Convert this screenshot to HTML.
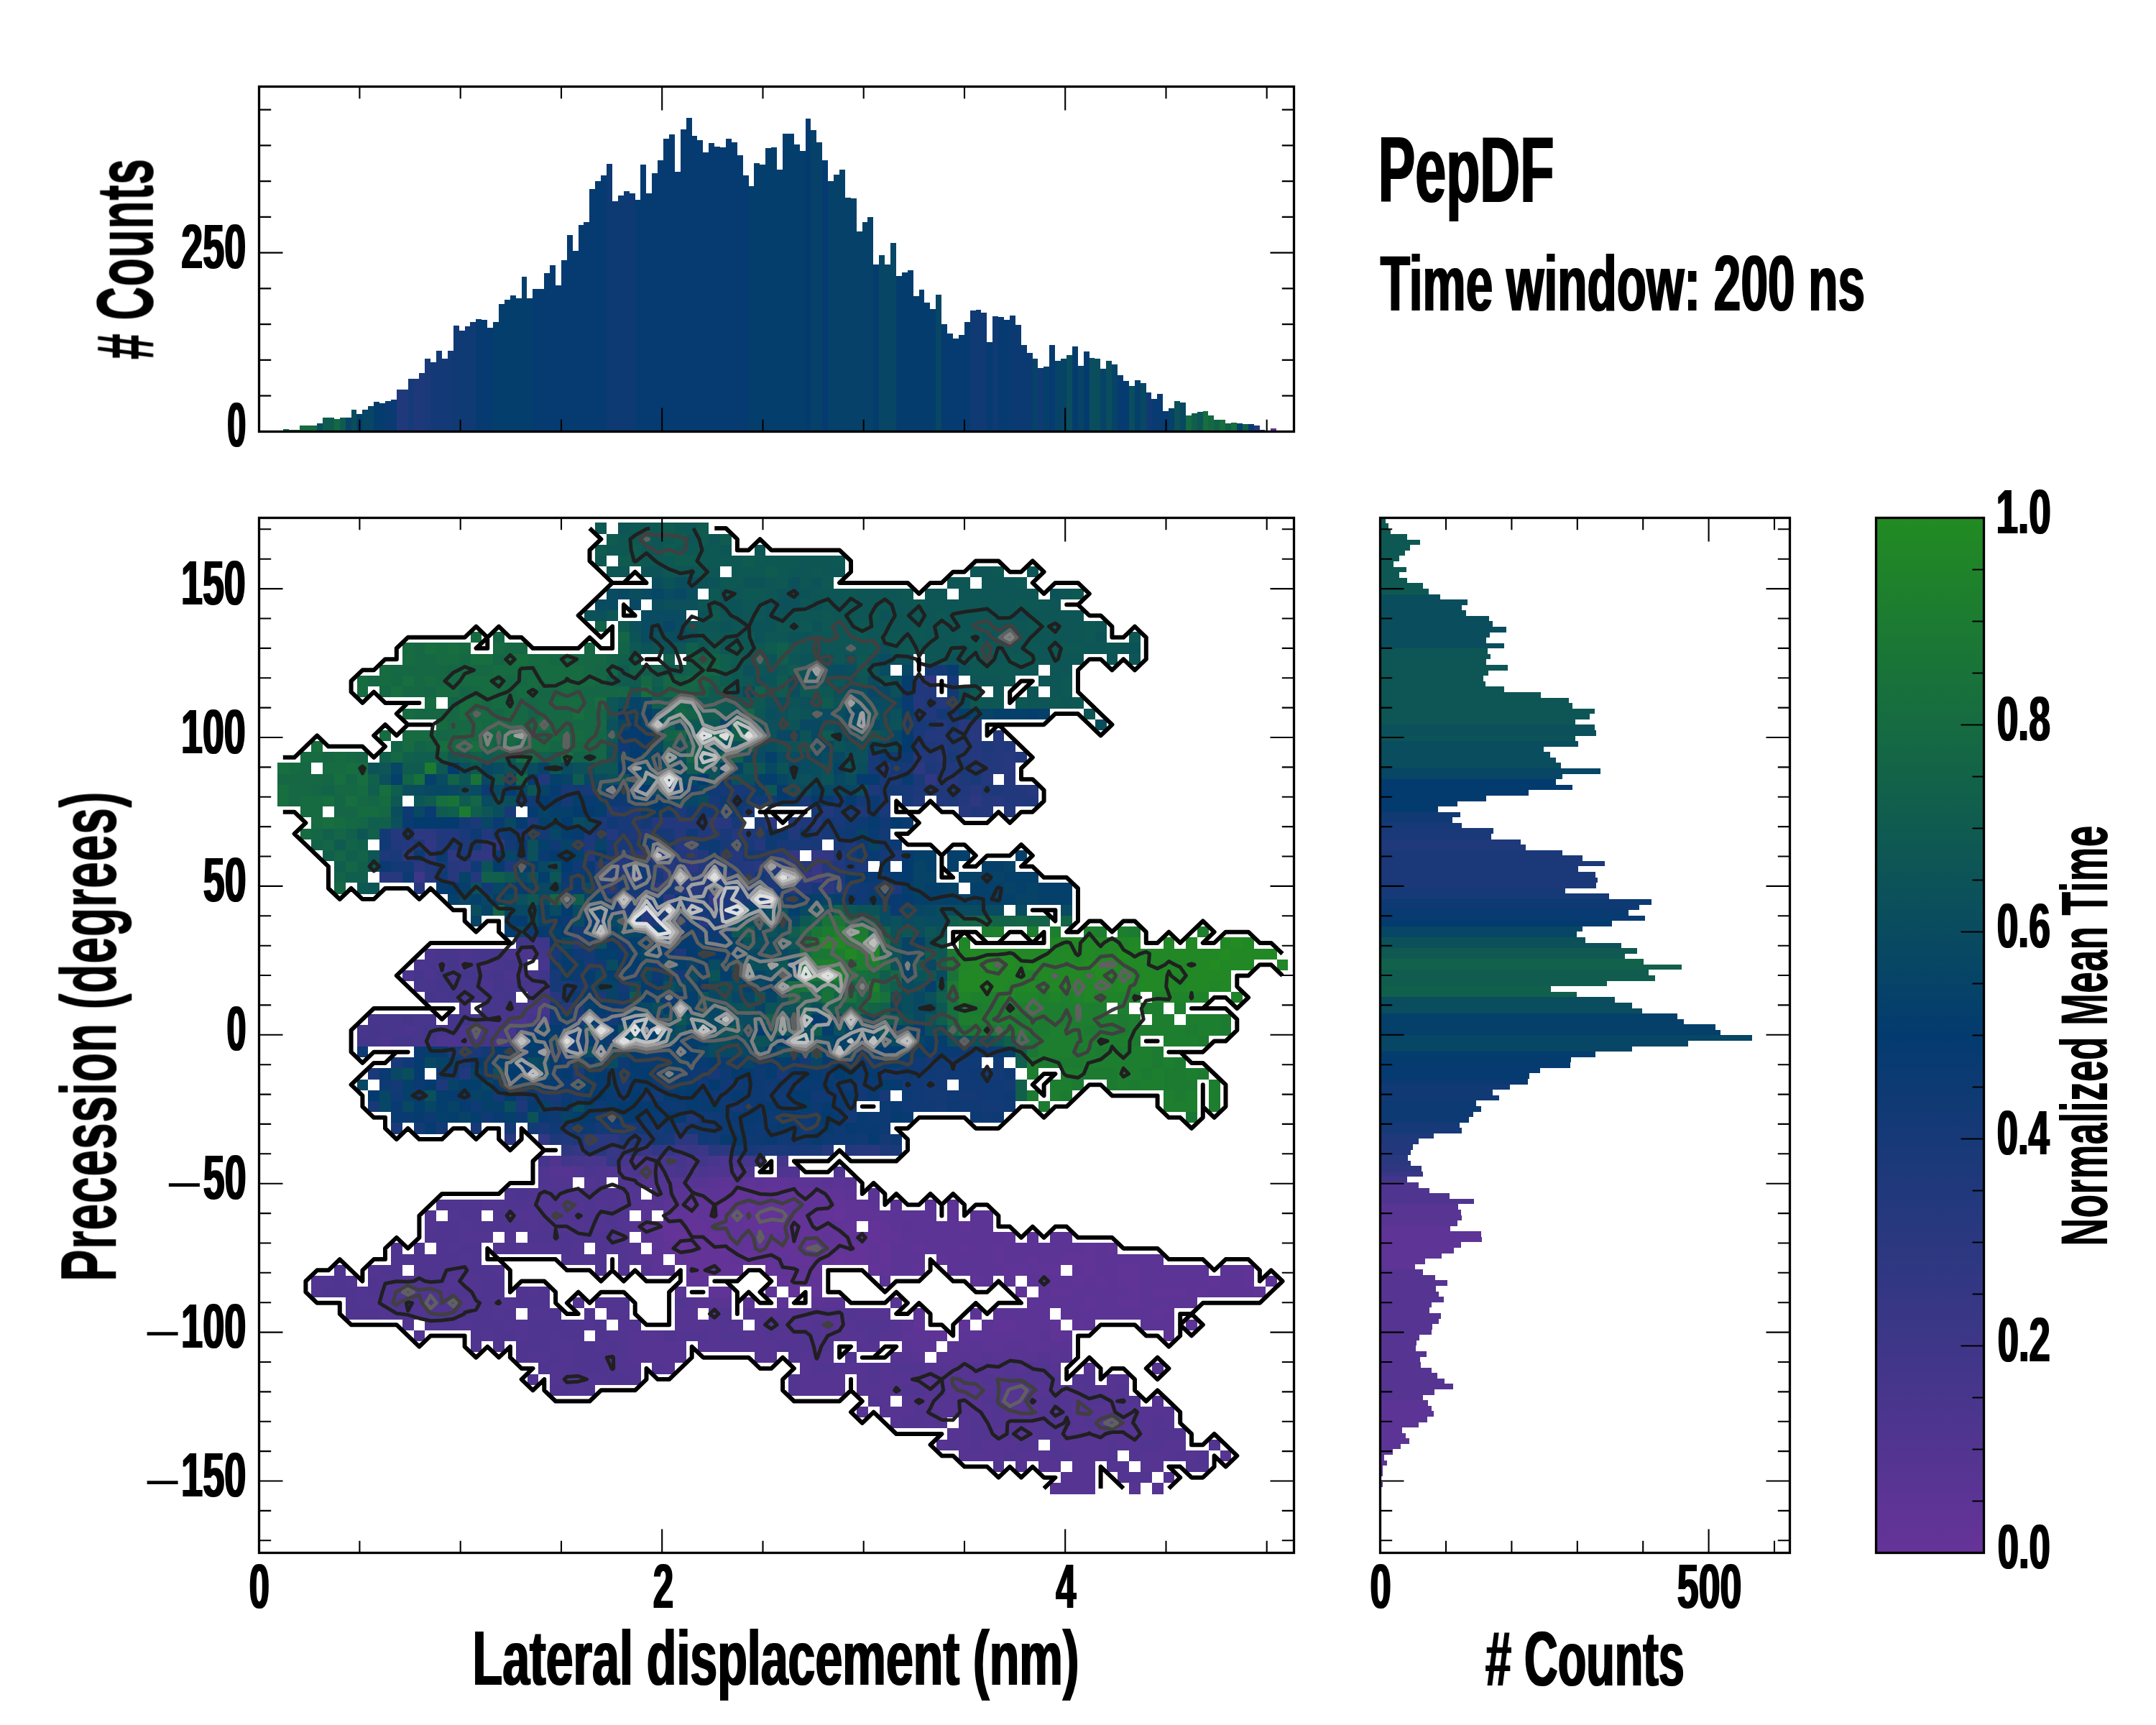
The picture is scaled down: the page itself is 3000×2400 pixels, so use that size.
<!DOCTYPE html>
<html><head><meta charset="utf-8"><title>PepDF</title>
<style>html,body{margin:0;padding:0;background:#fff}svg{display:block}text{font-family:"Liberation Sans",sans-serif;font-weight:bold;fill:#000}</style></head><body>
<svg width="3000" height="2400" viewBox="0 0 3000 2400">
<rect width="3000" height="2400" fill="#fff"/>
<defs><clipPath id="mc"><rect x="360.5" y="720.5" width="1440.0" height="1440.0"/></clipPath></defs>
<g shape-rendering="crispEdges" clip-path="url(#mc)">
<path fill="#663399" d="M1002.2 1668.6H1018.0V1683.8H1002.2ZM1160.2 1683.8H1176.1V1699.0H1160.2ZM1097.0 1699.0H1112.8V1714.2H1097.0ZM939.0 1714.2H954.8V1729.3H939.0ZM986.4 1714.2H1002.2V1729.3H986.4ZM939.0 1729.3H954.8V1744.5H939.0ZM1002.2 1729.3H1018.0V1744.5H1002.2ZM1033.8 1744.5H1049.6V1759.7H1033.8ZM1160.2 1744.5H1176.1V1759.7H1160.2Z"/>
<path fill="#633398" d="M1018.0 1653.4H1033.8V1668.6H1018.0ZM1049.6 1653.4H1081.2V1668.6H1049.6ZM1097.0 1653.4H1112.8V1668.6H1097.0ZM1128.6 1653.4H1144.4V1668.6H1128.6ZM986.4 1668.6H1002.2V1683.8H986.4ZM1018.0 1668.6H1049.6V1683.8H1018.0ZM1065.4 1668.6H1097.0V1683.8H1065.4ZM1160.2 1668.6H1176.1V1683.8H1160.2ZM954.8 1683.8H970.6V1699.0H954.8ZM986.4 1683.8H1018.0V1699.0H986.4ZM1033.8 1683.8H1081.2V1699.0H1033.8ZM1097.0 1683.8H1128.6V1699.0H1097.0ZM1144.4 1683.8H1160.2V1699.0H1144.4ZM923.2 1699.0H986.4V1714.2H923.2ZM1033.8 1699.0H1097.0V1714.2H1033.8ZM1112.8 1699.0H1128.6V1714.2H1112.8ZM1144.4 1699.0H1160.2V1714.2H1144.4ZM1176.1 1699.0H1191.9V1714.2H1176.1ZM1207.7 1699.0H1223.5V1714.2H1207.7ZM923.2 1714.2H939.0V1729.3H923.2ZM954.8 1714.2H986.4V1729.3H954.8ZM1002.2 1714.2H1018.0V1729.3H1002.2ZM1065.4 1714.2H1081.2V1729.3H1065.4ZM1097.0 1714.2H1144.4V1729.3H1097.0ZM1160.2 1714.2H1176.1V1729.3H1160.2ZM1191.9 1714.2H1223.5V1729.3H1191.9ZM954.8 1729.3H1002.2V1744.5H954.8ZM1033.8 1729.3H1207.7V1744.5H1033.8ZM1223.5 1729.3H1239.3V1744.5H1223.5ZM954.8 1744.5H1018.0V1759.7H954.8ZM1049.6 1744.5H1081.2V1759.7H1049.6ZM1097.0 1744.5H1128.6V1759.7H1097.0ZM1144.4 1744.5H1160.2V1759.7H1144.4ZM1176.1 1744.5H1207.7V1759.7H1176.1ZM1223.5 1744.5H1239.3V1759.7H1223.5ZM954.8 1759.7H1033.8V1774.9H954.8ZM1065.4 1759.7H1081.2V1774.9H1065.4ZM1097.0 1759.7H1112.8V1774.9H1097.0ZM1128.6 1759.7H1144.4V1774.9H1128.6ZM1207.7 1759.7H1223.5V1774.9H1207.7ZM1081.2 1774.9H1128.6V1790.1H1081.2ZM1097.0 1790.1H1112.8V1805.3H1097.0ZM1128.6 1790.1H1144.4V1805.3H1128.6Z"/>
<path fill="#5f3496" d="M1033.8 1638.3H1049.6V1653.4H1033.8ZM1065.4 1638.3H1097.0V1653.4H1065.4ZM1002.2 1653.4H1018.0V1668.6H1002.2ZM1033.8 1653.4H1049.6V1668.6H1033.8ZM1081.2 1653.4H1097.0V1668.6H1081.2ZM1112.8 1653.4H1128.6V1668.6H1112.8ZM1144.4 1653.4H1176.1V1668.6H1144.4ZM954.8 1668.6H986.4V1683.8H954.8ZM1049.6 1668.6H1065.4V1683.8H1049.6ZM1097.0 1668.6H1160.2V1683.8H1097.0ZM1176.1 1668.6H1207.7V1683.8H1176.1ZM923.2 1683.8H954.8V1699.0H923.2ZM970.6 1683.8H986.4V1699.0H970.6ZM1018.0 1683.8H1033.8V1699.0H1018.0ZM1081.2 1683.8H1097.0V1699.0H1081.2ZM1128.6 1683.8H1144.4V1699.0H1128.6ZM1176.1 1683.8H1223.5V1699.0H1176.1ZM907.4 1699.0H923.2V1714.2H907.4ZM986.4 1699.0H1033.8V1714.2H986.4ZM1128.6 1699.0H1144.4V1714.2H1128.6ZM1160.2 1699.0H1176.1V1714.2H1160.2ZM1223.5 1699.0H1239.3V1714.2H1223.5ZM1334.1 1699.0H1349.9V1714.2H1334.1ZM1018.0 1714.2H1065.4V1729.3H1018.0ZM1081.2 1714.2H1097.0V1729.3H1081.2ZM1144.4 1714.2H1160.2V1729.3H1144.4ZM1176.1 1714.2H1191.9V1729.3H1176.1ZM1223.5 1714.2H1255.1V1729.3H1223.5ZM1397.3 1714.2H1413.1V1729.3H1397.3ZM923.2 1729.3H939.0V1744.5H923.2ZM1018.0 1729.3H1033.8V1744.5H1018.0ZM1207.7 1729.3H1223.5V1744.5H1207.7ZM1270.9 1729.3H1286.7V1744.5H1270.9ZM1334.1 1729.3H1349.9V1744.5H1334.1ZM1381.5 1729.3H1397.3V1744.5H1381.5ZM1507.9 1729.3H1523.7V1744.5H1507.9ZM1539.5 1729.3H1555.3V1744.5H1539.5ZM939.0 1744.5H954.8V1759.7H939.0ZM1018.0 1744.5H1033.8V1759.7H1018.0ZM1081.2 1744.5H1097.0V1759.7H1081.2ZM1128.6 1744.5H1144.4V1759.7H1128.6ZM1207.7 1744.5H1223.5V1759.7H1207.7ZM1302.5 1744.5H1318.3V1759.7H1302.5ZM1381.5 1744.5H1397.3V1759.7H1381.5ZM1428.9 1744.5H1444.7V1759.7H1428.9ZM1476.3 1744.5H1523.7V1759.7H1476.3ZM1081.2 1759.7H1097.0V1774.9H1081.2ZM1112.8 1759.7H1128.6V1774.9H1112.8ZM1223.5 1759.7H1239.3V1774.9H1223.5ZM1270.9 1759.7H1286.7V1774.9H1270.9ZM1397.3 1759.7H1428.9V1774.9H1397.3ZM1444.7 1759.7H1476.3V1774.9H1444.7ZM1507.9 1759.7H1523.7V1774.9H1507.9ZM1555.3 1759.7H1586.9V1774.9H1555.3ZM1729.2 1759.7H1745.0V1774.9H1729.2ZM954.8 1774.9H986.4V1790.1H954.8ZM1128.6 1774.9H1144.4V1790.1H1128.6ZM1349.9 1774.9H1365.7V1790.1H1349.9ZM1492.1 1774.9H1507.9V1790.1H1492.1ZM1523.7 1774.9H1539.5V1790.1H1523.7ZM1555.3 1774.9H1586.9V1790.1H1555.3ZM1681.7 1774.9H1697.5V1790.1H1681.7ZM1729.2 1774.9H1745.0V1790.1H1729.2ZM986.4 1790.1H1018.0V1805.3H986.4ZM1065.4 1790.1H1081.2V1805.3H1065.4ZM1413.1 1790.1H1428.9V1805.3H1413.1ZM1460.5 1790.1H1492.1V1805.3H1460.5ZM1571.1 1790.1H1586.9V1805.3H1571.1ZM1602.7 1790.1H1650.1V1805.3H1602.7ZM1665.9 1790.1H1681.7V1805.3H1665.9ZM1745.0 1790.1H1760.8V1805.3H1745.0ZM1507.9 1805.3H1523.7V1820.4H1507.9ZM1555.3 1805.3H1586.9V1820.4H1555.3ZM1602.7 1820.4H1618.5V1835.6H1602.7ZM1270.9 1835.6H1286.7V1850.8H1270.9ZM1334.1 1835.6H1349.9V1850.8H1334.1ZM1381.5 1835.6H1413.1V1850.8H1381.5ZM1460.5 1835.6H1476.3V1850.8H1460.5ZM1492.1 1835.6H1507.9V1850.8H1492.1ZM1302.5 1850.8H1318.3V1866.0H1302.5ZM1460.5 1850.8H1476.3V1866.0H1460.5ZM1618.5 1850.8H1634.3V1866.0H1618.5Z"/>
<path fill="#5c3495" d="M1002.2 1638.3H1018.0V1653.4H1002.2ZM1049.6 1638.3H1065.4V1653.4H1049.6ZM1097.0 1638.3H1144.4V1653.4H1097.0ZM1160.2 1638.3H1176.1V1653.4H1160.2ZM954.8 1653.4H1002.2V1668.6H954.8ZM1176.1 1653.4H1191.9V1668.6H1176.1ZM923.2 1668.6H954.8V1683.8H923.2ZM1207.7 1668.6H1223.5V1683.8H1207.7ZM1286.7 1668.6H1302.5V1683.8H1286.7ZM1318.3 1668.6H1334.1V1683.8H1318.3ZM1223.5 1683.8H1302.5V1699.0H1223.5ZM1318.3 1683.8H1334.1V1699.0H1318.3ZM1349.9 1683.8H1381.5V1699.0H1349.9ZM891.6 1699.0H907.4V1714.2H891.6ZM1239.3 1699.0H1255.1V1714.2H1239.3ZM1270.9 1699.0H1334.1V1714.2H1270.9ZM1349.9 1699.0H1381.5V1714.2H1349.9ZM907.4 1714.2H923.2V1729.3H907.4ZM1255.1 1714.2H1397.3V1729.3H1255.1ZM1428.9 1714.2H1444.7V1729.3H1428.9ZM1460.5 1714.2H1492.1V1729.3H1460.5ZM907.4 1729.3H923.2V1744.5H907.4ZM1239.3 1729.3H1270.9V1744.5H1239.3ZM1286.7 1729.3H1334.1V1744.5H1286.7ZM1349.9 1729.3H1381.5V1744.5H1349.9ZM1397.3 1729.3H1507.9V1744.5H1397.3ZM1523.7 1729.3H1539.5V1744.5H1523.7ZM907.4 1744.5H923.2V1759.7H907.4ZM1239.3 1744.5H1286.7V1759.7H1239.3ZM1318.3 1744.5H1381.5V1759.7H1318.3ZM1397.3 1744.5H1428.9V1759.7H1397.3ZM1444.7 1744.5H1476.3V1759.7H1444.7ZM1523.7 1744.5H1618.5V1759.7H1523.7ZM907.4 1759.7H923.2V1774.9H907.4ZM1239.3 1759.7H1270.9V1774.9H1239.3ZM1318.3 1759.7H1397.3V1774.9H1318.3ZM1428.9 1759.7H1444.7V1774.9H1428.9ZM1492.1 1759.7H1507.9V1774.9H1492.1ZM1523.7 1759.7H1555.3V1774.9H1523.7ZM1586.9 1759.7H1681.7V1774.9H1586.9ZM1697.5 1759.7H1729.2V1774.9H1697.5ZM1223.5 1774.9H1239.3V1790.1H1223.5ZM1365.7 1774.9H1381.5V1790.1H1365.7ZM1397.3 1774.9H1413.1V1790.1H1397.3ZM1428.9 1774.9H1492.1V1790.1H1428.9ZM1507.9 1774.9H1523.7V1790.1H1507.9ZM1539.5 1774.9H1555.3V1790.1H1539.5ZM1586.9 1774.9H1681.7V1790.1H1586.9ZM1697.5 1774.9H1729.2V1790.1H1697.5ZM1760.8 1774.9H1776.6V1790.1H1760.8ZM1444.7 1790.1H1460.5V1805.3H1444.7ZM1492.1 1790.1H1571.1V1805.3H1492.1ZM1586.9 1790.1H1602.7V1805.3H1586.9ZM1650.1 1790.1H1665.9V1805.3H1650.1ZM1681.7 1790.1H1745.0V1805.3H1681.7ZM1033.8 1805.3H1049.6V1820.4H1033.8ZM1081.2 1805.3H1097.0V1820.4H1081.2ZM1128.6 1805.3H1144.4V1820.4H1128.6ZM1428.9 1805.3H1507.9V1820.4H1428.9ZM1523.7 1805.3H1555.3V1820.4H1523.7ZM1586.9 1805.3H1665.9V1820.4H1586.9ZM1270.9 1820.4H1286.7V1835.6H1270.9ZM1349.9 1820.4H1365.7V1835.6H1349.9ZM1381.5 1820.4H1460.5V1835.6H1381.5ZM1476.3 1820.4H1602.7V1835.6H1476.3ZM1618.5 1820.4H1634.3V1835.6H1618.5ZM1365.7 1835.6H1381.5V1850.8H1365.7ZM1413.1 1835.6H1460.5V1850.8H1413.1ZM1507.9 1835.6H1523.7V1850.8H1507.9ZM1586.9 1835.6H1634.3V1850.8H1586.9ZM1650.1 1835.6H1665.9V1850.8H1650.1ZM1255.1 1850.8H1302.5V1866.0H1255.1ZM1334.1 1850.8H1444.7V1866.0H1334.1ZM1476.3 1850.8H1492.1V1866.0H1476.3ZM1270.9 1866.0H1302.5V1881.2H1270.9ZM1334.1 1866.0H1349.9V1881.2H1334.1ZM1365.7 1866.0H1397.3V1881.2H1365.7ZM1428.9 1866.0H1460.5V1881.2H1428.9Z"/>
<path fill="#593493" d="M986.4 1638.3H1002.2V1653.4H986.4ZM1018.0 1638.3H1033.8V1653.4H1018.0ZM1144.4 1638.3H1160.2V1653.4H1144.4ZM1176.1 1638.3H1191.9V1653.4H1176.1ZM939.0 1653.4H954.8V1668.6H939.0ZM1207.7 1653.4H1223.5V1668.6H1207.7ZM891.6 1668.6H907.4V1683.8H891.6ZM1239.3 1668.6H1255.1V1683.8H1239.3ZM1255.1 1699.0H1270.9V1714.2H1255.1ZM891.6 1714.2H907.4V1729.3H891.6ZM891.6 1744.5H907.4V1759.7H891.6ZM923.2 1759.7H939.0V1774.9H923.2ZM939.0 1790.1H954.8V1805.3H939.0ZM970.6 1805.3H1018.0V1820.4H970.6ZM1144.4 1805.3H1176.1V1820.4H1144.4ZM1065.4 1820.4H1081.2V1835.6H1065.4ZM1097.0 1820.4H1112.8V1835.6H1097.0ZM1160.2 1835.6H1176.1V1850.8H1160.2ZM1255.1 1835.6H1270.9V1850.8H1255.1ZM1444.7 1850.8H1460.5V1866.0H1444.7ZM1255.1 1866.0H1270.9V1881.2H1255.1ZM1318.3 1866.0H1334.1V1881.2H1318.3ZM1349.9 1866.0H1365.7V1881.2H1349.9ZM1397.3 1866.0H1428.9V1881.2H1397.3ZM1460.5 1866.0H1492.1V1881.2H1460.5ZM1270.9 1881.2H1286.7V1896.3H1270.9ZM1302.5 1881.2H1365.7V1896.3H1302.5ZM1381.5 1881.2H1444.7V1896.3H1381.5ZM1460.5 1881.2H1476.3V1896.3H1460.5ZM1349.9 1941.9H1365.7V1957.1H1349.9Z"/>
<path fill="#563492" d="M765.2 1623.1H796.8V1638.3H765.2ZM891.6 1638.3H907.4V1653.4H891.6ZM923.2 1638.3H986.4V1653.4H923.2ZM907.4 1653.4H939.0V1668.6H907.4ZM875.8 1668.6H891.6V1683.8H875.8ZM907.4 1668.6H923.2V1683.8H907.4ZM891.6 1683.8H907.4V1699.0H891.6ZM875.8 1699.0H891.6V1714.2H875.8ZM860.0 1714.2H875.8V1729.3H860.0ZM875.8 1729.3H891.6V1744.5H875.8ZM875.8 1744.5H891.6V1759.7H875.8ZM891.6 1759.7H907.4V1774.9H891.6ZM954.8 1805.3H970.6V1820.4H954.8ZM1239.3 1805.3H1255.1V1820.4H1239.3ZM939.0 1820.4H970.6V1835.6H939.0ZM986.4 1820.4H1002.2V1835.6H986.4ZM1033.8 1820.4H1065.4V1835.6H1033.8ZM1081.2 1820.4H1097.0V1835.6H1081.2ZM1112.8 1820.4H1160.2V1835.6H1112.8ZM1191.9 1820.4H1239.3V1835.6H1191.9ZM939.0 1835.6H1002.2V1850.8H939.0ZM1018.0 1835.6H1033.8V1850.8H1018.0ZM1049.6 1835.6H1065.4V1850.8H1049.6ZM1097.0 1835.6H1128.6V1850.8H1097.0ZM1144.4 1835.6H1160.2V1850.8H1144.4ZM1176.1 1835.6H1191.9V1850.8H1176.1ZM1239.3 1835.6H1255.1V1850.8H1239.3ZM875.8 1850.8H923.2V1866.0H875.8ZM986.4 1850.8H1002.2V1866.0H986.4ZM1033.8 1850.8H1065.4V1866.0H1033.8ZM1081.2 1850.8H1112.8V1866.0H1081.2ZM1144.4 1850.8H1207.7V1866.0H1144.4ZM1223.5 1850.8H1255.1V1866.0H1223.5ZM875.8 1866.0H954.8V1881.2H875.8ZM970.6 1866.0H1081.2V1881.2H970.6ZM1128.6 1866.0H1144.4V1881.2H1128.6ZM1191.9 1866.0H1223.5V1881.2H1191.9ZM875.8 1881.2H954.8V1896.3H875.8ZM1049.6 1881.2H1081.2V1896.3H1049.6ZM1112.8 1881.2H1160.2V1896.3H1112.8ZM1239.3 1881.2H1270.9V1896.3H1239.3ZM1365.7 1881.2H1381.5V1896.3H1365.7ZM1444.7 1881.2H1460.5V1896.3H1444.7ZM1476.3 1881.2H1492.1V1896.3H1476.3ZM923.2 1896.3H939.0V1911.5H923.2ZM1112.8 1896.3H1128.6V1911.5H1112.8ZM1160.2 1896.3H1207.7V1911.5H1160.2ZM1223.5 1896.3H1239.3V1911.5H1223.5ZM1286.7 1896.3H1349.9V1911.5H1286.7ZM1365.7 1896.3H1397.3V1911.5H1365.7ZM1413.1 1896.3H1428.9V1911.5H1413.1ZM1460.5 1896.3H1476.3V1911.5H1460.5ZM1507.9 1896.3H1523.7V1911.5H1507.9ZM1602.7 1896.3H1618.5V1911.5H1602.7ZM1112.8 1911.5H1176.1V1926.7H1112.8ZM1191.9 1911.5H1207.7V1926.7H1191.9ZM1223.5 1911.5H1365.7V1926.7H1223.5ZM1381.5 1911.5H1397.3V1926.7H1381.5ZM1539.5 1911.5H1571.1V1926.7H1539.5ZM1112.8 1926.7H1176.1V1941.9H1112.8ZM1191.9 1926.7H1255.1V1941.9H1191.9ZM1286.7 1926.7H1302.5V1941.9H1286.7ZM1318.3 1926.7H1381.5V1941.9H1318.3ZM1397.3 1926.7H1460.5V1941.9H1397.3ZM1476.3 1926.7H1507.9V1941.9H1476.3ZM1523.7 1926.7H1555.3V1941.9H1523.7ZM1223.5 1941.9H1239.3V1957.1H1223.5ZM1255.1 1941.9H1349.9V1957.1H1255.1ZM1397.3 1941.9H1444.7V1957.1H1397.3ZM1492.1 1941.9H1507.9V1957.1H1492.1ZM1539.5 1941.9H1555.3V1957.1H1539.5ZM1602.7 1941.9H1618.5V1957.1H1602.7ZM1191.9 1957.1H1207.7V1972.2H1191.9ZM1223.5 1957.1H1270.9V1972.2H1223.5ZM1286.7 1957.1H1381.5V1972.2H1286.7ZM1397.3 1957.1H1444.7V1972.2H1397.3ZM1460.5 1957.1H1476.3V1972.2H1460.5ZM1492.1 1957.1H1555.3V1972.2H1492.1ZM1571.1 1957.1H1634.3V1972.2H1571.1ZM1239.3 1972.2H1255.1V1987.4H1239.3ZM1286.7 1972.2H1302.5V1987.4H1286.7ZM1334.1 1972.2H1349.9V1987.4H1334.1ZM1365.7 1972.2H1381.5V1987.4H1365.7ZM1397.3 1972.2H1413.1V1987.4H1397.3ZM1428.9 1972.2H1444.7V1987.4H1428.9ZM1492.1 1972.2H1507.9V1987.4H1492.1ZM1523.7 1972.2H1571.1V1987.4H1523.7ZM1586.9 1972.2H1602.7V1987.4H1586.9ZM1618.5 1972.2H1634.3V1987.4H1618.5ZM1318.3 1987.4H1349.9V2002.6H1318.3ZM1381.5 1987.4H1397.3V2002.6H1381.5ZM1413.1 1987.4H1444.7V2002.6H1413.1ZM1476.3 1987.4H1602.7V2002.6H1476.3ZM1302.5 2002.6H1318.3V2017.8H1302.5ZM1334.1 2002.6H1349.9V2017.8H1334.1ZM1365.7 2002.6H1413.1V2017.8H1365.7ZM1476.3 2002.6H1539.5V2017.8H1476.3ZM1555.3 2002.6H1586.9V2017.8H1555.3ZM1618.5 2002.6H1650.1V2017.8H1618.5ZM1334.1 2017.8H1397.3V2033.0H1334.1ZM1413.1 2017.8H1460.5V2033.0H1413.1ZM1492.1 2017.8H1539.5V2033.0H1492.1ZM1586.9 2017.8H1634.3V2033.0H1586.9ZM1650.1 2017.8H1665.9V2033.0H1650.1ZM1697.5 2017.8H1713.4V2033.0H1697.5ZM1413.1 2033.0H1428.9V2048.1H1413.1ZM1444.7 2033.0H1476.3V2048.1H1444.7ZM1492.1 2033.0H1523.7V2048.1H1492.1ZM1586.9 2033.0H1618.5V2048.1H1586.9ZM1476.3 2048.1H1523.7V2063.3H1476.3ZM1460.5 2063.3H1523.7V2078.5H1460.5ZM1571.1 2063.3H1586.9V2078.5H1571.1ZM1602.7 2063.3H1618.5V2078.5H1602.7Z"/>
<path fill="#523591" d="M796.8 1623.1H812.6V1638.3H796.8ZM844.2 1623.1H860.0V1638.3H844.2ZM1018.0 1623.1H1033.8V1638.3H1018.0ZM765.2 1638.3H796.8V1653.4H765.2ZM812.6 1638.3H828.4V1653.4H812.6ZM860.0 1638.3H891.6V1653.4H860.0ZM907.4 1638.3H923.2V1653.4H907.4ZM749.4 1653.4H765.2V1668.6H749.4ZM860.0 1653.4H891.6V1668.6H860.0ZM670.4 1668.6H702.0V1683.8H670.4ZM733.6 1668.6H765.2V1683.8H733.6ZM796.8 1668.6H812.6V1683.8H796.8ZM828.4 1668.6H844.2V1683.8H828.4ZM860.0 1668.6H875.8V1683.8H860.0ZM591.3 1683.8H607.1V1699.0H591.3ZM622.9 1683.8H638.7V1699.0H622.9ZM702.0 1683.8H781.0V1699.0H702.0ZM828.4 1683.8H844.2V1699.0H828.4ZM860.0 1683.8H875.8V1699.0H860.0ZM591.3 1699.0H607.1V1714.2H591.3ZM638.7 1699.0H654.6V1714.2H638.7ZM733.6 1699.0H749.4V1714.2H733.6ZM765.2 1699.0H812.6V1714.2H765.2ZM828.4 1699.0H844.2V1714.2H828.4ZM860.0 1699.0H875.8V1714.2H860.0ZM638.7 1714.2H686.2V1729.3H638.7ZM702.0 1714.2H717.8V1729.3H702.0ZM622.9 1729.3H638.7V1744.5H622.9ZM686.2 1729.3H702.0V1744.5H686.2ZM717.8 1729.3H781.0V1744.5H717.8ZM796.8 1729.3H812.6V1744.5H796.8ZM844.2 1729.3H875.8V1744.5H844.2ZM638.7 1744.5H654.6V1759.7H638.7ZM781.0 1744.5H828.4V1759.7H781.0ZM860.0 1744.5H875.8V1759.7H860.0ZM512.3 1759.7H528.1V1774.9H512.3ZM686.2 1759.7H702.0V1774.9H686.2ZM860.0 1759.7H875.8V1774.9H860.0ZM433.3 1774.9H464.9V1790.1H433.3ZM480.7 1774.9H496.5V1790.1H480.7ZM528.1 1774.9H543.9V1790.1H528.1ZM559.7 1774.9H575.5V1790.1H559.7ZM622.9 1774.9H670.4V1790.1H622.9ZM433.3 1790.1H449.1V1805.3H433.3ZM496.5 1790.1H512.3V1805.3H496.5ZM543.9 1790.1H559.7V1805.3H543.9ZM575.5 1790.1H591.3V1805.3H575.5ZM607.1 1790.1H622.9V1805.3H607.1ZM654.6 1790.1H670.4V1805.3H654.6ZM733.6 1790.1H749.4V1805.3H733.6ZM496.5 1805.3H528.1V1820.4H496.5ZM638.7 1805.3H654.6V1820.4H638.7ZM686.2 1805.3H717.8V1820.4H686.2ZM796.8 1805.3H812.6V1820.4H796.8ZM828.4 1805.3H875.8V1820.4H828.4ZM939.0 1805.3H954.8V1820.4H939.0ZM528.1 1820.4H543.9V1835.6H528.1ZM575.5 1820.4H591.3V1835.6H575.5ZM686.2 1820.4H702.0V1835.6H686.2ZM733.6 1820.4H765.2V1835.6H733.6ZM844.2 1820.4H875.8V1835.6H844.2ZM1002.2 1820.4H1018.0V1835.6H1002.2ZM1160.2 1820.4H1191.9V1835.6H1160.2ZM559.7 1835.6H575.5V1850.8H559.7ZM638.7 1835.6H654.6V1850.8H638.7ZM702.0 1835.6H733.6V1850.8H702.0ZM812.6 1835.6H828.4V1850.8H812.6ZM860.0 1835.6H891.6V1850.8H860.0ZM1002.2 1835.6H1018.0V1850.8H1002.2ZM1065.4 1835.6H1097.0V1850.8H1065.4ZM1128.6 1835.6H1144.4V1850.8H1128.6ZM1191.9 1835.6H1239.3V1850.8H1191.9ZM575.5 1850.8H591.3V1866.0H575.5ZM670.4 1850.8H686.2V1866.0H670.4ZM717.8 1850.8H733.6V1866.0H717.8ZM765.2 1850.8H781.0V1866.0H765.2ZM844.2 1850.8H875.8V1866.0H844.2ZM939.0 1850.8H986.4V1866.0H939.0ZM1002.2 1850.8H1033.8V1866.0H1002.2ZM1065.4 1850.8H1081.2V1866.0H1065.4ZM1112.8 1850.8H1144.4V1866.0H1112.8ZM1207.7 1850.8H1223.5V1866.0H1207.7ZM765.2 1866.0H796.8V1881.2H765.2ZM828.4 1866.0H844.2V1881.2H828.4ZM860.0 1866.0H875.8V1881.2H860.0ZM1081.2 1866.0H1128.6V1881.2H1081.2ZM1144.4 1866.0H1160.2V1881.2H1144.4ZM733.6 1881.2H765.2V1896.3H733.6ZM781.0 1881.2H796.8V1896.3H781.0ZM844.2 1881.2H875.8V1896.3H844.2ZM1097.0 1881.2H1112.8V1896.3H1097.0ZM1176.1 1881.2H1191.9V1896.3H1176.1ZM765.2 1896.3H796.8V1911.5H765.2ZM844.2 1896.3H891.6V1911.5H844.2ZM907.4 1896.3H923.2V1911.5H907.4ZM1128.6 1896.3H1160.2V1911.5H1128.6ZM1207.7 1896.3H1223.5V1911.5H1207.7ZM1239.3 1896.3H1286.7V1911.5H1239.3ZM1349.9 1896.3H1365.7V1911.5H1349.9ZM1397.3 1896.3H1413.1V1911.5H1397.3ZM1428.9 1896.3H1460.5V1911.5H1428.9ZM733.6 1911.5H749.4V1926.7H733.6ZM765.2 1911.5H796.8V1926.7H765.2ZM812.6 1911.5H844.2V1926.7H812.6ZM875.8 1911.5H891.6V1926.7H875.8ZM1097.0 1911.5H1112.8V1926.7H1097.0ZM1207.7 1911.5H1223.5V1926.7H1207.7ZM1365.7 1911.5H1381.5V1926.7H1365.7ZM1397.3 1911.5H1476.3V1926.7H1397.3ZM1492.1 1911.5H1523.7V1926.7H1492.1ZM796.8 1926.7H812.6V1941.9H796.8ZM1097.0 1926.7H1112.8V1941.9H1097.0ZM1255.1 1926.7H1286.7V1941.9H1255.1ZM1302.5 1926.7H1318.3V1941.9H1302.5ZM1381.5 1926.7H1397.3V1941.9H1381.5ZM1460.5 1926.7H1476.3V1941.9H1460.5ZM1507.9 1926.7H1523.7V1941.9H1507.9ZM1555.3 1926.7H1571.1V1941.9H1555.3ZM1207.7 1941.9H1223.5V1957.1H1207.7ZM1365.7 1941.9H1397.3V1957.1H1365.7ZM1444.7 1941.9H1492.1V1957.1H1444.7ZM1507.9 1941.9H1539.5V1957.1H1507.9ZM1555.3 1941.9H1586.9V1957.1H1555.3ZM1270.9 1957.1H1286.7V1972.2H1270.9ZM1381.5 1957.1H1397.3V1972.2H1381.5ZM1444.7 1957.1H1460.5V1972.2H1444.7ZM1476.3 1957.1H1492.1V1972.2H1476.3ZM1555.3 1957.1H1571.1V1972.2H1555.3ZM1255.1 1972.2H1286.7V1987.4H1255.1ZM1302.5 1972.2H1318.3V1987.4H1302.5ZM1349.9 1972.2H1365.7V1987.4H1349.9ZM1381.5 1972.2H1397.3V1987.4H1381.5ZM1413.1 1972.2H1428.9V1987.4H1413.1ZM1444.7 1972.2H1492.1V1987.4H1444.7ZM1507.9 1972.2H1523.7V1987.4H1507.9ZM1571.1 1972.2H1586.9V1987.4H1571.1ZM1602.7 1972.2H1618.5V1987.4H1602.7ZM1349.9 1987.4H1381.5V2002.6H1349.9ZM1397.3 1987.4H1413.1V2002.6H1397.3ZM1444.7 1987.4H1476.3V2002.6H1444.7ZM1602.7 1987.4H1650.1V2002.6H1602.7ZM1318.3 2002.6H1334.1V2017.8H1318.3ZM1349.9 2002.6H1365.7V2017.8H1349.9ZM1413.1 2002.6H1444.7V2017.8H1413.1ZM1460.5 2002.6H1476.3V2017.8H1460.5ZM1539.5 2002.6H1555.3V2017.8H1539.5ZM1586.9 2002.6H1618.5V2017.8H1586.9ZM1681.7 2002.6H1697.5V2017.8H1681.7ZM1397.3 2017.8H1413.1V2033.0H1397.3ZM1460.5 2017.8H1492.1V2033.0H1460.5ZM1539.5 2017.8H1555.3V2033.0H1539.5ZM1571.1 2017.8H1586.9V2033.0H1571.1ZM1634.3 2017.8H1650.1V2033.0H1634.3ZM1665.9 2017.8H1681.7V2033.0H1665.9ZM1381.5 2033.0H1397.3V2048.1H1381.5ZM1539.5 2033.0H1571.1V2048.1H1539.5ZM1650.1 2033.0H1681.7V2048.1H1650.1ZM1555.3 2048.1H1602.7V2063.3H1555.3ZM1618.5 2048.1H1634.3V2063.3H1618.5Z"/>
<path fill="#4f358f" d="M638.7 1334.6H654.6V1349.8H638.7ZM765.2 1607.9H781.0V1623.1H765.2ZM875.8 1607.9H891.6V1623.1H875.8ZM749.4 1623.1H765.2V1638.3H749.4ZM828.4 1623.1H844.2V1638.3H828.4ZM860.0 1623.1H875.8V1638.3H860.0ZM891.6 1623.1H923.2V1638.3H891.6ZM954.8 1623.1H970.6V1638.3H954.8ZM986.4 1623.1H1018.0V1638.3H986.4ZM1033.8 1623.1H1049.6V1638.3H1033.8ZM1081.2 1623.1H1112.8V1638.3H1081.2ZM1160.2 1623.1H1176.1V1638.3H1160.2ZM749.4 1638.3H765.2V1653.4H749.4ZM828.4 1638.3H844.2V1653.4H828.4ZM702.0 1653.4H717.8V1668.6H702.0ZM733.6 1653.4H749.4V1668.6H733.6ZM765.2 1653.4H860.0V1668.6H765.2ZM607.1 1668.6H670.4V1683.8H607.1ZM702.0 1668.6H733.6V1683.8H702.0ZM765.2 1668.6H796.8V1683.8H765.2ZM812.6 1668.6H828.4V1683.8H812.6ZM844.2 1668.6H860.0V1683.8H844.2ZM638.7 1683.8H670.4V1699.0H638.7ZM686.2 1683.8H702.0V1699.0H686.2ZM781.0 1683.8H828.4V1699.0H781.0ZM844.2 1683.8H860.0V1699.0H844.2ZM607.1 1699.0H638.7V1714.2H607.1ZM654.6 1699.0H733.6V1714.2H654.6ZM749.4 1699.0H765.2V1714.2H749.4ZM812.6 1699.0H828.4V1714.2H812.6ZM844.2 1699.0H860.0V1714.2H844.2ZM591.3 1714.2H638.7V1729.3H591.3ZM733.6 1714.2H860.0V1729.3H733.6ZM543.9 1729.3H559.7V1744.5H543.9ZM575.5 1729.3H591.3V1744.5H575.5ZM607.1 1729.3H622.9V1744.5H607.1ZM638.7 1729.3H670.4V1744.5H638.7ZM702.0 1729.3H717.8V1744.5H702.0ZM781.0 1729.3H796.8V1744.5H781.0ZM828.4 1729.3H844.2V1744.5H828.4ZM543.9 1744.5H638.7V1759.7H543.9ZM654.6 1744.5H670.4V1759.7H654.6ZM828.4 1744.5H844.2V1759.7H828.4ZM464.9 1759.7H480.7V1774.9H464.9ZM528.1 1759.7H559.7V1774.9H528.1ZM575.5 1759.7H686.2V1774.9H575.5ZM828.4 1759.7H844.2V1774.9H828.4ZM464.9 1774.9H480.7V1790.1H464.9ZM512.3 1774.9H528.1V1790.1H512.3ZM543.9 1774.9H559.7V1790.1H543.9ZM575.5 1774.9H622.9V1790.1H575.5ZM670.4 1774.9H702.0V1790.1H670.4ZM449.1 1790.1H496.5V1805.3H449.1ZM512.3 1790.1H543.9V1805.3H512.3ZM559.7 1790.1H575.5V1805.3H559.7ZM591.3 1790.1H607.1V1805.3H591.3ZM622.9 1790.1H654.6V1805.3H622.9ZM670.4 1790.1H702.0V1805.3H670.4ZM717.8 1790.1H733.6V1805.3H717.8ZM749.4 1790.1H765.2V1805.3H749.4ZM480.7 1805.3H496.5V1820.4H480.7ZM528.1 1805.3H638.7V1820.4H528.1ZM654.6 1805.3H686.2V1820.4H654.6ZM717.8 1805.3H765.2V1820.4H717.8ZM480.7 1820.4H528.1V1835.6H480.7ZM543.9 1820.4H575.5V1835.6H543.9ZM591.3 1820.4H686.2V1835.6H591.3ZM702.0 1820.4H717.8V1835.6H702.0ZM765.2 1820.4H781.0V1835.6H765.2ZM812.6 1820.4H828.4V1835.6H812.6ZM591.3 1835.6H638.7V1850.8H591.3ZM654.6 1835.6H702.0V1850.8H654.6ZM733.6 1835.6H812.6V1850.8H733.6ZM828.4 1835.6H844.2V1850.8H828.4ZM654.6 1850.8H670.4V1866.0H654.6ZM686.2 1850.8H717.8V1866.0H686.2ZM733.6 1850.8H765.2V1866.0H733.6ZM781.0 1850.8H812.6V1866.0H781.0ZM828.4 1850.8H844.2V1866.0H828.4ZM923.2 1850.8H939.0V1866.0H923.2ZM654.6 1866.0H670.4V1881.2H654.6ZM686.2 1866.0H702.0V1881.2H686.2ZM717.8 1866.0H765.2V1881.2H717.8ZM796.8 1866.0H828.4V1881.2H796.8ZM844.2 1866.0H860.0V1881.2H844.2ZM717.8 1881.2H733.6V1896.3H717.8ZM765.2 1881.2H781.0V1896.3H765.2ZM796.8 1881.2H844.2V1896.3H796.8ZM749.4 1896.3H765.2V1911.5H749.4ZM796.8 1896.3H844.2V1911.5H796.8ZM796.8 1911.5H812.6V1926.7H796.8ZM844.2 1911.5H875.8V1926.7H844.2ZM765.2 1926.7H796.8V1941.9H765.2ZM812.6 1926.7H828.4V1941.9H812.6Z"/>
<path fill="#4c358e" d="M591.3 1319.5H607.1V1334.6H591.3ZM638.7 1319.5H654.6V1334.6H638.7ZM702.0 1319.5H749.4V1334.6H702.0ZM575.5 1334.6H591.3V1349.8H575.5ZM607.1 1334.6H622.9V1349.8H607.1ZM670.4 1334.6H686.2V1349.8H670.4ZM559.7 1349.8H575.5V1365.0H559.7ZM591.3 1349.8H607.1V1365.0H591.3ZM702.0 1349.8H733.6V1365.0H702.0ZM670.4 1365.0H686.2V1380.2H670.4ZM638.7 1395.4H654.6V1410.5H638.7ZM733.6 1395.4H749.4V1410.5H733.6ZM686.2 1410.5H702.0V1425.7H686.2ZM717.8 1410.5H733.6V1425.7H717.8ZM559.7 1425.7H575.5V1440.9H559.7ZM638.7 1425.7H686.2V1440.9H638.7ZM528.1 1440.9H543.9V1456.1H528.1ZM607.1 1440.9H654.6V1456.1H607.1ZM686.2 1440.9H702.0V1456.1H686.2ZM891.6 1607.9H907.4V1623.1H891.6ZM954.8 1607.9H970.6V1623.1H954.8ZM1002.2 1607.9H1018.0V1623.1H1002.2ZM812.6 1623.1H828.4V1638.3H812.6ZM875.8 1623.1H891.6V1638.3H875.8ZM923.2 1623.1H939.0V1638.3H923.2ZM970.6 1623.1H986.4V1638.3H970.6ZM717.8 1653.4H733.6V1668.6H717.8Z"/>
<path fill="#48358c" d="M607.1 1319.5H638.7V1334.6H607.1ZM654.6 1319.5H670.4V1334.6H654.6ZM591.3 1334.6H607.1V1349.8H591.3ZM654.6 1334.6H670.4V1349.8H654.6ZM686.2 1334.6H702.0V1349.8H686.2ZM717.8 1334.6H733.6V1349.8H717.8ZM749.4 1334.6H765.2V1349.8H749.4ZM622.9 1349.8H638.7V1365.0H622.9ZM670.4 1349.8H686.2V1365.0H670.4ZM733.6 1349.8H749.4V1365.0H733.6ZM575.5 1365.0H607.1V1380.2H575.5ZM638.7 1365.0H670.4V1380.2H638.7ZM702.0 1365.0H717.8V1380.2H702.0ZM733.6 1365.0H765.2V1380.2H733.6ZM607.1 1380.2H622.9V1395.4H607.1ZM638.7 1380.2H702.0V1395.4H638.7ZM670.4 1395.4H733.6V1410.5H670.4ZM512.3 1410.5H559.7V1425.7H512.3ZM575.5 1410.5H607.1V1425.7H575.5ZM670.4 1410.5H686.2V1425.7H670.4ZM702.0 1410.5H717.8V1425.7H702.0ZM496.5 1425.7H512.3V1440.9H496.5ZM528.1 1425.7H559.7V1440.9H528.1ZM575.5 1425.7H591.3V1440.9H575.5ZM607.1 1425.7H622.9V1440.9H607.1ZM686.2 1425.7H717.8V1440.9H686.2ZM575.5 1440.9H591.3V1456.1H575.5ZM654.6 1440.9H670.4V1456.1H654.6ZM812.6 1607.9H844.2V1623.1H812.6ZM860.0 1607.9H875.8V1623.1H860.0ZM907.4 1607.9H939.0V1623.1H907.4ZM986.4 1607.9H1002.2V1623.1H986.4ZM1018.0 1607.9H1033.8V1623.1H1018.0ZM939.0 1623.1H954.8V1638.3H939.0Z"/>
<path fill="#45368b" d="M670.4 1319.5H702.0V1334.6H670.4ZM622.9 1334.6H638.7V1349.8H622.9ZM702.0 1334.6H717.8V1349.8H702.0ZM575.5 1349.8H591.3V1365.0H575.5ZM607.1 1349.8H622.9V1365.0H607.1ZM638.7 1349.8H670.4V1365.0H638.7ZM686.2 1349.8H702.0V1365.0H686.2ZM607.1 1365.0H638.7V1380.2H607.1ZM686.2 1365.0H702.0V1380.2H686.2ZM717.8 1365.0H733.6V1380.2H717.8ZM591.3 1380.2H607.1V1395.4H591.3ZM622.9 1380.2H638.7V1395.4H622.9ZM702.0 1380.2H717.8V1395.4H702.0ZM733.6 1380.2H765.2V1395.4H733.6ZM749.4 1395.4H765.2V1410.5H749.4ZM559.7 1410.5H575.5V1425.7H559.7ZM622.9 1410.5H638.7V1425.7H622.9ZM654.6 1410.5H670.4V1425.7H654.6ZM733.6 1410.5H749.4V1425.7H733.6ZM512.3 1425.7H528.1V1440.9H512.3ZM591.3 1425.7H607.1V1440.9H591.3ZM622.9 1425.7H638.7V1440.9H622.9ZM496.5 1440.9H528.1V1456.1H496.5ZM543.9 1440.9H575.5V1456.1H543.9ZM591.3 1440.9H607.1V1456.1H591.3ZM670.4 1440.9H686.2V1456.1H670.4ZM749.4 1607.9H765.2V1623.1H749.4ZM796.8 1607.9H812.6V1623.1H796.8ZM939.0 1607.9H954.8V1623.1H939.0ZM1033.8 1607.9H1049.6V1623.1H1033.8ZM1081.2 1607.9H1097.0V1623.1H1081.2Z"/>
<path fill="#42368a" d="M717.8 1304.3H749.4V1319.5H717.8ZM749.4 1319.5H765.2V1334.6H749.4ZM638.7 1410.5H654.6V1425.7H638.7ZM781.0 1607.9H796.8V1623.1H781.0ZM970.6 1607.9H986.4V1623.1H970.6Z"/>
<path fill="#3e3688" d="M575.5 1213.2H591.3V1228.4H575.5ZM749.4 1304.3H765.2V1319.5H749.4ZM749.4 1349.8H765.2V1365.0H749.4ZM749.4 1410.5H765.2V1425.7H749.4ZM702.0 1440.9H717.8V1456.1H702.0ZM1049.6 1607.9H1065.4V1623.1H1049.6Z"/>
<path fill="#3b3687" d="M1128.6 1213.2H1144.4V1228.4H1128.6ZM891.6 1592.7H907.4V1607.9H891.6ZM939.0 1592.7H954.8V1607.9H939.0ZM970.6 1592.7H986.4V1607.9H970.6Z"/>
<path fill="#383785" d="M1128.6 1198.0H1144.4V1213.2H1128.6ZM844.2 1592.7H860.0V1607.9H844.2ZM954.8 1592.7H970.6V1607.9H954.8Z"/>
<path fill="#343784" d="M1097.0 1182.8H1112.8V1198.0H1097.0ZM1128.6 1182.8H1144.4V1198.0H1128.6ZM986.4 1243.6H1002.2V1258.7H986.4ZM749.4 1577.5H765.2V1592.7H749.4ZM796.8 1592.7H812.6V1607.9H796.8ZM860.0 1592.7H875.8V1607.9H860.0ZM923.2 1592.7H939.0V1607.9H923.2ZM844.2 1607.9H860.0V1623.1H844.2Z"/>
<path fill="#313783" d="M1286.7 939.9H1302.5V955.1H1286.7ZM1286.7 1076.6H1302.5V1091.7H1286.7ZM591.3 1167.6H607.1V1182.8H591.3ZM686.2 1167.6H702.0V1182.8H686.2ZM670.4 1182.8H686.2V1198.0H670.4ZM1144.4 1182.8H1160.2V1198.0H1144.4ZM1112.8 1213.2H1128.6V1228.4H1112.8ZM860.0 1243.6H875.8V1258.7H860.0ZM717.8 1425.7H733.6V1440.9H717.8ZM907.4 1592.7H923.2V1607.9H907.4Z"/>
<path fill="#2e3881" d="M1270.9 1061.4H1286.7V1076.6H1270.9ZM1349.9 1106.9H1365.7V1122.1H1349.9ZM1065.4 1137.3H1081.2V1152.5H1065.4ZM575.5 1152.5H591.3V1167.6H575.5ZM670.4 1167.6H686.2V1182.8H670.4ZM559.7 1182.8H575.5V1198.0H559.7ZM622.9 1182.8H638.7V1198.0H622.9ZM654.6 1182.8H670.4V1198.0H654.6ZM891.6 1182.8H907.4V1198.0H891.6ZM954.8 1198.0H970.6V1213.2H954.8ZM1097.0 1198.0H1112.8V1213.2H1097.0ZM1144.4 1228.4H1160.2V1243.6H1144.4ZM812.6 1577.5H828.4V1592.7H812.6ZM781.0 1592.7H796.8V1607.9H781.0Z"/>
<path fill="#2b3880" d="M986.4 1137.3H1002.2V1152.5H986.4ZM591.3 1152.5H607.1V1167.6H591.3ZM954.8 1167.6H970.6V1182.8H954.8ZM907.4 1182.8H923.2V1198.0H907.4ZM575.5 1198.0H591.3V1213.2H575.5ZM638.7 1198.0H654.6V1213.2H638.7ZM1049.6 1198.0H1065.4V1213.2H1049.6ZM875.8 1213.2H891.6V1228.4H875.8ZM923.2 1213.2H939.0V1228.4H923.2ZM1144.4 1213.2H1160.2V1228.4H1144.4ZM923.2 1243.6H939.0V1258.7H923.2ZM828.4 1577.5H860.0V1592.7H828.4ZM939.0 1577.5H970.6V1592.7H939.0ZM875.8 1592.7H891.6V1607.9H875.8ZM1002.2 1592.7H1018.0V1607.9H1002.2Z"/>
<path fill="#27387e" d="M1334.1 1000.7H1365.7V1015.8H1334.1ZM1349.9 1015.8H1365.7V1031.0H1349.9ZM1302.5 1046.2H1318.3V1061.4H1302.5ZM1397.3 1046.2H1413.1V1061.4H1397.3ZM1397.3 1061.4H1413.1V1076.6H1397.3ZM1318.3 1076.6H1334.1V1091.7H1318.3ZM1349.9 1091.7H1365.7V1106.9H1349.9ZM1428.9 1091.7H1444.7V1106.9H1428.9ZM1381.5 1106.9H1397.3V1122.1H1381.5ZM1334.1 1122.1H1349.9V1137.3H1334.1ZM1002.2 1137.3H1018.0V1152.5H1002.2ZM939.0 1167.6H954.8V1182.8H939.0ZM591.3 1182.8H607.1V1198.0H591.3ZM875.8 1182.8H891.6V1198.0H875.8ZM954.8 1182.8H970.6V1198.0H954.8ZM622.9 1198.0H638.7V1213.2H622.9ZM923.2 1198.0H939.0V1213.2H923.2ZM1065.4 1198.0H1081.2V1213.2H1065.4ZM528.1 1213.2H559.7V1228.4H528.1ZM622.9 1213.2H638.7V1228.4H622.9ZM1097.0 1213.2H1112.8V1228.4H1097.0ZM575.5 1228.4H591.3V1243.6H575.5ZM907.4 1228.4H923.2V1243.6H907.4ZM954.8 1228.4H970.6V1243.6H954.8ZM970.6 1273.9H986.4V1289.1H970.6ZM765.2 1380.2H781.0V1395.4H765.2ZM781.0 1395.4H796.8V1410.5H781.0ZM702.0 1577.5H717.8V1592.7H702.0ZM828.4 1592.7H844.2V1607.9H828.4ZM986.4 1592.7H1002.2V1607.9H986.4ZM1191.9 1592.7H1223.5V1607.9H1191.9Z"/>
<path fill="#24387d" d="M1270.9 970.3H1286.7V985.5H1270.9ZM1302.5 970.3H1318.3V985.5H1302.5ZM1302.5 1000.7H1318.3V1015.8H1302.5ZM1286.7 1015.8H1318.3V1031.0H1286.7ZM1381.5 1015.8H1397.3V1031.0H1381.5ZM1349.9 1031.0H1365.7V1046.2H1349.9ZM1381.5 1031.0H1397.3V1046.2H1381.5ZM1270.9 1046.2H1286.7V1061.4H1270.9ZM1349.9 1046.2H1365.7V1061.4H1349.9ZM1381.5 1046.2H1397.3V1061.4H1381.5ZM1223.5 1061.4H1239.3V1076.6H1223.5ZM1365.7 1061.4H1397.3V1076.6H1365.7ZM1365.7 1076.6H1381.5V1091.7H1365.7ZM1397.3 1076.6H1413.1V1091.7H1397.3ZM1334.1 1106.9H1349.9V1122.1H1334.1ZM1365.7 1106.9H1381.5V1122.1H1365.7ZM1365.7 1122.1H1381.5V1137.3H1365.7ZM1397.3 1122.1H1413.1V1137.3H1397.3ZM907.4 1137.3H970.6V1152.5H907.4ZM1128.6 1137.3H1144.4V1152.5H1128.6ZM543.9 1152.5H559.7V1167.6H543.9ZM844.2 1152.5H860.0V1167.6H844.2ZM891.6 1152.5H907.4V1167.6H891.6ZM939.0 1152.5H954.8V1167.6H939.0ZM1018.0 1152.5H1033.8V1167.6H1018.0ZM559.7 1167.6H575.5V1182.8H559.7ZM1049.6 1167.6H1065.4V1182.8H1049.6ZM812.6 1182.8H828.4V1198.0H812.6ZM1018.0 1182.8H1033.8V1198.0H1018.0ZM1081.2 1182.8H1097.0V1198.0H1081.2ZM860.0 1198.0H875.8V1213.2H860.0ZM907.4 1198.0H923.2V1213.2H907.4ZM970.6 1198.0H1002.2V1213.2H970.6ZM1033.8 1198.0H1049.6V1213.2H1033.8ZM1112.8 1198.0H1128.6V1213.2H1112.8ZM1144.4 1198.0H1160.2V1213.2H1144.4ZM591.3 1213.2H607.1V1228.4H591.3ZM654.6 1213.2H670.4V1228.4H654.6ZM954.8 1213.2H986.4V1228.4H954.8ZM1002.2 1213.2H1018.0V1228.4H1002.2ZM1033.8 1213.2H1049.6V1228.4H1033.8ZM844.2 1228.4H860.0V1243.6H844.2ZM939.0 1228.4H954.8V1243.6H939.0ZM970.6 1228.4H986.4V1243.6H970.6ZM1097.0 1228.4H1112.8V1243.6H1097.0ZM1065.4 1243.6H1081.2V1258.7H1065.4ZM891.6 1258.7H907.4V1273.9H891.6ZM891.6 1273.9H907.4V1289.1H891.6ZM875.8 1577.5H891.6V1592.7H875.8ZM812.6 1592.7H828.4V1607.9H812.6ZM1144.4 1592.7H1160.2V1607.9H1144.4ZM1176.1 1592.7H1191.9V1607.9H1176.1Z"/>
<path fill="#21397c" d="M1270.9 939.9H1286.7V955.1H1270.9ZM1270.9 955.1H1302.5V970.3H1270.9ZM1286.7 985.5H1302.5V1000.7H1286.7ZM1334.1 1015.8H1349.9V1031.0H1334.1ZM1302.5 1031.0H1318.3V1046.2H1302.5ZM1334.1 1031.0H1349.9V1046.2H1334.1ZM1397.3 1031.0H1413.1V1046.2H1397.3ZM1286.7 1046.2H1302.5V1061.4H1286.7ZM1334.1 1046.2H1349.9V1061.4H1334.1ZM1365.7 1046.2H1381.5V1061.4H1365.7ZM1413.1 1046.2H1428.9V1061.4H1413.1ZM1302.5 1061.4H1334.1V1076.6H1302.5ZM1349.9 1061.4H1365.7V1076.6H1349.9ZM749.4 1076.6H765.2V1091.7H749.4ZM1302.5 1076.6H1318.3V1091.7H1302.5ZM1302.5 1091.7H1318.3V1106.9H1302.5ZM1334.1 1091.7H1349.9V1106.9H1334.1ZM1397.3 1091.7H1428.9V1106.9H1397.3ZM1270.9 1106.9H1286.7V1122.1H1270.9ZM1302.5 1106.9H1318.3V1122.1H1302.5ZM1397.3 1106.9H1444.7V1122.1H1397.3ZM1144.4 1122.1H1160.2V1137.3H1144.4ZM1349.9 1122.1H1365.7V1137.3H1349.9ZM1097.0 1137.3H1112.8V1152.5H1097.0ZM607.1 1152.5H638.7V1167.6H607.1ZM670.4 1152.5H686.2V1167.6H670.4ZM970.6 1152.5H1002.2V1167.6H970.6ZM1033.8 1152.5H1049.6V1167.6H1033.8ZM1097.0 1152.5H1112.8V1167.6H1097.0ZM543.9 1167.6H559.7V1182.8H543.9ZM607.1 1167.6H622.9V1182.8H607.1ZM860.0 1182.8H875.8V1198.0H860.0ZM939.0 1182.8H954.8V1198.0H939.0ZM970.6 1182.8H986.4V1198.0H970.6ZM1002.2 1182.8H1018.0V1198.0H1002.2ZM1160.2 1182.8H1176.1V1198.0H1160.2ZM591.3 1198.0H607.1V1213.2H591.3ZM828.4 1198.0H844.2V1213.2H828.4ZM939.0 1198.0H954.8V1213.2H939.0ZM1018.0 1198.0H1033.8V1213.2H1018.0ZM1081.2 1198.0H1097.0V1213.2H1081.2ZM1160.2 1198.0H1176.1V1213.2H1160.2ZM828.4 1213.2H844.2V1228.4H828.4ZM1112.8 1228.4H1128.6V1243.6H1112.8ZM1160.2 1228.4H1176.1V1243.6H1160.2ZM954.8 1243.6H970.6V1258.7H954.8ZM1018.0 1243.6H1033.8V1258.7H1018.0ZM1002.2 1273.9H1018.0V1289.1H1002.2ZM796.8 1304.3H812.6V1319.5H796.8ZM796.8 1410.5H812.6V1425.7H796.8ZM828.4 1425.7H844.2V1440.9H828.4ZM717.8 1440.9H733.6V1456.1H717.8ZM638.7 1486.4H654.6V1501.6H638.7ZM781.0 1577.5H796.8V1592.7H781.0ZM860.0 1577.5H875.8V1592.7H860.0ZM891.6 1577.5H907.4V1592.7H891.6Z"/>
<path fill="#1d397a" d="M1286.7 970.3H1302.5V985.5H1286.7ZM1270.9 985.5H1286.7V1000.7H1270.9ZM1270.9 1031.0H1302.5V1046.2H1270.9ZM1318.3 1031.0H1334.1V1046.2H1318.3ZM1365.7 1031.0H1381.5V1046.2H1365.7ZM1286.7 1061.4H1302.5V1076.6H1286.7ZM1334.1 1076.6H1349.9V1091.7H1334.1ZM1207.7 1091.7H1223.5V1106.9H1207.7ZM1270.9 1091.7H1286.7V1106.9H1270.9ZM1318.3 1091.7H1334.1V1106.9H1318.3ZM1365.7 1091.7H1397.3V1106.9H1365.7ZM1318.3 1106.9H1334.1V1122.1H1318.3ZM844.2 1122.1H860.0V1137.3H844.2ZM875.8 1122.1H891.6V1137.3H875.8ZM939.0 1122.1H954.8V1137.3H939.0ZM1191.9 1122.1H1207.7V1137.3H1191.9ZM733.6 1137.3H749.4V1152.5H733.6ZM828.4 1137.3H844.2V1152.5H828.4ZM970.6 1137.3H986.4V1152.5H970.6ZM1112.8 1137.3H1128.6V1152.5H1112.8ZM812.6 1152.5H828.4V1167.6H812.6ZM875.8 1152.5H891.6V1167.6H875.8ZM1049.6 1152.5H1065.4V1167.6H1049.6ZM1128.6 1152.5H1144.4V1167.6H1128.6ZM575.5 1167.6H591.3V1182.8H575.5ZM638.7 1167.6H654.6V1182.8H638.7ZM812.6 1167.6H828.4V1182.8H812.6ZM1176.1 1167.6H1191.9V1182.8H1176.1ZM528.1 1182.8H543.9V1198.0H528.1ZM1065.4 1182.8H1081.2V1198.0H1065.4ZM1239.3 1182.8H1255.1V1198.0H1239.3ZM702.0 1198.0H717.8V1213.2H702.0ZM844.2 1198.0H860.0V1213.2H844.2ZM1191.9 1198.0H1207.7V1213.2H1191.9ZM844.2 1213.2H860.0V1228.4H844.2ZM939.0 1213.2H954.8V1228.4H939.0ZM986.4 1213.2H1002.2V1228.4H986.4ZM1065.4 1213.2H1081.2V1228.4H1065.4ZM1160.2 1213.2H1176.1V1228.4H1160.2ZM986.4 1228.4H1002.2V1243.6H986.4ZM1033.8 1228.4H1049.6V1243.6H1033.8ZM1065.4 1228.4H1081.2V1243.6H1065.4ZM1239.3 1228.4H1255.1V1243.6H1239.3ZM860.0 1258.7H875.8V1273.9H860.0ZM923.2 1258.7H939.0V1273.9H923.2ZM939.0 1319.5H954.8V1334.6H939.0ZM796.8 1486.4H812.6V1501.6H796.8ZM607.1 1501.6H622.9V1516.8H607.1ZM717.8 1532.0H733.6V1547.2H717.8ZM954.8 1547.2H970.6V1562.4H954.8ZM939.0 1562.4H954.8V1577.5H939.0ZM765.2 1577.5H781.0V1592.7H765.2ZM796.8 1577.5H812.6V1592.7H796.8ZM1065.4 1592.7H1081.2V1607.9H1065.4ZM1223.5 1592.7H1239.3V1607.9H1223.5Z"/>
<path fill="#1a3979" d="M1318.3 970.3H1334.1V985.5H1318.3ZM1286.7 1000.7H1302.5V1015.8H1286.7ZM1318.3 1000.7H1334.1V1015.8H1318.3ZM1270.9 1015.8H1286.7V1031.0H1270.9ZM1318.3 1015.8H1334.1V1031.0H1318.3ZM1318.3 1046.2H1334.1V1061.4H1318.3ZM1334.1 1061.4H1349.9V1076.6H1334.1ZM1239.3 1076.6H1255.1V1091.7H1239.3ZM1270.9 1076.6H1286.7V1091.7H1270.9ZM1349.9 1076.6H1365.7V1091.7H1349.9ZM1286.7 1091.7H1302.5V1106.9H1286.7ZM1033.8 1122.1H1049.6V1137.3H1033.8ZM1223.5 1122.1H1239.3V1137.3H1223.5ZM654.6 1137.3H670.4V1152.5H654.6ZM875.8 1137.3H891.6V1152.5H875.8ZM1049.6 1137.3H1065.4V1152.5H1049.6ZM638.7 1152.5H654.6V1167.6H638.7ZM717.8 1152.5H733.6V1167.6H717.8ZM1002.2 1152.5H1018.0V1167.6H1002.2ZM622.9 1167.6H638.7V1182.8H622.9ZM844.2 1167.6H860.0V1182.8H844.2ZM907.4 1167.6H923.2V1182.8H907.4ZM1018.0 1167.6H1049.6V1182.8H1018.0ZM1112.8 1167.6H1128.6V1182.8H1112.8ZM543.9 1182.8H559.7V1198.0H543.9ZM638.7 1182.8H654.6V1198.0H638.7ZM860.0 1213.2H875.8V1228.4H860.0ZM907.4 1213.2H923.2V1228.4H907.4ZM828.4 1228.4H844.2V1243.6H828.4ZM875.8 1243.6H907.4V1258.7H875.8ZM1002.2 1243.6H1018.0V1258.7H1002.2ZM1049.6 1243.6H1065.4V1258.7H1049.6ZM986.4 1258.7H1018.0V1273.9H986.4ZM907.4 1273.9H923.2V1289.1H907.4ZM939.0 1273.9H954.8V1289.1H939.0ZM781.0 1365.0H796.8V1380.2H781.0ZM828.4 1380.2H844.2V1395.4H828.4ZM796.8 1395.4H812.6V1410.5H796.8ZM622.9 1456.1H638.7V1471.3H622.9ZM654.6 1456.1H670.4V1471.3H654.6ZM543.9 1471.3H559.7V1486.4H543.9ZM638.7 1471.3H654.6V1486.4H638.7ZM512.3 1486.4H528.1V1501.6H512.3ZM733.6 1486.4H749.4V1501.6H733.6ZM543.9 1562.4H559.7V1577.5H543.9ZM1049.6 1592.7H1065.4V1607.9H1049.6ZM1081.2 1592.7H1097.0V1607.9H1081.2ZM1112.8 1592.7H1144.4V1607.9H1112.8ZM1239.3 1592.7H1255.1V1607.9H1239.3Z"/>
<path fill="#173977" d="M1318.3 939.9H1334.1V955.1H1318.3ZM1318.3 985.5H1334.1V1000.7H1318.3ZM1270.9 1000.7H1286.7V1015.8H1270.9ZM1207.7 1046.2H1223.5V1061.4H1207.7ZM1207.7 1061.4H1223.5V1076.6H1207.7ZM1255.1 1061.4H1270.9V1076.6H1255.1ZM1223.5 1076.6H1239.3V1091.7H1223.5ZM781.0 1091.7H796.8V1106.9H781.0ZM812.6 1091.7H828.4V1106.9H812.6ZM1018.0 1091.7H1049.6V1106.9H1018.0ZM1255.1 1091.7H1270.9V1106.9H1255.1ZM986.4 1106.9H1002.2V1122.1H986.4ZM1112.8 1106.9H1128.6V1122.1H1112.8ZM1223.5 1106.9H1239.3V1122.1H1223.5ZM1255.1 1106.9H1270.9V1122.1H1255.1ZM702.0 1122.1H717.8V1137.3H702.0ZM860.0 1122.1H875.8V1137.3H860.0ZM1128.6 1122.1H1144.4V1137.3H1128.6ZM1160.2 1122.1H1191.9V1137.3H1160.2ZM860.0 1137.3H875.8V1152.5H860.0ZM1018.0 1137.3H1033.8V1152.5H1018.0ZM1160.2 1137.3H1176.1V1152.5H1160.2ZM559.7 1152.5H575.5V1167.6H559.7ZM860.0 1152.5H875.8V1167.6H860.0ZM923.2 1152.5H939.0V1167.6H923.2ZM1144.4 1152.5H1160.2V1167.6H1144.4ZM860.0 1167.6H891.6V1182.8H860.0ZM1002.2 1167.6H1018.0V1182.8H1002.2ZM1081.2 1167.6H1112.8V1182.8H1081.2ZM1128.6 1167.6H1144.4V1182.8H1128.6ZM1160.2 1167.6H1176.1V1182.8H1160.2ZM844.2 1182.8H860.0V1198.0H844.2ZM923.2 1182.8H939.0V1198.0H923.2ZM1049.6 1182.8H1065.4V1198.0H1049.6ZM1176.1 1198.0H1191.9V1213.2H1176.1ZM891.6 1228.4H907.4V1243.6H891.6ZM1002.2 1228.4H1033.8V1243.6H1002.2ZM1128.6 1228.4H1144.4V1243.6H1128.6ZM970.6 1243.6H986.4V1258.7H970.6ZM1033.8 1243.6H1049.6V1258.7H1033.8ZM954.8 1258.7H970.6V1273.9H954.8ZM923.2 1289.1H939.0V1304.3H923.2ZM765.2 1319.5H781.0V1334.6H765.2ZM812.6 1334.6H828.4V1349.8H812.6ZM765.2 1349.8H781.0V1365.0H765.2ZM765.2 1365.0H781.0V1380.2H765.2ZM733.6 1425.7H749.4V1440.9H733.6ZM986.4 1486.4H1002.2V1501.6H986.4ZM1081.2 1486.4H1097.0V1501.6H1081.2ZM717.8 1516.8H733.6V1532.0H717.8ZM765.2 1516.8H781.0V1532.0H765.2ZM891.6 1516.8H907.4V1532.0H891.6ZM1223.5 1516.8H1239.3V1532.0H1223.5ZM512.3 1532.0H528.1V1547.2H512.3ZM1018.0 1532.0H1033.8V1547.2H1018.0ZM654.6 1562.4H670.4V1577.5H654.6ZM749.4 1562.4H765.2V1577.5H749.4ZM781.0 1562.4H796.8V1577.5H781.0ZM875.8 1562.4H891.6V1577.5H875.8ZM907.4 1562.4H923.2V1577.5H907.4ZM923.2 1577.5H939.0V1592.7H923.2ZM1033.8 1592.7H1049.6V1607.9H1033.8ZM1097.0 1592.7H1112.8V1607.9H1097.0Z"/>
<path fill="#143a76" d="M1286.7 924.8H1318.3V939.9H1286.7ZM1302.5 985.5H1318.3V1000.7H1302.5ZM1239.3 1061.4H1255.1V1076.6H1239.3ZM796.8 1091.7H812.6V1106.9H796.8ZM1002.2 1091.7H1018.0V1106.9H1002.2ZM1223.5 1091.7H1255.1V1106.9H1223.5ZM781.0 1106.9H796.8V1122.1H781.0ZM1018.0 1106.9H1033.8V1122.1H1018.0ZM1049.6 1106.9H1065.4V1122.1H1049.6ZM1160.2 1106.9H1176.1V1122.1H1160.2ZM1191.9 1106.9H1207.7V1122.1H1191.9ZM970.6 1122.1H986.4V1137.3H970.6ZM1002.2 1122.1H1018.0V1137.3H1002.2ZM638.7 1137.3H654.6V1152.5H638.7ZM891.6 1137.3H907.4V1152.5H891.6ZM1144.4 1137.3H1160.2V1152.5H1144.4ZM528.1 1152.5H543.9V1167.6H528.1ZM686.2 1152.5H702.0V1167.6H686.2ZM749.4 1152.5H765.2V1167.6H749.4ZM828.4 1152.5H844.2V1167.6H828.4ZM907.4 1152.5H923.2V1167.6H907.4ZM1223.5 1152.5H1239.3V1167.6H1223.5ZM654.6 1167.6H670.4V1182.8H654.6ZM702.0 1167.6H717.8V1182.8H702.0ZM1176.1 1182.8H1191.9V1198.0H1176.1ZM1223.5 1182.8H1239.3V1198.0H1223.5ZM543.9 1198.0H575.5V1213.2H543.9ZM607.1 1198.0H622.9V1213.2H607.1ZM891.6 1198.0H907.4V1213.2H891.6ZM1002.2 1198.0H1018.0V1213.2H1002.2ZM1018.0 1213.2H1033.8V1228.4H1018.0ZM1049.6 1213.2H1065.4V1228.4H1049.6ZM1081.2 1213.2H1097.0V1228.4H1081.2ZM670.4 1228.4H686.2V1243.6H670.4ZM860.0 1228.4H891.6V1243.6H860.0ZM923.2 1228.4H939.0V1243.6H923.2ZM1049.6 1228.4H1065.4V1243.6H1049.6ZM1081.2 1228.4H1097.0V1243.6H1081.2ZM1176.1 1228.4H1191.9V1243.6H1176.1ZM875.8 1258.7H891.6V1273.9H875.8ZM907.4 1258.7H923.2V1273.9H907.4ZM970.6 1258.7H986.4V1273.9H970.6ZM1018.0 1258.7H1033.8V1273.9H1018.0ZM986.4 1273.9H1002.2V1289.1H986.4ZM796.8 1289.1H812.6V1304.3H796.8ZM970.6 1289.1H986.4V1304.3H970.6ZM860.0 1304.3H875.8V1319.5H860.0ZM812.6 1319.5H828.4V1334.6H812.6ZM939.0 1349.8H954.8V1365.0H939.0ZM796.8 1365.0H812.6V1380.2H796.8ZM860.0 1365.0H875.8V1380.2H860.0ZM781.0 1380.2H796.8V1395.4H781.0ZM844.2 1410.5H860.0V1425.7H844.2ZM907.4 1410.5H923.2V1425.7H907.4ZM638.7 1456.1H654.6V1471.3H638.7ZM670.4 1456.1H686.2V1471.3H670.4ZM765.2 1456.1H796.8V1471.3H765.2ZM828.4 1456.1H844.2V1471.3H828.4ZM1112.8 1471.3H1128.6V1486.4H1112.8ZM1286.7 1471.3H1302.5V1486.4H1286.7ZM1318.3 1471.3H1334.1V1486.4H1318.3ZM1223.5 1486.4H1255.1V1501.6H1223.5ZM1302.5 1486.4H1318.3V1501.6H1302.5ZM1381.5 1486.4H1397.3V1501.6H1381.5ZM543.9 1501.6H559.7V1516.8H543.9ZM860.0 1501.6H875.8V1516.8H860.0ZM923.2 1501.6H939.0V1516.8H923.2ZM1286.7 1501.6H1302.5V1516.8H1286.7ZM1397.3 1501.6H1413.1V1516.8H1397.3ZM686.2 1516.8H702.0V1532.0H686.2ZM749.4 1516.8H765.2V1532.0H749.4ZM907.4 1516.8H923.2V1532.0H907.4ZM1286.7 1516.8H1318.3V1532.0H1286.7ZM1334.1 1516.8H1365.7V1532.0H1334.1ZM765.2 1532.0H781.0V1547.2H765.2ZM1302.5 1532.0H1318.3V1547.2H1302.5ZM1365.7 1532.0H1397.3V1547.2H1365.7ZM1176.1 1547.2H1191.9V1562.4H1176.1ZM575.5 1562.4H591.3V1577.5H575.5ZM607.1 1562.4H622.9V1577.5H607.1ZM702.0 1562.4H717.8V1577.5H702.0ZM733.6 1562.4H749.4V1577.5H733.6ZM828.4 1562.4H844.2V1577.5H828.4ZM954.8 1562.4H970.6V1577.5H954.8ZM907.4 1577.5H923.2V1592.7H907.4ZM986.4 1577.5H1002.2V1592.7H986.4ZM1223.5 1577.5H1239.3V1592.7H1223.5ZM1018.0 1592.7H1033.8V1607.9H1018.0Z"/>
<path fill="#103a75" d="M1318.3 955.1H1334.1V970.3H1318.3ZM860.0 1031.0H875.8V1046.2H860.0ZM1239.3 1046.2H1255.1V1061.4H1239.3ZM986.4 1091.7H1002.2V1106.9H986.4ZM717.8 1106.9H749.4V1122.1H717.8ZM1065.4 1106.9H1081.2V1122.1H1065.4ZM954.8 1122.1H970.6V1137.3H954.8ZM986.4 1122.1H1002.2V1137.3H986.4ZM844.2 1137.3H860.0V1152.5H844.2ZM1176.1 1137.3H1191.9V1152.5H1176.1ZM1223.5 1137.3H1239.3V1152.5H1223.5ZM954.8 1152.5H970.6V1167.6H954.8ZM1160.2 1152.5H1176.1V1167.6H1160.2ZM528.1 1167.6H543.9V1182.8H528.1ZM765.2 1167.6H781.0V1182.8H765.2ZM796.8 1167.6H812.6V1182.8H796.8ZM923.2 1167.6H939.0V1182.8H923.2ZM970.6 1167.6H986.4V1182.8H970.6ZM1223.5 1167.6H1239.3V1182.8H1223.5ZM717.8 1182.8H733.6V1198.0H717.8ZM1033.8 1182.8H1049.6V1198.0H1033.8ZM654.6 1198.0H670.4V1213.2H654.6ZM796.8 1198.0H812.6V1213.2H796.8ZM607.1 1213.2H622.9V1228.4H607.1ZM891.6 1213.2H907.4V1228.4H891.6ZM1191.9 1228.4H1207.7V1243.6H1191.9ZM844.2 1243.6H860.0V1258.7H844.2ZM1081.2 1243.6H1097.0V1258.7H1081.2ZM1191.9 1243.6H1207.7V1258.7H1191.9ZM923.2 1273.9H939.0V1289.1H923.2ZM1002.2 1289.1H1018.0V1304.3H1002.2ZM812.6 1304.3H828.4V1319.5H812.6ZM796.8 1319.5H812.6V1334.6H796.8ZM828.4 1334.6H844.2V1349.8H828.4ZM907.4 1334.6H923.2V1349.8H907.4ZM923.2 1380.2H939.0V1395.4H923.2ZM765.2 1395.4H781.0V1410.5H765.2ZM860.0 1395.4H875.8V1410.5H860.0ZM765.2 1410.5H781.0V1425.7H765.2ZM781.0 1425.7H812.6V1440.9H781.0ZM796.8 1440.9H812.6V1456.1H796.8ZM717.8 1456.1H733.6V1471.3H717.8ZM559.7 1471.3H575.5V1486.4H559.7ZM781.0 1471.3H796.8V1486.4H781.0ZM1270.9 1471.3H1286.7V1486.4H1270.9ZM1302.5 1471.3H1318.3V1486.4H1302.5ZM1334.1 1471.3H1365.7V1486.4H1334.1ZM1381.5 1471.3H1397.3V1486.4H1381.5ZM622.9 1486.4H638.7V1501.6H622.9ZM1270.9 1486.4H1302.5V1501.6H1270.9ZM1318.3 1486.4H1349.9V1501.6H1318.3ZM1365.7 1486.4H1381.5V1501.6H1365.7ZM970.6 1501.6H986.4V1516.8H970.6ZM1002.2 1501.6H1033.8V1516.8H1002.2ZM1065.4 1501.6H1081.2V1516.8H1065.4ZM1097.0 1501.6H1112.8V1516.8H1097.0ZM1176.1 1501.6H1207.7V1516.8H1176.1ZM1255.1 1501.6H1286.7V1516.8H1255.1ZM1302.5 1501.6H1318.3V1516.8H1302.5ZM1334.1 1501.6H1397.3V1516.8H1334.1ZM543.9 1516.8H559.7V1532.0H543.9ZM796.8 1516.8H812.6V1532.0H796.8ZM860.0 1516.8H875.8V1532.0H860.0ZM986.4 1516.8H1002.2V1532.0H986.4ZM1065.4 1516.8H1097.0V1532.0H1065.4ZM1128.6 1516.8H1160.2V1532.0H1128.6ZM1191.9 1516.8H1207.7V1532.0H1191.9ZM1270.9 1516.8H1286.7V1532.0H1270.9ZM1318.3 1516.8H1334.1V1532.0H1318.3ZM1365.7 1516.8H1397.3V1532.0H1365.7ZM654.6 1532.0H670.4V1547.2H654.6ZM1176.1 1532.0H1191.9V1547.2H1176.1ZM1255.1 1532.0H1302.5V1547.2H1255.1ZM1334.1 1532.0H1365.7V1547.2H1334.1ZM1397.3 1532.0H1413.1V1547.2H1397.3ZM670.4 1547.2H686.2V1562.4H670.4ZM970.6 1547.2H1002.2V1562.4H970.6ZM1365.7 1547.2H1381.5V1562.4H1365.7ZM765.2 1562.4H781.0V1577.5H765.2ZM844.2 1562.4H875.8V1577.5H844.2ZM891.6 1562.4H907.4V1577.5H891.6ZM923.2 1562.4H939.0V1577.5H923.2ZM970.6 1562.4H1002.2V1577.5H970.6ZM1112.8 1562.4H1128.6V1577.5H1112.8ZM970.6 1577.5H986.4V1592.7H970.6ZM1081.2 1577.5H1112.8V1592.7H1081.2ZM1191.9 1577.5H1207.7V1592.7H1191.9Z"/>
<path fill="#0d3a73" d="M1255.1 1000.7H1270.9V1015.8H1255.1ZM1223.5 1046.2H1239.3V1061.4H1223.5ZM1255.1 1046.2H1270.9V1061.4H1255.1ZM670.4 1091.7H686.2V1106.9H670.4ZM875.8 1091.7H891.6V1106.9H875.8ZM923.2 1091.7H939.0V1106.9H923.2ZM954.8 1091.7H970.6V1106.9H954.8ZM844.2 1106.9H875.8V1122.1H844.2ZM1002.2 1106.9H1018.0V1122.1H1002.2ZM1033.8 1106.9H1049.6V1122.1H1033.8ZM559.7 1122.1H575.5V1137.3H559.7ZM1018.0 1122.1H1033.8V1137.3H1018.0ZM1191.9 1137.3H1207.7V1152.5H1191.9ZM654.6 1152.5H670.4V1167.6H654.6ZM702.0 1152.5H717.8V1167.6H702.0ZM1065.4 1152.5H1097.0V1167.6H1065.4ZM1112.8 1152.5H1128.6V1167.6H1112.8ZM1176.1 1152.5H1191.9V1167.6H1176.1ZM986.4 1167.6H1002.2V1182.8H986.4ZM1065.4 1167.6H1081.2V1182.8H1065.4ZM1239.3 1167.6H1255.1V1182.8H1239.3ZM686.2 1182.8H702.0V1198.0H686.2ZM986.4 1182.8H1002.2V1198.0H986.4ZM559.7 1213.2H575.5V1228.4H559.7ZM1223.5 1213.2H1239.3V1228.4H1223.5ZM781.0 1228.4H796.8V1243.6H781.0ZM1207.7 1228.4H1223.5V1243.6H1207.7ZM939.0 1258.7H954.8V1273.9H939.0ZM828.4 1273.9H844.2V1289.1H828.4ZM733.6 1289.1H749.4V1304.3H733.6ZM939.0 1289.1H954.8V1304.3H939.0ZM986.4 1289.1H1002.2V1304.3H986.4ZM986.4 1304.3H1002.2V1319.5H986.4ZM923.2 1319.5H939.0V1334.6H923.2ZM765.2 1334.6H781.0V1349.8H765.2ZM796.8 1349.8H812.6V1365.0H796.8ZM875.8 1349.8H891.6V1365.0H875.8ZM907.4 1349.8H923.2V1365.0H907.4ZM796.8 1380.2H812.6V1395.4H796.8ZM860.0 1380.2H875.8V1395.4H860.0ZM844.2 1440.9H860.0V1456.1H844.2ZM496.5 1456.1H512.3V1471.3H496.5ZM796.8 1456.1H812.6V1471.3H796.8ZM1349.9 1456.1H1365.7V1471.3H1349.9ZM860.0 1471.3H875.8V1486.4H860.0ZM1191.9 1471.3H1223.5V1486.4H1191.9ZM1255.1 1471.3H1270.9V1486.4H1255.1ZM607.1 1486.4H622.9V1501.6H607.1ZM844.2 1486.4H860.0V1501.6H844.2ZM954.8 1486.4H986.4V1501.6H954.8ZM1002.2 1486.4H1018.0V1501.6H1002.2ZM1049.6 1486.4H1065.4V1501.6H1049.6ZM1144.4 1486.4H1160.2V1501.6H1144.4ZM1191.9 1486.4H1207.7V1501.6H1191.9ZM1255.1 1486.4H1270.9V1501.6H1255.1ZM1349.9 1486.4H1365.7V1501.6H1349.9ZM1397.3 1486.4H1413.1V1501.6H1397.3ZM528.1 1501.6H543.9V1516.8H528.1ZM781.0 1501.6H796.8V1516.8H781.0ZM907.4 1501.6H923.2V1516.8H907.4ZM1049.6 1501.6H1065.4V1516.8H1049.6ZM1081.2 1501.6H1097.0V1516.8H1081.2ZM1160.2 1501.6H1176.1V1516.8H1160.2ZM733.6 1516.8H749.4V1532.0H733.6ZM781.0 1516.8H796.8V1532.0H781.0ZM1002.2 1516.8H1018.0V1532.0H1002.2ZM1033.8 1516.8H1065.4V1532.0H1033.8ZM1160.2 1516.8H1176.1V1532.0H1160.2ZM1255.1 1516.8H1270.9V1532.0H1255.1ZM1397.3 1516.8H1413.1V1532.0H1397.3ZM828.4 1532.0H844.2V1547.2H828.4ZM923.2 1532.0H954.8V1547.2H923.2ZM1002.2 1532.0H1018.0V1547.2H1002.2ZM1033.8 1532.0H1049.6V1547.2H1033.8ZM1097.0 1532.0H1112.8V1547.2H1097.0ZM1128.6 1532.0H1144.4V1547.2H1128.6ZM1223.5 1532.0H1239.3V1547.2H1223.5ZM1318.3 1532.0H1334.1V1547.2H1318.3ZM591.3 1547.2H607.1V1562.4H591.3ZM717.8 1547.2H733.6V1562.4H717.8ZM765.2 1547.2H781.0V1562.4H765.2ZM891.6 1547.2H907.4V1562.4H891.6ZM1002.2 1547.2H1018.0V1562.4H1002.2ZM1065.4 1547.2H1081.2V1562.4H1065.4ZM1112.8 1547.2H1128.6V1562.4H1112.8ZM1207.7 1547.2H1239.3V1562.4H1207.7ZM1349.9 1547.2H1365.7V1562.4H1349.9ZM1381.5 1547.2H1397.3V1562.4H1381.5ZM812.6 1562.4H828.4V1577.5H812.6ZM1002.2 1562.4H1033.8V1577.5H1002.2ZM1049.6 1562.4H1065.4V1577.5H1049.6ZM1160.2 1562.4H1176.1V1577.5H1160.2ZM1223.5 1562.4H1239.3V1577.5H1223.5ZM1033.8 1577.5H1065.4V1592.7H1033.8ZM1112.8 1577.5H1128.6V1592.7H1112.8ZM1144.4 1577.5H1191.9V1592.7H1144.4ZM1239.3 1577.5H1255.1V1592.7H1239.3Z"/>
<path fill="#0a3a72" d="M1318.3 924.8H1334.1V939.9H1318.3ZM1255.1 955.1H1270.9V970.3H1255.1ZM1255.1 970.3H1270.9V985.5H1255.1ZM1002.2 1076.6H1018.0V1091.7H1002.2ZM1255.1 1076.6H1270.9V1091.7H1255.1ZM844.2 1091.7H860.0V1106.9H844.2ZM765.2 1106.9H781.0V1122.1H765.2ZM812.6 1106.9H828.4V1122.1H812.6ZM1097.0 1106.9H1112.8V1122.1H1097.0ZM1144.4 1106.9H1160.2V1122.1H1144.4ZM1207.7 1106.9H1223.5V1122.1H1207.7ZM591.3 1122.1H607.1V1137.3H591.3ZM923.2 1122.1H939.0V1137.3H923.2ZM1207.7 1122.1H1223.5V1137.3H1207.7ZM559.7 1137.3H575.5V1152.5H559.7ZM686.2 1137.3H702.0V1152.5H686.2ZM1255.1 1137.3H1270.9V1152.5H1255.1ZM1207.7 1152.5H1223.5V1167.6H1207.7ZM717.8 1167.6H733.6V1182.8H717.8ZM891.6 1167.6H907.4V1182.8H891.6ZM1191.9 1167.6H1207.7V1182.8H1191.9ZM575.5 1182.8H591.3V1198.0H575.5ZM607.1 1182.8H622.9V1198.0H607.1ZM749.4 1182.8H765.2V1198.0H749.4ZM1191.9 1182.8H1223.5V1198.0H1191.9ZM528.1 1198.0H543.9V1213.2H528.1ZM717.8 1198.0H733.6V1213.2H717.8ZM812.6 1198.0H828.4V1213.2H812.6ZM781.0 1213.2H812.6V1228.4H781.0ZM1207.7 1213.2H1223.5V1228.4H1207.7ZM796.8 1228.4H812.6V1243.6H796.8ZM907.4 1243.6H923.2V1258.7H907.4ZM939.0 1243.6H954.8V1258.7H939.0ZM1097.0 1243.6H1112.8V1258.7H1097.0ZM1176.1 1243.6H1191.9V1258.7H1176.1ZM1239.3 1243.6H1255.1V1258.7H1239.3ZM844.2 1258.7H860.0V1273.9H844.2ZM1239.3 1258.7H1255.1V1273.9H1239.3ZM781.0 1273.9H796.8V1289.1H781.0ZM812.6 1273.9H828.4V1289.1H812.6ZM954.8 1273.9H970.6V1289.1H954.8ZM954.8 1289.1H970.6V1304.3H954.8ZM860.0 1319.5H875.8V1334.6H860.0ZM812.6 1365.0H828.4V1380.2H812.6ZM844.2 1395.4H860.0V1410.5H844.2ZM828.4 1410.5H844.2V1425.7H828.4ZM891.6 1425.7H907.4V1440.9H891.6ZM781.0 1440.9H796.8V1456.1H781.0ZM1191.9 1440.9H1207.7V1456.1H1191.9ZM575.5 1456.1H591.3V1471.3H575.5ZM607.1 1456.1H622.9V1471.3H607.1ZM702.0 1456.1H717.8V1471.3H702.0ZM749.4 1456.1H765.2V1471.3H749.4ZM907.4 1456.1H923.2V1471.3H907.4ZM1191.9 1456.1H1207.7V1471.3H1191.9ZM1302.5 1456.1H1349.9V1471.3H1302.5ZM1365.7 1456.1H1397.3V1471.3H1365.7ZM717.8 1471.3H733.6V1486.4H717.8ZM891.6 1471.3H907.4V1486.4H891.6ZM970.6 1471.3H986.4V1486.4H970.6ZM1002.2 1471.3H1033.8V1486.4H1002.2ZM1049.6 1471.3H1065.4V1486.4H1049.6ZM1097.0 1471.3H1112.8V1486.4H1097.0ZM528.1 1486.4H543.9V1501.6H528.1ZM670.4 1486.4H686.2V1501.6H670.4ZM765.2 1486.4H781.0V1501.6H765.2ZM860.0 1486.4H875.8V1501.6H860.0ZM907.4 1486.4H923.2V1501.6H907.4ZM939.0 1486.4H954.8V1501.6H939.0ZM1097.0 1486.4H1112.8V1501.6H1097.0ZM575.5 1501.6H591.3V1516.8H575.5ZM749.4 1501.6H765.2V1516.8H749.4ZM875.8 1501.6H891.6V1516.8H875.8ZM1033.8 1501.6H1049.6V1516.8H1033.8ZM1112.8 1501.6H1144.4V1516.8H1112.8ZM1207.7 1501.6H1223.5V1516.8H1207.7ZM575.5 1516.8H591.3V1532.0H575.5ZM638.7 1516.8H654.6V1532.0H638.7ZM844.2 1516.8H860.0V1532.0H844.2ZM970.6 1516.8H986.4V1532.0H970.6ZM1207.7 1516.8H1223.5V1532.0H1207.7ZM543.9 1532.0H559.7V1547.2H543.9ZM781.0 1532.0H796.8V1547.2H781.0ZM970.6 1532.0H986.4V1547.2H970.6ZM1049.6 1532.0H1065.4V1547.2H1049.6ZM1081.2 1532.0H1097.0V1547.2H1081.2ZM1160.2 1532.0H1176.1V1547.2H1160.2ZM1239.3 1532.0H1255.1V1547.2H1239.3ZM543.9 1547.2H575.5V1562.4H543.9ZM686.2 1547.2H702.0V1562.4H686.2ZM749.4 1547.2H765.2V1562.4H749.4ZM828.4 1547.2H860.0V1562.4H828.4ZM907.4 1547.2H923.2V1562.4H907.4ZM1018.0 1547.2H1033.8V1562.4H1018.0ZM1049.6 1547.2H1065.4V1562.4H1049.6ZM1081.2 1547.2H1097.0V1562.4H1081.2ZM1128.6 1547.2H1144.4V1562.4H1128.6ZM1160.2 1547.2H1176.1V1562.4H1160.2ZM1191.9 1547.2H1207.7V1562.4H1191.9ZM1255.1 1547.2H1270.9V1562.4H1255.1ZM796.8 1562.4H812.6V1577.5H796.8ZM1033.8 1562.4H1049.6V1577.5H1033.8ZM1065.4 1562.4H1081.2V1577.5H1065.4ZM1097.0 1562.4H1112.8V1577.5H1097.0ZM1128.6 1562.4H1144.4V1577.5H1128.6ZM1191.9 1562.4H1223.5V1577.5H1191.9ZM1065.4 1577.5H1081.2V1592.7H1065.4Z"/>
<path fill="#063b70" d="M860.0 1015.8H891.6V1031.0H860.0ZM875.8 1031.0H907.4V1046.2H875.8ZM702.0 1076.6H717.8V1091.7H702.0ZM733.6 1076.6H749.4V1091.7H733.6ZM1191.9 1076.6H1223.5V1091.7H1191.9ZM702.0 1091.7H717.8V1106.9H702.0ZM765.2 1091.7H781.0V1106.9H765.2ZM939.0 1091.7H954.8V1106.9H939.0ZM1176.1 1106.9H1191.9V1122.1H1176.1ZM733.6 1122.1H749.4V1137.3H733.6ZM717.8 1137.3H733.6V1152.5H717.8ZM1207.7 1137.3H1223.5V1152.5H1207.7ZM796.8 1152.5H812.6V1167.6H796.8ZM1255.1 1182.8H1270.9V1198.0H1255.1ZM686.2 1198.0H702.0V1213.2H686.2ZM1223.5 1198.0H1239.3V1213.2H1223.5ZM1176.1 1213.2H1191.9V1228.4H1176.1ZM1239.3 1213.2H1255.1V1228.4H1239.3ZM607.1 1228.4H622.9V1243.6H607.1ZM717.8 1228.4H733.6V1243.6H717.8ZM1112.8 1243.6H1128.6V1258.7H1112.8ZM1223.5 1243.6H1239.3V1258.7H1223.5ZM1255.1 1243.6H1270.9V1258.7H1255.1ZM717.8 1273.9H733.6V1289.1H717.8ZM749.4 1289.1H765.2V1304.3H749.4ZM844.2 1304.3H860.0V1319.5H844.2ZM923.2 1304.3H970.6V1319.5H923.2ZM1018.0 1319.5H1033.8V1334.6H1018.0ZM781.0 1334.6H796.8V1349.8H781.0ZM970.6 1334.6H986.4V1349.8H970.6ZM812.6 1349.8H828.4V1365.0H812.6ZM891.6 1365.0H923.2V1380.2H891.6ZM812.6 1380.2H828.4V1395.4H812.6ZM939.0 1380.2H954.8V1395.4H939.0ZM860.0 1410.5H875.8V1425.7H860.0ZM765.2 1425.7H781.0V1440.9H765.2ZM1270.9 1425.7H1286.7V1440.9H1270.9ZM812.6 1440.9H828.4V1456.1H812.6ZM891.6 1440.9H907.4V1456.1H891.6ZM686.2 1456.1H702.0V1471.3H686.2ZM923.2 1456.1H939.0V1471.3H923.2ZM1223.5 1456.1H1239.3V1471.3H1223.5ZM575.5 1471.3H591.3V1486.4H575.5ZM654.6 1471.3H670.4V1486.4H654.6ZM765.2 1471.3H781.0V1486.4H765.2ZM812.6 1471.3H828.4V1486.4H812.6ZM907.4 1471.3H939.0V1486.4H907.4ZM954.8 1471.3H970.6V1486.4H954.8ZM1065.4 1471.3H1081.2V1486.4H1065.4ZM1144.4 1471.3H1191.9V1486.4H1144.4ZM1223.5 1471.3H1239.3V1486.4H1223.5ZM575.5 1486.4H591.3V1501.6H575.5ZM781.0 1486.4H796.8V1501.6H781.0ZM875.8 1486.4H891.6V1501.6H875.8ZM1033.8 1486.4H1049.6V1501.6H1033.8ZM1065.4 1486.4H1081.2V1501.6H1065.4ZM1112.8 1486.4H1144.4V1501.6H1112.8ZM1207.7 1486.4H1223.5V1501.6H1207.7ZM686.2 1501.6H717.8V1516.8H686.2ZM765.2 1501.6H781.0V1516.8H765.2ZM828.4 1501.6H844.2V1516.8H828.4ZM954.8 1501.6H970.6V1516.8H954.8ZM1144.4 1501.6H1160.2V1516.8H1144.4ZM1239.3 1501.6H1255.1V1516.8H1239.3ZM622.9 1516.8H638.7V1532.0H622.9ZM923.2 1516.8H954.8V1532.0H923.2ZM1018.0 1516.8H1033.8V1532.0H1018.0ZM1112.8 1516.8H1128.6V1532.0H1112.8ZM1176.1 1516.8H1191.9V1532.0H1176.1ZM638.7 1532.0H654.6V1547.2H638.7ZM733.6 1532.0H749.4V1547.2H733.6ZM891.6 1532.0H923.2V1547.2H891.6ZM954.8 1532.0H970.6V1547.2H954.8ZM1065.4 1532.0H1081.2V1547.2H1065.4ZM1144.4 1532.0H1160.2V1547.2H1144.4ZM575.5 1547.2H591.3V1562.4H575.5ZM812.6 1547.2H828.4V1562.4H812.6ZM860.0 1547.2H891.6V1562.4H860.0ZM923.2 1547.2H954.8V1562.4H923.2ZM1033.8 1547.2H1049.6V1562.4H1033.8ZM1239.3 1547.2H1255.1V1562.4H1239.3ZM591.3 1562.4H607.1V1577.5H591.3ZM1081.2 1562.4H1097.0V1577.5H1081.2ZM1144.4 1562.4H1160.2V1577.5H1144.4ZM1176.1 1562.4H1191.9V1577.5H1176.1ZM1002.2 1577.5H1033.8V1592.7H1002.2ZM1128.6 1577.5H1144.4V1592.7H1128.6ZM1207.7 1577.5H1223.5V1592.7H1207.7Z"/>
<path fill="#033b6f" d="M860.0 985.5H875.8V1000.7H860.0ZM875.8 1000.7H891.6V1015.8H875.8ZM891.6 1015.8H907.4V1031.0H891.6ZM1255.1 1015.8H1270.9V1031.0H1255.1ZM1255.1 1031.0H1270.9V1046.2H1255.1ZM875.8 1046.2H891.6V1061.4H875.8ZM622.9 1061.4H638.7V1076.6H622.9ZM860.0 1061.4H875.8V1076.6H860.0ZM1002.2 1061.4H1018.0V1076.6H1002.2ZM970.6 1076.6H986.4V1091.7H970.6ZM891.6 1091.7H907.4V1106.9H891.6ZM1081.2 1091.7H1097.0V1106.9H1081.2ZM749.4 1106.9H765.2V1122.1H749.4ZM907.4 1106.9H923.2V1122.1H907.4ZM1081.2 1106.9H1097.0V1122.1H1081.2ZM1128.6 1106.9H1144.4V1122.1H1128.6ZM796.8 1122.1H828.4V1137.3H796.8ZM907.4 1122.1H923.2V1137.3H907.4ZM575.5 1137.3H638.7V1152.5H575.5ZM781.0 1137.3H796.8V1152.5H781.0ZM1239.3 1137.3H1255.1V1152.5H1239.3ZM733.6 1152.5H749.4V1167.6H733.6ZM765.2 1182.8H781.0V1198.0H765.2ZM828.4 1182.8H844.2V1198.0H828.4ZM781.0 1198.0H796.8V1213.2H781.0ZM875.8 1198.0H891.6V1213.2H875.8ZM1255.1 1198.0H1270.9V1213.2H1255.1ZM1191.9 1213.2H1207.7V1228.4H1191.9ZM1255.1 1213.2H1270.9V1228.4H1255.1ZM622.9 1228.4H638.7V1243.6H622.9ZM781.0 1258.7H796.8V1273.9H781.0ZM765.2 1273.9H781.0V1289.1H765.2ZM875.8 1273.9H891.6V1289.1H875.8ZM702.0 1289.1H717.8V1304.3H702.0ZM781.0 1289.1H796.8V1304.3H781.0ZM828.4 1289.1H844.2V1304.3H828.4ZM765.2 1304.3H781.0V1319.5H765.2ZM891.6 1304.3H923.2V1319.5H891.6ZM954.8 1319.5H970.6V1334.6H954.8ZM986.4 1319.5H1018.0V1334.6H986.4ZM860.0 1334.6H891.6V1349.8H860.0ZM970.6 1365.0H986.4V1380.2H970.6ZM891.6 1380.2H907.4V1395.4H891.6ZM828.4 1395.4H844.2V1410.5H828.4ZM875.8 1410.5H891.6V1425.7H875.8ZM1128.6 1410.5H1144.4V1425.7H1128.6ZM844.2 1425.7H860.0V1440.9H844.2ZM1049.6 1425.7H1065.4V1440.9H1049.6ZM749.4 1440.9H765.2V1456.1H749.4ZM939.0 1440.9H954.8V1456.1H939.0ZM1081.2 1440.9H1097.0V1456.1H1081.2ZM875.8 1456.1H891.6V1471.3H875.8ZM939.0 1456.1H970.6V1471.3H939.0ZM1239.3 1456.1H1255.1V1471.3H1239.3ZM1286.7 1456.1H1302.5V1471.3H1286.7ZM875.8 1471.3H891.6V1486.4H875.8ZM986.4 1471.3H1002.2V1486.4H986.4ZM702.0 1486.4H733.6V1501.6H702.0ZM828.4 1486.4H844.2V1501.6H828.4ZM891.6 1486.4H907.4V1501.6H891.6ZM1018.0 1486.4H1033.8V1501.6H1018.0ZM1160.2 1486.4H1176.1V1501.6H1160.2ZM591.3 1501.6H607.1V1516.8H591.3ZM986.4 1501.6H1002.2V1516.8H986.4ZM512.3 1516.8H528.1V1532.0H512.3ZM702.0 1516.8H717.8V1532.0H702.0ZM812.6 1516.8H844.2V1532.0H812.6ZM875.8 1516.8H891.6V1532.0H875.8ZM954.8 1516.8H970.6V1532.0H954.8ZM1097.0 1516.8H1112.8V1532.0H1097.0ZM860.0 1532.0H891.6V1547.2H860.0ZM1097.0 1547.2H1112.8V1562.4H1097.0ZM1144.4 1547.2H1160.2V1562.4H1144.4Z"/>
<path fill="#043e6c" d="M1255.1 939.9H1270.9V955.1H1255.1ZM891.6 985.5H907.4V1000.7H891.6ZM1255.1 985.5H1270.9V1000.7H1255.1ZM1334.1 985.5H1349.9V1000.7H1334.1ZM1428.9 985.5H1444.7V1000.7H1428.9ZM875.8 1076.6H891.6V1091.7H875.8ZM1065.4 1076.6H1081.2V1091.7H1065.4ZM860.0 1091.7H875.8V1106.9H860.0ZM796.8 1106.9H812.6V1122.1H796.8ZM828.4 1106.9H844.2V1122.1H828.4ZM875.8 1106.9H907.4V1122.1H875.8ZM923.2 1106.9H939.0V1122.1H923.2ZM828.4 1122.1H844.2V1137.3H828.4ZM891.6 1122.1H907.4V1137.3H891.6ZM781.0 1152.5H796.8V1167.6H781.0ZM781.0 1182.8H796.8V1198.0H781.0ZM733.6 1198.0H749.4V1213.2H733.6ZM749.4 1213.2H765.2V1228.4H749.4ZM812.6 1213.2H828.4V1228.4H812.6ZM1223.5 1228.4H1239.3V1243.6H1223.5ZM1255.1 1228.4H1270.9V1243.6H1255.1ZM686.2 1243.6H702.0V1258.7H686.2ZM828.4 1243.6H844.2V1258.7H828.4ZM1207.7 1243.6H1223.5V1258.7H1207.7ZM1097.0 1258.7H1112.8V1273.9H1097.0ZM702.0 1273.9H717.8V1289.1H702.0ZM907.4 1289.1H923.2V1304.3H907.4ZM875.8 1304.3H891.6V1319.5H875.8ZM1002.2 1304.3H1018.0V1319.5H1002.2ZM781.0 1319.5H796.8V1334.6H781.0ZM828.4 1319.5H860.0V1334.6H828.4ZM796.8 1334.6H812.6V1349.8H796.8ZM939.0 1334.6H954.8V1349.8H939.0ZM1097.0 1334.6H1112.8V1349.8H1097.0ZM781.0 1349.8H796.8V1365.0H781.0ZM844.2 1349.8H875.8V1365.0H844.2ZM1002.2 1349.8H1018.0V1365.0H1002.2ZM954.8 1380.2H970.6V1395.4H954.8ZM923.2 1395.4H939.0V1410.5H923.2ZM812.6 1410.5H828.4V1425.7H812.6ZM1002.2 1410.5H1018.0V1425.7H1002.2ZM1144.4 1410.5H1160.2V1425.7H1144.4ZM907.4 1425.7H923.2V1440.9H907.4ZM954.8 1425.7H970.6V1440.9H954.8ZM1144.4 1425.7H1160.2V1440.9H1144.4ZM1239.3 1425.7H1255.1V1440.9H1239.3ZM733.6 1440.9H749.4V1456.1H733.6ZM828.4 1440.9H844.2V1456.1H828.4ZM907.4 1440.9H923.2V1456.1H907.4ZM954.8 1440.9H986.4V1456.1H954.8ZM1255.1 1440.9H1270.9V1456.1H1255.1ZM1286.7 1440.9H1318.3V1456.1H1286.7ZM591.3 1456.1H607.1V1471.3H591.3ZM733.6 1456.1H749.4V1471.3H733.6ZM891.6 1456.1H907.4V1471.3H891.6ZM1065.4 1456.1H1081.2V1471.3H1065.4ZM1144.4 1456.1H1176.1V1471.3H1144.4ZM1270.9 1456.1H1286.7V1471.3H1270.9ZM1397.3 1456.1H1413.1V1471.3H1397.3ZM670.4 1471.3H717.8V1486.4H670.4ZM1081.2 1471.3H1097.0V1486.4H1081.2ZM1239.3 1471.3H1255.1V1486.4H1239.3ZM812.6 1486.4H828.4V1501.6H812.6ZM923.2 1486.4H939.0V1501.6H923.2ZM1176.1 1486.4H1191.9V1501.6H1176.1ZM638.7 1501.6H670.4V1516.8H638.7ZM733.6 1501.6H749.4V1516.8H733.6ZM812.6 1501.6H828.4V1516.8H812.6ZM891.6 1501.6H907.4V1516.8H891.6ZM939.0 1501.6H954.8V1516.8H939.0ZM1223.5 1501.6H1239.3V1516.8H1223.5ZM607.1 1516.8H622.9V1532.0H607.1ZM575.5 1532.0H591.3V1547.2H575.5ZM607.1 1532.0H622.9V1547.2H607.1ZM844.2 1532.0H860.0V1547.2H844.2ZM986.4 1532.0H1002.2V1547.2H986.4ZM1112.8 1532.0H1128.6V1547.2H1112.8ZM622.9 1547.2H638.7V1562.4H622.9ZM654.6 1547.2H670.4V1562.4H654.6ZM796.8 1547.2H812.6V1562.4H796.8Z"/>
<path fill="#05406a" d="M1381.5 985.5H1428.9V1000.7H1381.5ZM1444.7 985.5H1460.5V1000.7H1444.7ZM907.4 1046.2H923.2V1061.4H907.4ZM1065.4 1046.2H1081.2V1061.4H1065.4ZM875.8 1061.4H891.6V1076.6H875.8ZM543.9 1076.6H559.7V1091.7H543.9ZM591.3 1076.6H607.1V1091.7H591.3ZM765.2 1076.6H781.0V1091.7H765.2ZM923.2 1076.6H939.0V1091.7H923.2ZM1049.6 1076.6H1065.4V1091.7H1049.6ZM1049.6 1091.7H1065.4V1106.9H1049.6ZM765.2 1122.1H796.8V1137.3H765.2ZM749.4 1137.3H765.2V1152.5H749.4ZM749.4 1167.6H765.2V1182.8H749.4ZM796.8 1182.8H812.6V1198.0H796.8ZM1270.9 1182.8H1302.5V1198.0H1270.9ZM1318.3 1182.8H1349.9V1198.0H1318.3ZM1413.1 1182.8H1428.9V1198.0H1413.1ZM1286.7 1198.0H1302.5V1213.2H1286.7ZM1318.3 1198.0H1334.1V1213.2H1318.3ZM1365.7 1198.0H1397.3V1213.2H1365.7ZM1365.7 1213.2H1381.5V1228.4H1365.7ZM1397.3 1213.2H1444.7V1228.4H1397.3ZM638.7 1228.4H654.6V1243.6H638.7ZM702.0 1228.4H717.8V1243.6H702.0ZM1286.7 1228.4H1318.3V1243.6H1286.7ZM1349.9 1228.4H1397.3V1243.6H1349.9ZM1413.1 1228.4H1428.9V1243.6H1413.1ZM1444.7 1228.4H1492.1V1243.6H1444.7ZM622.9 1243.6H638.7V1258.7H622.9ZM654.6 1243.6H670.4V1258.7H654.6ZM1128.6 1243.6H1144.4V1258.7H1128.6ZM1160.2 1243.6H1176.1V1258.7H1160.2ZM1270.9 1243.6H1334.1V1258.7H1270.9ZM1349.9 1243.6H1413.1V1258.7H1349.9ZM1444.7 1243.6H1492.1V1258.7H1444.7ZM749.4 1258.7H765.2V1273.9H749.4ZM812.6 1258.7H844.2V1273.9H812.6ZM1049.6 1258.7H1065.4V1273.9H1049.6ZM765.2 1289.1H781.0V1304.3H765.2ZM812.6 1289.1H828.4V1304.3H812.6ZM844.2 1289.1H860.0V1304.3H844.2ZM891.6 1289.1H907.4V1304.3H891.6ZM970.6 1304.3H986.4V1319.5H970.6ZM1270.9 1304.3H1286.7V1319.5H1270.9ZM875.8 1319.5H891.6V1334.6H875.8ZM907.4 1319.5H923.2V1334.6H907.4ZM970.6 1319.5H986.4V1334.6H970.6ZM970.6 1349.8H986.4V1365.0H970.6ZM1033.8 1365.0H1049.6V1380.2H1033.8ZM1065.4 1365.0H1081.2V1380.2H1065.4ZM1286.7 1365.0H1302.5V1380.2H1286.7ZM907.4 1380.2H923.2V1395.4H907.4ZM812.6 1395.4H828.4V1410.5H812.6ZM954.8 1395.4H970.6V1410.5H954.8ZM781.0 1410.5H796.8V1425.7H781.0ZM1176.1 1410.5H1191.9V1425.7H1176.1ZM860.0 1440.9H875.8V1456.1H860.0ZM1160.2 1440.9H1176.1V1456.1H1160.2ZM1112.8 1456.1H1128.6V1471.3H1112.8ZM1207.7 1456.1H1223.5V1471.3H1207.7ZM1255.1 1456.1H1270.9V1471.3H1255.1ZM622.9 1471.3H638.7V1486.4H622.9ZM939.0 1471.3H954.8V1486.4H939.0ZM559.7 1501.6H575.5V1516.8H559.7ZM717.8 1501.6H733.6V1516.8H717.8ZM796.8 1501.6H812.6V1516.8H796.8ZM844.2 1501.6H860.0V1516.8H844.2ZM559.7 1516.8H575.5V1532.0H559.7ZM670.4 1516.8H686.2V1532.0H670.4ZM670.4 1532.0H702.0V1547.2H670.4ZM812.6 1532.0H828.4V1547.2H812.6ZM607.1 1547.2H622.9V1562.4H607.1ZM702.0 1547.2H717.8V1562.4H702.0Z"/>
<path fill="#064367" d="M875.8 970.3H891.6V985.5H875.8ZM875.8 985.5H891.6V1000.7H875.8ZM1349.9 985.5H1381.5V1000.7H1349.9ZM891.6 1000.7H907.4V1015.8H891.6ZM1002.2 1000.7H1018.0V1015.8H1002.2ZM907.4 1015.8H923.2V1031.0H907.4ZM860.0 1046.2H875.8V1061.4H860.0ZM749.4 1061.4H765.2V1076.6H749.4ZM939.0 1061.4H954.8V1076.6H939.0ZM1018.0 1061.4H1033.8V1076.6H1018.0ZM1160.2 1061.4H1176.1V1076.6H1160.2ZM781.0 1076.6H796.8V1091.7H781.0ZM749.4 1091.7H765.2V1106.9H749.4ZM1128.6 1091.7H1144.4V1106.9H1128.6ZM749.4 1122.1H765.2V1137.3H749.4ZM765.2 1137.3H781.0V1152.5H765.2ZM1191.9 1152.5H1207.7V1167.6H1191.9ZM781.0 1167.6H796.8V1182.8H781.0ZM828.4 1167.6H844.2V1182.8H828.4ZM1207.7 1167.6H1223.5V1182.8H1207.7ZM1270.9 1198.0H1286.7V1213.2H1270.9ZM1397.3 1198.0H1413.1V1213.2H1397.3ZM638.7 1213.2H654.6V1228.4H638.7ZM1270.9 1213.2H1302.5V1228.4H1270.9ZM1334.1 1213.2H1365.7V1228.4H1334.1ZM1381.5 1213.2H1397.3V1228.4H1381.5ZM733.6 1228.4H749.4V1243.6H733.6ZM1270.9 1228.4H1286.7V1243.6H1270.9ZM1318.3 1228.4H1334.1V1243.6H1318.3ZM1397.3 1228.4H1413.1V1243.6H1397.3ZM1428.9 1228.4H1444.7V1243.6H1428.9ZM781.0 1243.6H796.8V1258.7H781.0ZM812.6 1243.6H828.4V1258.7H812.6ZM1144.4 1243.6H1160.2V1258.7H1144.4ZM1334.1 1243.6H1349.9V1258.7H1334.1ZM1413.1 1243.6H1444.7V1258.7H1413.1ZM670.4 1258.7H686.2V1273.9H670.4ZM1033.8 1258.7H1049.6V1273.9H1033.8ZM654.6 1273.9H670.4V1289.1H654.6ZM749.4 1273.9H765.2V1289.1H749.4ZM1018.0 1304.3H1033.8V1319.5H1018.0ZM1255.1 1304.3H1270.9V1319.5H1255.1ZM1255.1 1319.5H1270.9V1334.6H1255.1ZM891.6 1334.6H907.4V1349.8H891.6ZM954.8 1334.6H970.6V1349.8H954.8ZM1002.2 1334.6H1018.0V1349.8H1002.2ZM923.2 1349.8H939.0V1365.0H923.2ZM1049.6 1349.8H1065.4V1365.0H1049.6ZM1255.1 1349.8H1270.9V1365.0H1255.1ZM828.4 1365.0H860.0V1380.2H828.4ZM954.8 1365.0H970.6V1380.2H954.8ZM844.2 1380.2H860.0V1395.4H844.2ZM1065.4 1380.2H1081.2V1395.4H1065.4ZM875.8 1395.4H891.6V1410.5H875.8ZM1049.6 1395.4H1065.4V1410.5H1049.6ZM1160.2 1410.5H1176.1V1425.7H1160.2ZM749.4 1425.7H765.2V1440.9H749.4ZM875.8 1425.7H891.6V1440.9H875.8ZM1176.1 1425.7H1191.9V1440.9H1176.1ZM1255.1 1425.7H1270.9V1440.9H1255.1ZM1176.1 1440.9H1191.9V1456.1H1176.1ZM1223.5 1440.9H1239.3V1456.1H1223.5ZM1270.9 1440.9H1286.7V1456.1H1270.9ZM607.1 1471.3H622.9V1486.4H607.1ZM1033.8 1471.3H1049.6V1486.4H1033.8ZM654.6 1486.4H670.4V1501.6H654.6ZM622.9 1501.6H638.7V1516.8H622.9ZM654.6 1516.8H670.4V1532.0H654.6ZM622.9 1532.0H638.7V1547.2H622.9ZM749.4 1532.0H765.2V1547.2H749.4ZM638.7 1547.2H654.6V1562.4H638.7ZM781.0 1547.2H796.8V1562.4H781.0Z"/>
<path fill="#074665" d="M907.4 818.5H923.2V833.7H907.4ZM923.2 864.0H939.0V879.2H923.2ZM1255.1 924.8H1270.9V939.9H1255.1ZM1207.7 955.1H1223.5V970.3H1207.7ZM891.6 970.3H907.4V985.5H891.6ZM907.4 985.5H923.2V1000.7H907.4ZM1176.1 985.5H1191.9V1000.7H1176.1ZM860.0 1000.7H875.8V1015.8H860.0ZM1097.0 1015.8H1112.8V1031.0H1097.0ZM1239.3 1015.8H1255.1V1031.0H1239.3ZM1144.4 1031.0H1160.2V1046.2H1144.4ZM1207.7 1031.0H1223.5V1046.2H1207.7ZM891.6 1046.2H907.4V1061.4H891.6ZM543.9 1061.4H559.7V1076.6H543.9ZM891.6 1061.4H923.2V1076.6H891.6ZM812.6 1076.6H828.4V1091.7H812.6ZM939.0 1076.6H970.6V1091.7H939.0ZM1081.2 1076.6H1097.0V1091.7H1081.2ZM607.1 1091.7H622.9V1106.9H607.1ZM717.8 1091.7H733.6V1106.9H717.8ZM828.4 1091.7H844.2V1106.9H828.4ZM970.6 1091.7H986.4V1106.9H970.6ZM1176.1 1091.7H1191.9V1106.9H1176.1ZM954.8 1106.9H970.6V1122.1H954.8ZM670.4 1137.3H686.2V1152.5H670.4ZM765.2 1152.5H781.0V1167.6H765.2ZM702.0 1182.8H717.8V1198.0H702.0ZM686.2 1228.4H702.0V1243.6H686.2ZM638.7 1243.6H654.6V1258.7H638.7ZM670.4 1243.6H686.2V1258.7H670.4ZM702.0 1258.7H717.8V1273.9H702.0ZM1255.1 1258.7H1286.7V1273.9H1255.1ZM1081.2 1273.9H1097.0V1289.1H1081.2ZM875.8 1289.1H891.6V1304.3H875.8ZM891.6 1319.5H907.4V1334.6H891.6ZM1049.6 1319.5H1065.4V1334.6H1049.6ZM923.2 1334.6H939.0V1349.8H923.2ZM1255.1 1334.6H1270.9V1349.8H1255.1ZM828.4 1349.8H844.2V1365.0H828.4ZM1049.6 1365.0H1065.4V1380.2H1049.6ZM1018.0 1380.2H1049.6V1395.4H1018.0ZM986.4 1395.4H1002.2V1410.5H986.4ZM1239.3 1395.4H1255.1V1410.5H1239.3ZM1207.7 1410.5H1223.5V1425.7H1207.7ZM1033.8 1425.7H1049.6V1440.9H1033.8ZM1018.0 1440.9H1033.8V1456.1H1018.0ZM1144.4 1440.9H1160.2V1456.1H1144.4ZM970.6 1456.1H986.4V1471.3H970.6ZM1033.8 1456.1H1049.6V1471.3H1033.8ZM828.4 1471.3H844.2V1486.4H828.4ZM1128.6 1471.3H1144.4V1486.4H1128.6ZM496.5 1501.6H512.3V1516.8H496.5ZM670.4 1501.6H686.2V1516.8H670.4ZM528.1 1516.8H543.9V1532.0H528.1ZM528.1 1532.0H543.9V1547.2H528.1ZM591.3 1532.0H607.1V1547.2H591.3Z"/>
<path fill="#084862" d="M860.0 818.5H875.8V833.7H860.0ZM939.0 818.5H954.8V833.7H939.0ZM875.8 833.7H891.6V848.8H875.8ZM1033.8 955.1H1049.6V970.3H1033.8ZM1223.5 955.1H1239.3V970.3H1223.5ZM1239.3 970.3H1255.1V985.5H1239.3ZM1191.9 985.5H1207.7V1000.7H1191.9ZM1112.8 1000.7H1144.4V1015.8H1112.8ZM1207.7 1000.7H1223.5V1015.8H1207.7ZM970.6 1015.8H986.4V1031.0H970.6ZM1081.2 1015.8H1097.0V1031.0H1081.2ZM1128.6 1015.8H1144.4V1031.0H1128.6ZM1176.1 1015.8H1191.9V1031.0H1176.1ZM907.4 1031.0H923.2V1046.2H907.4ZM1033.8 1046.2H1049.6V1061.4H1033.8ZM1128.6 1046.2H1144.4V1061.4H1128.6ZM1160.2 1046.2H1176.1V1061.4H1160.2ZM670.4 1061.4H686.2V1076.6H670.4ZM1065.4 1061.4H1081.2V1076.6H1065.4ZM1097.0 1061.4H1112.8V1076.6H1097.0ZM670.4 1076.6H686.2V1091.7H670.4ZM907.4 1076.6H923.2V1091.7H907.4ZM1160.2 1076.6H1176.1V1091.7H1160.2ZM591.3 1091.7H607.1V1106.9H591.3ZM622.9 1091.7H638.7V1106.9H622.9ZM686.2 1091.7H702.0V1106.9H686.2ZM1144.4 1091.7H1176.1V1106.9H1144.4ZM939.0 1106.9H954.8V1122.1H939.0ZM575.5 1122.1H591.3V1137.3H575.5ZM702.0 1137.3H717.8V1152.5H702.0ZM812.6 1137.3H828.4V1152.5H812.6ZM749.4 1198.0H765.2V1213.2H749.4ZM717.8 1213.2H733.6V1228.4H717.8ZM749.4 1228.4H781.0V1243.6H749.4ZM702.0 1243.6H717.8V1258.7H702.0ZM717.8 1258.7H749.4V1273.9H717.8ZM1112.8 1258.7H1128.6V1273.9H1112.8ZM1286.7 1258.7H1302.5V1273.9H1286.7ZM844.2 1273.9H860.0V1289.1H844.2ZM1097.0 1273.9H1112.8V1289.1H1097.0ZM717.8 1289.1H733.6V1304.3H717.8ZM860.0 1289.1H875.8V1304.3H860.0ZM1049.6 1289.1H1065.4V1304.3H1049.6ZM781.0 1304.3H796.8V1319.5H781.0ZM1033.8 1319.5H1049.6V1334.6H1033.8ZM1081.2 1319.5H1097.0V1334.6H1081.2ZM1270.9 1319.5H1286.7V1334.6H1270.9ZM1286.7 1334.6H1302.5V1349.8H1286.7ZM891.6 1349.8H907.4V1365.0H891.6ZM1018.0 1349.8H1033.8V1365.0H1018.0ZM1097.0 1349.8H1112.8V1365.0H1097.0ZM939.0 1365.0H954.8V1380.2H939.0ZM986.4 1380.2H1002.2V1395.4H986.4ZM1270.9 1380.2H1286.7V1395.4H1270.9ZM891.6 1395.4H907.4V1410.5H891.6ZM1270.9 1395.4H1286.7V1410.5H1270.9ZM986.4 1410.5H1002.2V1425.7H986.4ZM1270.9 1410.5H1286.7V1425.7H1270.9ZM923.2 1425.7H939.0V1440.9H923.2ZM1191.9 1425.7H1223.5V1440.9H1191.9ZM765.2 1440.9H781.0V1456.1H765.2ZM1033.8 1440.9H1049.6V1456.1H1033.8ZM1097.0 1440.9H1128.6V1456.1H1097.0ZM1207.7 1440.9H1223.5V1456.1H1207.7ZM1002.2 1456.1H1033.8V1471.3H1002.2ZM1097.0 1456.1H1112.8V1471.3H1097.0ZM591.3 1471.3H607.1V1486.4H591.3ZM749.4 1471.3H765.2V1486.4H749.4ZM543.9 1486.4H559.7V1501.6H543.9ZM749.4 1486.4H765.2V1501.6H749.4ZM559.7 1532.0H575.5V1547.2H559.7Z"/>
<path fill="#094b60" d="M844.2 818.5H860.0V833.7H844.2ZM891.6 818.5H907.4V833.7H891.6ZM923.2 818.5H939.0V833.7H923.2ZM828.4 833.7H860.0V848.8H828.4ZM891.6 848.8H954.8V864.0H891.6ZM891.6 864.0H923.2V879.2H891.6ZM939.0 864.0H954.8V879.2H939.0ZM891.6 879.2H907.4V894.4H891.6ZM939.0 879.2H954.8V894.4H939.0ZM1223.5 909.6H1239.3V924.8H1223.5ZM1128.6 924.8H1144.4V939.9H1128.6ZM1160.2 924.8H1176.1V939.9H1160.2ZM1223.5 924.8H1239.3V939.9H1223.5ZM1097.0 939.9H1112.8V955.1H1097.0ZM1207.7 939.9H1223.5V955.1H1207.7ZM1176.1 955.1H1191.9V970.3H1176.1ZM1207.7 970.3H1239.3V985.5H1207.7ZM1144.4 985.5H1160.2V1000.7H1144.4ZM1223.5 985.5H1239.3V1000.7H1223.5ZM907.4 1000.7H923.2V1015.8H907.4ZM939.0 1000.7H954.8V1015.8H939.0ZM1176.1 1000.7H1207.7V1015.8H1176.1ZM939.0 1031.0H954.8V1046.2H939.0ZM1002.2 1031.0H1018.0V1046.2H1002.2ZM1049.6 1031.0H1065.4V1046.2H1049.6ZM1128.6 1031.0H1144.4V1046.2H1128.6ZM1223.5 1031.0H1255.1V1046.2H1223.5ZM939.0 1046.2H954.8V1061.4H939.0ZM1049.6 1046.2H1065.4V1061.4H1049.6ZM1081.2 1046.2H1128.6V1061.4H1081.2ZM1144.4 1046.2H1160.2V1061.4H1144.4ZM686.2 1061.4H702.0V1076.6H686.2ZM733.6 1061.4H749.4V1076.6H733.6ZM781.0 1061.4H796.8V1076.6H781.0ZM1112.8 1061.4H1128.6V1076.6H1112.8ZM607.1 1076.6H622.9V1091.7H607.1ZM828.4 1076.6H844.2V1091.7H828.4ZM891.6 1076.6H907.4V1091.7H891.6ZM575.5 1091.7H591.3V1106.9H575.5ZM654.6 1091.7H670.4V1106.9H654.6ZM907.4 1091.7H923.2V1106.9H907.4ZM1112.8 1091.7H1128.6V1106.9H1112.8ZM670.4 1106.9H686.2V1122.1H670.4ZM970.6 1106.9H986.4V1122.1H970.6ZM796.8 1137.3H812.6V1152.5H796.8ZM812.6 1228.4H828.4V1243.6H812.6ZM749.4 1243.6H765.2V1258.7H749.4ZM765.2 1258.7H781.0V1273.9H765.2ZM796.8 1258.7H812.6V1273.9H796.8ZM1065.4 1258.7H1081.2V1273.9H1065.4ZM1223.5 1258.7H1239.3V1273.9H1223.5ZM1302.5 1258.7H1397.3V1273.9H1302.5ZM1413.1 1258.7H1428.9V1273.9H1413.1ZM1476.3 1258.7H1492.1V1273.9H1476.3ZM733.6 1273.9H749.4V1289.1H733.6ZM796.8 1273.9H812.6V1289.1H796.8ZM860.0 1273.9H875.8V1289.1H860.0ZM1018.0 1273.9H1033.8V1289.1H1018.0ZM1065.4 1273.9H1081.2V1289.1H1065.4ZM1223.5 1273.9H1239.3V1289.1H1223.5ZM1255.1 1273.9H1270.9V1289.1H1255.1ZM1286.7 1273.9H1318.3V1289.1H1286.7ZM1065.4 1304.3H1081.2V1319.5H1065.4ZM844.2 1334.6H860.0V1349.8H844.2ZM986.4 1334.6H1002.2V1349.8H986.4ZM954.8 1349.8H970.6V1365.0H954.8ZM1065.4 1349.8H1097.0V1365.0H1065.4ZM1302.5 1349.8H1318.3V1365.0H1302.5ZM875.8 1365.0H891.6V1380.2H875.8ZM986.4 1365.0H1002.2V1380.2H986.4ZM1018.0 1365.0H1033.8V1380.2H1018.0ZM1255.1 1365.0H1270.9V1380.2H1255.1ZM939.0 1395.4H954.8V1410.5H939.0ZM1286.7 1395.4H1302.5V1410.5H1286.7ZM891.6 1410.5H907.4V1425.7H891.6ZM923.2 1410.5H939.0V1425.7H923.2ZM954.8 1410.5H970.6V1425.7H954.8ZM1033.8 1410.5H1049.6V1425.7H1033.8ZM1097.0 1410.5H1112.8V1425.7H1097.0ZM986.4 1425.7H1002.2V1440.9H986.4ZM1065.4 1425.7H1081.2V1440.9H1065.4ZM1112.8 1425.7H1128.6V1440.9H1112.8ZM1302.5 1425.7H1318.3V1440.9H1302.5ZM923.2 1440.9H939.0V1456.1H923.2ZM986.4 1440.9H1002.2V1456.1H986.4ZM1239.3 1440.9H1255.1V1456.1H1239.3ZM844.2 1456.1H860.0V1471.3H844.2ZM986.4 1456.1H1002.2V1471.3H986.4ZM1049.6 1456.1H1065.4V1471.3H1049.6ZM1081.2 1456.1H1097.0V1471.3H1081.2ZM1176.1 1456.1H1191.9V1471.3H1176.1ZM733.6 1471.3H749.4V1486.4H733.6ZM844.2 1471.3H860.0V1486.4H844.2ZM796.8 1532.0H812.6V1547.2H796.8Z"/>
<path fill="#0a4e5d" d="M907.4 803.3H923.2V818.5H907.4ZM939.0 803.3H970.6V818.5H939.0ZM875.8 818.5H891.6V833.7H875.8ZM954.8 818.5H970.6V833.7H954.8ZM907.4 833.7H923.2V848.8H907.4ZM923.2 879.2H939.0V894.4H923.2ZM1255.1 909.6H1270.9V924.8H1255.1ZM1144.4 924.8H1160.2V939.9H1144.4ZM1176.1 924.8H1191.9V939.9H1176.1ZM1128.6 939.9H1144.4V955.1H1128.6ZM1239.3 939.9H1255.1V955.1H1239.3ZM1097.0 955.1H1112.8V970.3H1097.0ZM1191.9 955.1H1207.7V970.3H1191.9ZM1081.2 970.3H1097.0V985.5H1081.2ZM1176.1 970.3H1207.7V985.5H1176.1ZM1334.1 970.3H1349.9V985.5H1334.1ZM1065.4 985.5H1081.2V1000.7H1065.4ZM1128.6 985.5H1144.4V1000.7H1128.6ZM1160.2 985.5H1176.1V1000.7H1160.2ZM1160.2 1000.7H1176.1V1015.8H1160.2ZM1223.5 1000.7H1239.3V1015.8H1223.5ZM1523.7 1000.7H1539.5V1015.8H1523.7ZM1049.6 1015.8H1065.4V1031.0H1049.6ZM1160.2 1015.8H1176.1V1031.0H1160.2ZM1018.0 1031.0H1033.8V1046.2H1018.0ZM1065.4 1031.0H1081.2V1046.2H1065.4ZM1176.1 1031.0H1191.9V1046.2H1176.1ZM638.7 1061.4H654.6V1076.6H638.7ZM1128.6 1061.4H1144.4V1076.6H1128.6ZM1191.9 1061.4H1207.7V1076.6H1191.9ZM1033.8 1076.6H1049.6V1091.7H1033.8ZM1097.0 1076.6H1112.8V1091.7H1097.0ZM1128.6 1076.6H1144.4V1091.7H1128.6ZM1176.1 1076.6H1191.9V1091.7H1176.1ZM559.7 1091.7H575.5V1106.9H559.7ZM638.7 1091.7H654.6V1106.9H638.7ZM1097.0 1091.7H1112.8V1106.9H1097.0ZM1191.9 1091.7H1207.7V1106.9H1191.9ZM702.0 1106.9H717.8V1122.1H702.0ZM543.9 1122.1H559.7V1137.3H543.9ZM686.2 1122.1H702.0V1137.3H686.2ZM765.2 1198.0H781.0V1213.2H765.2ZM654.6 1258.7H670.4V1273.9H654.6ZM1033.8 1273.9H1049.6V1289.1H1033.8ZM1270.9 1273.9H1286.7V1289.1H1270.9ZM1081.2 1289.1H1097.0V1304.3H1081.2ZM1270.9 1289.1H1286.7V1304.3H1270.9ZM1049.6 1304.3H1065.4V1319.5H1049.6ZM1065.4 1319.5H1081.2V1334.6H1065.4ZM1097.0 1319.5H1112.8V1334.6H1097.0ZM1049.6 1334.6H1065.4V1349.8H1049.6ZM1270.9 1365.0H1286.7V1380.2H1270.9ZM1255.1 1380.2H1270.9V1395.4H1255.1ZM907.4 1395.4H923.2V1410.5H907.4ZM970.6 1395.4H986.4V1410.5H970.6ZM1002.2 1395.4H1018.0V1410.5H1002.2ZM1128.6 1395.4H1144.4V1410.5H1128.6ZM1255.1 1395.4H1270.9V1410.5H1255.1ZM970.6 1410.5H986.4V1425.7H970.6ZM1018.0 1410.5H1033.8V1425.7H1018.0ZM1049.6 1410.5H1065.4V1425.7H1049.6ZM1081.2 1410.5H1097.0V1425.7H1081.2ZM1191.9 1410.5H1207.7V1425.7H1191.9ZM860.0 1425.7H875.8V1440.9H860.0ZM939.0 1425.7H954.8V1440.9H939.0ZM970.6 1425.7H986.4V1440.9H970.6ZM1097.0 1425.7H1112.8V1440.9H1097.0ZM1286.7 1425.7H1302.5V1440.9H1286.7ZM1002.2 1440.9H1018.0V1456.1H1002.2ZM1128.6 1440.9H1144.4V1456.1H1128.6ZM1318.3 1440.9H1349.9V1456.1H1318.3ZM1365.7 1440.9H1381.5V1456.1H1365.7ZM812.6 1456.1H828.4V1471.3H812.6ZM860.0 1456.1H875.8V1471.3H860.0ZM559.7 1486.4H575.5V1501.6H559.7ZM702.0 1532.0H717.8V1547.2H702.0Z"/>
<path fill="#0b505a" d="M1097.0 803.3H1112.8V818.5H1097.0ZM1097.0 818.5H1112.8V833.7H1097.0ZM923.2 833.7H970.6V848.8H923.2ZM1081.2 833.7H1112.8V848.8H1081.2ZM828.4 848.8H844.2V864.0H828.4ZM875.8 864.0H891.6V879.2H875.8ZM907.4 879.2H923.2V894.4H907.4ZM954.8 879.2H970.6V894.4H954.8ZM1223.5 894.4H1239.3V909.6H1223.5ZM1144.4 909.6H1160.2V924.8H1144.4ZM1176.1 909.6H1191.9V924.8H1176.1ZM1207.7 909.6H1223.5V924.8H1207.7ZM1239.3 909.6H1255.1V924.8H1239.3ZM1033.8 924.8H1049.6V939.9H1033.8ZM1049.6 939.9H1065.4V955.1H1049.6ZM1176.1 939.9H1191.9V955.1H1176.1ZM1160.2 955.1H1176.1V970.3H1160.2ZM1239.3 955.1H1255.1V970.3H1239.3ZM1334.1 955.1H1349.9V970.3H1334.1ZM860.0 970.3H875.8V985.5H860.0ZM1065.4 970.3H1081.2V985.5H1065.4ZM1112.8 970.3H1128.6V985.5H1112.8ZM1081.2 985.5H1097.0V1000.7H1081.2ZM1239.3 985.5H1255.1V1000.7H1239.3ZM844.2 1000.7H860.0V1015.8H844.2ZM1065.4 1000.7H1097.0V1015.8H1065.4ZM1144.4 1000.7H1160.2V1015.8H1144.4ZM954.8 1015.8H970.6V1031.0H954.8ZM1065.4 1015.8H1081.2V1031.0H1065.4ZM1223.5 1015.8H1239.3V1031.0H1223.5ZM986.4 1031.0H1002.2V1046.2H986.4ZM1191.9 1031.0H1207.7V1046.2H1191.9ZM844.2 1046.2H860.0V1061.4H844.2ZM970.6 1046.2H986.4V1061.4H970.6ZM1176.1 1046.2H1207.7V1061.4H1176.1ZM702.0 1061.4H717.8V1076.6H702.0ZM796.8 1061.4H828.4V1076.6H796.8ZM923.2 1061.4H939.0V1076.6H923.2ZM986.4 1061.4H1002.2V1076.6H986.4ZM1144.4 1061.4H1160.2V1076.6H1144.4ZM528.1 1076.6H543.9V1091.7H528.1ZM844.2 1076.6H860.0V1091.7H844.2ZM986.4 1076.6H1002.2V1091.7H986.4ZM1018.0 1076.6H1033.8V1091.7H1018.0ZM1112.8 1076.6H1128.6V1091.7H1112.8ZM686.2 1106.9H702.0V1122.1H686.2ZM543.9 1137.3H559.7V1152.5H543.9ZM733.6 1167.6H749.4V1182.8H733.6ZM733.6 1182.8H749.4V1198.0H733.6ZM733.6 1213.2H749.4V1228.4H733.6ZM654.6 1228.4H670.4V1243.6H654.6ZM717.8 1243.6H733.6V1258.7H717.8ZM1128.6 1258.7H1160.2V1273.9H1128.6ZM1239.3 1273.9H1255.1V1289.1H1239.3ZM1239.3 1289.1H1255.1V1304.3H1239.3ZM1302.5 1289.1H1318.3V1304.3H1302.5ZM828.4 1304.3H844.2V1319.5H828.4ZM1239.3 1304.3H1255.1V1319.5H1239.3ZM1286.7 1304.3H1302.5V1319.5H1286.7ZM1018.0 1334.6H1049.6V1349.8H1018.0ZM1065.4 1334.6H1081.2V1349.8H1065.4ZM1239.3 1334.6H1255.1V1349.8H1239.3ZM923.2 1365.0H939.0V1380.2H923.2ZM1002.2 1365.0H1018.0V1380.2H1002.2ZM1002.2 1380.2H1018.0V1395.4H1002.2ZM1081.2 1380.2H1097.0V1395.4H1081.2ZM1239.3 1380.2H1255.1V1395.4H1239.3ZM1286.7 1380.2H1302.5V1395.4H1286.7ZM1018.0 1395.4H1033.8V1410.5H1018.0ZM1081.2 1395.4H1097.0V1410.5H1081.2ZM1255.1 1410.5H1270.9V1425.7H1255.1ZM1160.2 1425.7H1176.1V1440.9H1160.2ZM1065.4 1440.9H1081.2V1456.1H1065.4ZM1349.9 1440.9H1365.7V1456.1H1349.9ZM796.8 1471.3H812.6V1486.4H796.8ZM686.2 1486.4H702.0V1501.6H686.2ZM591.3 1516.8H607.1V1532.0H591.3Z"/>
<path fill="#0c5358" d="M891.6 788.1H923.2V803.3H891.6ZM923.2 803.3H939.0V818.5H923.2ZM970.6 803.3H1002.2V818.5H970.6ZM1033.8 803.3H1065.4V818.5H1033.8ZM1128.6 803.3H1144.4V818.5H1128.6ZM1002.2 818.5H1018.0V833.7H1002.2ZM1081.2 818.5H1097.0V833.7H1081.2ZM1112.8 818.5H1128.6V833.7H1112.8ZM1460.5 818.5H1476.3V833.7H1460.5ZM1002.2 833.7H1033.8V848.8H1002.2ZM1065.4 833.7H1081.2V848.8H1065.4ZM1128.6 833.7H1144.4V848.8H1128.6ZM812.6 848.8H828.4V864.0H812.6ZM970.6 848.8H986.4V864.0H970.6ZM1018.0 848.8H1033.8V864.0H1018.0ZM1065.4 848.8H1097.0V864.0H1065.4ZM1223.5 848.8H1239.3V864.0H1223.5ZM1413.1 848.8H1428.9V864.0H1413.1ZM954.8 864.0H970.6V879.2H954.8ZM1002.2 864.0H1018.0V879.2H1002.2ZM1033.8 864.0H1081.2V879.2H1033.8ZM1128.6 864.0H1144.4V879.2H1128.6ZM875.8 879.2H891.6V894.4H875.8ZM1049.6 879.2H1065.4V894.4H1049.6ZM1097.0 879.2H1128.6V894.4H1097.0ZM1365.7 879.2H1381.5V894.4H1365.7ZM1523.7 879.2H1539.5V894.4H1523.7ZM891.6 894.4H907.4V909.6H891.6ZM923.2 894.4H939.0V909.6H923.2ZM1128.6 894.4H1144.4V909.6H1128.6ZM1571.1 894.4H1586.9V909.6H1571.1ZM1065.4 909.6H1081.2V924.8H1065.4ZM1112.8 909.6H1144.4V924.8H1112.8ZM1318.3 909.6H1334.1V924.8H1318.3ZM1065.4 924.8H1081.2V939.9H1065.4ZM1112.8 924.8H1128.6V939.9H1112.8ZM1207.7 924.8H1223.5V939.9H1207.7ZM1334.1 924.8H1349.9V939.9H1334.1ZM1065.4 939.9H1081.2V955.1H1065.4ZM1112.8 939.9H1128.6V955.1H1112.8ZM1144.4 939.9H1160.2V955.1H1144.4ZM1018.0 955.1H1033.8V970.3H1018.0ZM1097.0 970.3H1112.8V985.5H1097.0ZM1128.6 970.3H1144.4V985.5H1128.6ZM1160.2 970.3H1176.1V985.5H1160.2ZM1018.0 985.5H1033.8V1000.7H1018.0ZM1112.8 985.5H1128.6V1000.7H1112.8ZM1207.7 985.5H1223.5V1000.7H1207.7ZM1033.8 1000.7H1065.4V1015.8H1033.8ZM1097.0 1000.7H1112.8V1015.8H1097.0ZM1239.3 1000.7H1255.1V1015.8H1239.3ZM1112.8 1015.8H1128.6V1031.0H1112.8ZM1191.9 1015.8H1207.7V1031.0H1191.9ZM844.2 1031.0H860.0V1046.2H844.2ZM1081.2 1031.0H1112.8V1046.2H1081.2ZM1160.2 1031.0H1176.1V1046.2H1160.2ZM986.4 1046.2H1002.2V1061.4H986.4ZM512.3 1061.4H528.1V1076.6H512.3ZM1081.2 1061.4H1097.0V1076.6H1081.2ZM1176.1 1061.4H1191.9V1076.6H1176.1ZM860.0 1076.6H875.8V1091.7H860.0ZM1144.4 1076.6H1160.2V1091.7H1144.4ZM670.4 1198.0H686.2V1213.2H670.4ZM1081.2 1258.7H1097.0V1273.9H1081.2ZM1191.9 1258.7H1223.5V1273.9H1191.9ZM1065.4 1289.1H1081.2V1304.3H1065.4ZM1033.8 1304.3H1049.6V1319.5H1033.8ZM1239.3 1319.5H1255.1V1334.6H1239.3ZM986.4 1349.8H1002.2V1365.0H986.4ZM1270.9 1349.8H1286.7V1365.0H1270.9ZM970.6 1380.2H986.4V1395.4H970.6ZM1033.8 1395.4H1049.6V1410.5H1033.8ZM1065.4 1395.4H1081.2V1410.5H1065.4ZM1097.0 1395.4H1112.8V1410.5H1097.0ZM1286.7 1410.5H1302.5V1425.7H1286.7ZM1002.2 1425.7H1018.0V1440.9H1002.2ZM875.8 1440.9H891.6V1456.1H875.8ZM1049.6 1440.9H1065.4V1456.1H1049.6ZM733.6 1547.2H749.4V1562.4H733.6Z"/>
<path fill="#0d5655" d="M860.0 727.4H875.8V742.6H860.0ZM907.4 742.6H923.2V757.8H907.4ZM954.8 742.6H970.6V757.8H954.8ZM986.4 742.6H1002.2V757.8H986.4ZM891.6 757.8H923.2V772.9H891.6ZM1002.2 757.8H1018.0V772.9H1002.2ZM1049.6 757.8H1065.4V772.9H1049.6ZM1112.8 772.9H1160.2V788.1H1112.8ZM844.2 788.1H875.8V803.3H844.2ZM939.0 788.1H970.6V803.3H939.0ZM986.4 788.1H1002.2V803.3H986.4ZM1097.0 788.1H1128.6V803.3H1097.0ZM1144.4 788.1H1176.1V803.3H1144.4ZM1349.9 788.1H1381.5V803.3H1349.9ZM1428.9 788.1H1444.7V803.3H1428.9ZM1065.4 803.3H1081.2V818.5H1065.4ZM1112.8 803.3H1128.6V818.5H1112.8ZM1318.3 803.3H1349.9V818.5H1318.3ZM1365.7 803.3H1413.1V818.5H1365.7ZM1018.0 818.5H1033.8V833.7H1018.0ZM1065.4 818.5H1081.2V833.7H1065.4ZM1128.6 818.5H1176.1V833.7H1128.6ZM1191.9 818.5H1255.1V833.7H1191.9ZM1286.7 818.5H1318.3V833.7H1286.7ZM1334.1 818.5H1444.7V833.7H1334.1ZM1476.3 818.5H1492.1V833.7H1476.3ZM970.6 833.7H986.4V848.8H970.6ZM1033.8 833.7H1065.4V848.8H1033.8ZM1112.8 833.7H1128.6V848.8H1112.8ZM1144.4 833.7H1270.9V848.8H1144.4ZM1286.7 833.7H1413.1V848.8H1286.7ZM1444.7 833.7H1476.3V848.8H1444.7ZM844.2 848.8H860.0V864.0H844.2ZM1002.2 848.8H1018.0V864.0H1002.2ZM1033.8 848.8H1065.4V864.0H1033.8ZM1097.0 848.8H1144.4V864.0H1097.0ZM1160.2 848.8H1207.7V864.0H1160.2ZM1239.3 848.8H1302.5V864.0H1239.3ZM1318.3 848.8H1413.1V864.0H1318.3ZM1428.9 848.8H1507.9V864.0H1428.9ZM970.6 864.0H1002.2V879.2H970.6ZM1018.0 864.0H1033.8V879.2H1018.0ZM1097.0 864.0H1112.8V879.2H1097.0ZM1160.2 864.0H1191.9V879.2H1160.2ZM1207.7 864.0H1270.9V879.2H1207.7ZM1286.7 864.0H1365.7V879.2H1286.7ZM1381.5 864.0H1428.9V879.2H1381.5ZM1460.5 864.0H1507.9V879.2H1460.5ZM1523.7 864.0H1539.5V879.2H1523.7ZM1002.2 879.2H1033.8V894.4H1002.2ZM1065.4 879.2H1097.0V894.4H1065.4ZM1128.6 879.2H1191.9V894.4H1128.6ZM1207.7 879.2H1223.5V894.4H1207.7ZM1255.1 879.2H1270.9V894.4H1255.1ZM1286.7 879.2H1334.1V894.4H1286.7ZM1381.5 879.2H1507.9V894.4H1381.5ZM907.4 894.4H923.2V909.6H907.4ZM939.0 894.4H954.8V909.6H939.0ZM1002.2 894.4H1018.0V909.6H1002.2ZM1112.8 894.4H1128.6V909.6H1112.8ZM1144.4 894.4H1207.7V909.6H1144.4ZM1239.3 894.4H1255.1V909.6H1239.3ZM1270.9 894.4H1349.9V909.6H1270.9ZM1381.5 894.4H1428.9V909.6H1381.5ZM1444.7 894.4H1476.3V909.6H1444.7ZM1507.9 894.4H1571.1V909.6H1507.9ZM1033.8 909.6H1049.6V924.8H1033.8ZM1097.0 909.6H1112.8V924.8H1097.0ZM1160.2 909.6H1176.1V924.8H1160.2ZM1286.7 909.6H1318.3V924.8H1286.7ZM1334.1 909.6H1349.9V924.8H1334.1ZM1365.7 909.6H1397.3V924.8H1365.7ZM1444.7 909.6H1507.9V924.8H1444.7ZM1539.5 909.6H1555.3V924.8H1539.5ZM1571.1 909.6H1586.9V924.8H1571.1ZM1049.6 924.8H1065.4V939.9H1049.6ZM1081.2 924.8H1097.0V939.9H1081.2ZM1413.1 924.8H1444.7V939.9H1413.1ZM1460.5 924.8H1492.1V939.9H1460.5ZM1033.8 939.9H1049.6V955.1H1033.8ZM1160.2 939.9H1176.1V955.1H1160.2ZM1191.9 939.9H1207.7V955.1H1191.9ZM1223.5 939.9H1239.3V955.1H1223.5ZM1349.9 939.9H1397.3V955.1H1349.9ZM1444.7 939.9H1476.3V955.1H1444.7ZM875.8 955.1H891.6V970.3H875.8ZM1065.4 955.1H1081.2V970.3H1065.4ZM1381.5 955.1H1397.3V970.3H1381.5ZM1428.9 955.1H1444.7V970.3H1428.9ZM1460.5 955.1H1476.3V970.3H1460.5ZM844.2 970.3H860.0V985.5H844.2ZM1018.0 970.3H1033.8V985.5H1018.0ZM1365.7 970.3H1381.5V985.5H1365.7ZM1428.9 970.3H1460.5V985.5H1428.9ZM1476.3 970.3H1492.1V985.5H1476.3ZM844.2 985.5H860.0V1000.7H844.2ZM1049.6 985.5H1065.4V1000.7H1049.6ZM1097.0 985.5H1112.8V1000.7H1097.0ZM1507.9 985.5H1523.7V1000.7H1507.9ZM986.4 1000.7H1002.2V1015.8H986.4ZM970.6 1031.0H986.4V1046.2H970.6ZM1112.8 1031.0H1128.6V1046.2H1112.8ZM528.1 1061.4H543.9V1076.6H528.1ZM717.8 1061.4H733.6V1076.6H717.8ZM828.4 1061.4H860.0V1076.6H828.4ZM1033.8 1061.4H1065.4V1076.6H1033.8ZM638.7 1076.6H654.6V1091.7H638.7ZM733.6 1091.7H749.4V1106.9H733.6ZM1065.4 1091.7H1081.2V1106.9H1065.4ZM575.5 1106.9H591.3V1122.1H575.5ZM670.4 1122.1H686.2V1137.3H670.4ZM496.5 1152.5H512.3V1167.6H496.5ZM512.3 1182.8H528.1V1198.0H512.3ZM512.3 1198.0H528.1V1213.2H512.3ZM765.2 1213.2H781.0V1228.4H765.2ZM512.3 1228.4H528.1V1243.6H512.3ZM1255.1 1289.1H1270.9V1304.3H1255.1ZM1286.7 1289.1H1302.5V1304.3H1286.7ZM1081.2 1304.3H1112.8V1319.5H1081.2ZM1081.2 1334.6H1097.0V1349.8H1081.2ZM1033.8 1349.8H1049.6V1365.0H1033.8ZM1286.7 1349.8H1302.5V1365.0H1286.7ZM1049.6 1380.2H1065.4V1395.4H1049.6ZM939.0 1410.5H954.8V1425.7H939.0ZM1112.8 1410.5H1128.6V1425.7H1112.8ZM812.6 1425.7H828.4V1440.9H812.6ZM1018.0 1425.7H1033.8V1440.9H1018.0ZM1223.5 1425.7H1239.3V1440.9H1223.5ZM1381.5 1440.9H1397.3V1456.1H1381.5Z"/>
<path fill="#0e5853" d="M828.4 727.4H844.2V742.6H828.4ZM875.8 727.4H923.2V742.6H875.8ZM939.0 727.4H970.6V742.6H939.0ZM860.0 742.6H907.4V757.8H860.0ZM923.2 742.6H939.0V757.8H923.2ZM844.2 757.8H875.8V772.9H844.2ZM939.0 757.8H1002.2V772.9H939.0ZM828.4 772.9H844.2V788.1H828.4ZM891.6 772.9H939.0V788.1H891.6ZM970.6 772.9H1033.8V788.1H970.6ZM1049.6 772.9H1112.8V788.1H1049.6ZM1160.2 772.9H1176.1V788.1H1160.2ZM923.2 788.1H939.0V803.3H923.2ZM970.6 788.1H986.4V803.3H970.6ZM1018.0 788.1H1065.4V803.3H1018.0ZM1081.2 788.1H1097.0V803.3H1081.2ZM1128.6 788.1H1144.4V803.3H1128.6ZM1381.5 788.1H1397.3V803.3H1381.5ZM1002.2 803.3H1033.8V818.5H1002.2ZM1081.2 803.3H1097.0V818.5H1081.2ZM1144.4 803.3H1160.2V818.5H1144.4ZM1413.1 803.3H1428.9V818.5H1413.1ZM986.4 818.5H1002.2V833.7H986.4ZM1033.8 818.5H1065.4V833.7H1033.8ZM1176.1 818.5H1191.9V833.7H1176.1ZM1255.1 818.5H1270.9V833.7H1255.1ZM1492.1 818.5H1507.9V833.7H1492.1ZM986.4 833.7H1002.2V848.8H986.4ZM1270.9 833.7H1286.7V848.8H1270.9ZM1413.1 833.7H1444.7V848.8H1413.1ZM1144.4 848.8H1160.2V864.0H1144.4ZM1207.7 848.8H1223.5V864.0H1207.7ZM1302.5 848.8H1318.3V864.0H1302.5ZM1081.2 864.0H1097.0V879.2H1081.2ZM1112.8 864.0H1128.6V879.2H1112.8ZM1144.4 864.0H1160.2V879.2H1144.4ZM1191.9 864.0H1207.7V879.2H1191.9ZM1270.9 864.0H1286.7V879.2H1270.9ZM1365.7 864.0H1381.5V879.2H1365.7ZM1428.9 864.0H1460.5V879.2H1428.9ZM1507.9 864.0H1523.7V879.2H1507.9ZM970.6 879.2H1002.2V894.4H970.6ZM1033.8 879.2H1049.6V894.4H1033.8ZM1191.9 879.2H1207.7V894.4H1191.9ZM1223.5 879.2H1255.1V894.4H1223.5ZM1270.9 879.2H1286.7V894.4H1270.9ZM1334.1 879.2H1365.7V894.4H1334.1ZM1507.9 879.2H1523.7V894.4H1507.9ZM1571.1 879.2H1586.9V894.4H1571.1ZM875.8 894.4H891.6V909.6H875.8ZM970.6 894.4H986.4V909.6H970.6ZM1033.8 894.4H1065.4V909.6H1033.8ZM1097.0 894.4H1112.8V909.6H1097.0ZM1207.7 894.4H1223.5V909.6H1207.7ZM1255.1 894.4H1270.9V909.6H1255.1ZM1349.9 894.4H1381.5V909.6H1349.9ZM1428.9 894.4H1444.7V909.6H1428.9ZM1476.3 894.4H1507.9V909.6H1476.3ZM1191.9 909.6H1207.7V924.8H1191.9ZM1349.9 909.6H1365.7V924.8H1349.9ZM1397.3 909.6H1444.7V924.8H1397.3ZM923.2 924.8H939.0V939.9H923.2ZM1018.0 924.8H1033.8V939.9H1018.0ZM1191.9 924.8H1207.7V939.9H1191.9ZM1349.9 924.8H1413.1V939.9H1349.9ZM1018.0 939.9H1033.8V955.1H1018.0ZM1397.3 939.9H1413.1V955.1H1397.3ZM1476.3 939.9H1492.1V955.1H1476.3ZM1112.8 955.1H1160.2V970.3H1112.8ZM1349.9 955.1H1365.7V970.3H1349.9ZM1476.3 955.1H1492.1V970.3H1476.3ZM923.2 970.3H939.0V985.5H923.2ZM970.6 970.3H986.4V985.5H970.6ZM1002.2 970.3H1018.0V985.5H1002.2ZM1033.8 970.3H1065.4V985.5H1033.8ZM1349.9 970.3H1365.7V985.5H1349.9ZM1381.5 970.3H1397.3V985.5H1381.5ZM1413.1 970.3H1428.9V985.5H1413.1ZM1460.5 970.3H1476.3V985.5H1460.5ZM1492.1 970.3H1507.9V985.5H1492.1ZM1002.2 985.5H1018.0V1000.7H1002.2ZM954.8 1000.7H986.4V1015.8H954.8ZM844.2 1015.8H860.0V1031.0H844.2ZM1207.7 1015.8H1223.5V1031.0H1207.7ZM622.9 1046.2H638.7V1061.4H622.9ZM702.0 1046.2H717.8V1061.4H702.0ZM607.1 1061.4H622.9V1076.6H607.1ZM654.6 1061.4H670.4V1076.6H654.6ZM765.2 1061.4H781.0V1076.6H765.2ZM970.6 1061.4H986.4V1076.6H970.6ZM686.2 1076.6H702.0V1091.7H686.2ZM543.9 1106.9H559.7V1122.1H543.9ZM702.0 1213.2H717.8V1228.4H702.0ZM496.5 1228.4H512.3V1243.6H496.5ZM733.6 1243.6H749.4V1258.7H733.6ZM1176.1 1258.7H1191.9V1273.9H1176.1ZM1049.6 1273.9H1065.4V1289.1H1049.6ZM1112.8 1273.9H1128.6V1289.1H1112.8ZM1018.0 1289.1H1033.8V1304.3H1018.0ZM1302.5 1319.5H1318.3V1334.6H1302.5ZM1302.5 1365.0H1318.3V1380.2H1302.5ZM1302.5 1395.4H1318.3V1410.5H1302.5ZM1239.3 1410.5H1255.1V1425.7H1239.3ZM1081.2 1425.7H1097.0V1440.9H1081.2Z"/>
<path fill="#0f5b50" d="M923.2 727.4H939.0V742.6H923.2ZM970.6 727.4H986.4V742.6H970.6ZM844.2 742.6H860.0V757.8H844.2ZM939.0 742.6H954.8V757.8H939.0ZM970.6 742.6H986.4V757.8H970.6ZM1002.2 742.6H1018.0V757.8H1002.2ZM828.4 757.8H844.2V772.9H828.4ZM875.8 757.8H891.6V772.9H875.8ZM923.2 757.8H939.0V772.9H923.2ZM860.0 772.9H891.6V788.1H860.0ZM939.0 772.9H970.6V788.1H939.0ZM1033.8 772.9H1049.6V788.1H1033.8ZM1065.4 788.1H1081.2V803.3H1065.4ZM986.4 848.8H1002.2V864.0H986.4ZM860.0 864.0H875.8V879.2H860.0ZM1018.0 894.4H1033.8V909.6H1018.0ZM1065.4 894.4H1081.2V909.6H1065.4ZM875.8 909.6H891.6V924.8H875.8ZM1018.0 909.6H1033.8V924.8H1018.0ZM1049.6 909.6H1065.4V924.8H1049.6ZM860.0 924.8H875.8V939.9H860.0ZM1097.0 924.8H1112.8V939.9H1097.0ZM860.0 939.9H891.6V955.1H860.0ZM1002.2 939.9H1018.0V955.1H1002.2ZM1081.2 939.9H1097.0V955.1H1081.2ZM907.4 955.1H923.2V970.3H907.4ZM986.4 955.1H1002.2V970.3H986.4ZM1081.2 955.1H1097.0V970.3H1081.2ZM986.4 970.3H1002.2V985.5H986.4ZM1144.4 970.3H1160.2V985.5H1144.4ZM923.2 985.5H939.0V1000.7H923.2ZM970.6 985.5H1002.2V1000.7H970.6ZM1144.4 1015.8H1160.2V1031.0H1144.4ZM923.2 1031.0H939.0V1046.2H923.2ZM1033.8 1031.0H1049.6V1046.2H1033.8ZM638.7 1046.2H654.6V1061.4H638.7ZM670.4 1046.2H686.2V1061.4H670.4ZM765.2 1046.2H781.0V1061.4H765.2ZM923.2 1046.2H939.0V1061.4H923.2ZM559.7 1061.4H591.3V1076.6H559.7ZM954.8 1061.4H970.6V1076.6H954.8ZM796.8 1076.6H812.6V1091.7H796.8ZM591.3 1106.9H607.1V1122.1H591.3ZM638.7 1106.9H654.6V1122.1H638.7ZM607.1 1122.1H622.9V1137.3H607.1ZM464.9 1167.6H480.7V1182.8H464.9ZM1191.9 1273.9H1207.7V1289.1H1191.9ZM1302.5 1304.3H1318.3V1319.5H1302.5ZM1286.7 1319.5H1302.5V1334.6H1286.7ZM1270.9 1334.6H1286.7V1349.8H1270.9ZM1081.2 1365.0H1097.0V1380.2H1081.2ZM875.8 1380.2H891.6V1395.4H875.8ZM1112.8 1395.4H1128.6V1410.5H1112.8ZM1223.5 1410.5H1239.3V1425.7H1223.5ZM1128.6 1456.1H1144.4V1471.3H1128.6Z"/>
<path fill="#105e4e" d="M986.4 894.4H1002.2V909.6H986.4ZM1002.2 909.6H1018.0V924.8H1002.2ZM1081.2 909.6H1097.0V924.8H1081.2ZM891.6 924.8H907.4V939.9H891.6ZM939.0 924.8H954.8V939.9H939.0ZM1002.2 924.8H1018.0V939.9H1002.2ZM844.2 939.9H860.0V955.1H844.2ZM907.4 939.9H923.2V955.1H907.4ZM907.4 970.3H923.2V985.5H907.4ZM954.8 970.3H970.6V985.5H954.8ZM923.2 1000.7H939.0V1015.8H923.2ZM954.8 1031.0H970.6V1046.2H954.8ZM575.5 1046.2H607.1V1061.4H575.5ZM686.2 1046.2H702.0V1061.4H686.2ZM1002.2 1046.2H1018.0V1061.4H1002.2ZM512.3 1091.7H528.1V1106.9H512.3ZM543.9 1091.7H559.7V1106.9H543.9ZM622.9 1122.1H638.7V1137.3H622.9ZM654.6 1122.1H670.4V1137.3H654.6ZM512.3 1137.3H528.1V1152.5H512.3ZM480.7 1182.8H496.5V1198.0H480.7ZM464.9 1198.0H480.7V1213.2H464.9ZM480.7 1213.2H512.3V1228.4H480.7ZM796.8 1243.6H812.6V1258.7H796.8ZM1128.6 1273.9H1144.4V1289.1H1128.6ZM1207.7 1273.9H1223.5V1289.1H1207.7ZM1318.3 1273.9H1334.1V1289.1H1318.3ZM1033.8 1289.1H1049.6V1304.3H1033.8ZM1097.0 1289.1H1112.8V1304.3H1097.0ZM1223.5 1349.8H1239.3V1365.0H1223.5ZM1239.3 1365.0H1255.1V1380.2H1239.3ZM1144.4 1395.4H1160.2V1410.5H1144.4ZM1302.5 1410.5H1318.3V1425.7H1302.5ZM1128.6 1425.7H1144.4V1440.9H1128.6ZM1413.1 1456.1H1428.9V1471.3H1413.1ZM1413.1 1471.3H1428.9V1486.4H1413.1Z"/>
<path fill="#11604b" d="M954.8 894.4H970.6V909.6H954.8ZM1081.2 894.4H1097.0V909.6H1081.2ZM860.0 909.6H875.8V924.8H860.0ZM923.2 909.6H939.0V924.8H923.2ZM907.4 924.8H923.2V939.9H907.4ZM954.8 924.8H970.6V939.9H954.8ZM986.4 939.9H1002.2V955.1H986.4ZM1002.2 955.1H1018.0V970.3H1002.2ZM1049.6 955.1H1065.4V970.3H1049.6ZM1018.0 1000.7H1033.8V1015.8H1018.0ZM1018.0 1015.8H1033.8V1031.0H1018.0ZM528.1 1046.2H543.9V1061.4H528.1ZM559.7 1046.2H575.5V1061.4H559.7ZM654.6 1046.2H670.4V1061.4H654.6ZM749.4 1046.2H765.2V1061.4H749.4ZM1018.0 1046.2H1033.8V1061.4H1018.0ZM512.3 1076.6H528.1V1091.7H512.3ZM528.1 1137.3H543.9V1152.5H528.1ZM449.1 1152.5H464.9V1167.6H449.1ZM480.7 1152.5H496.5V1167.6H480.7ZM512.3 1152.5H528.1V1167.6H512.3ZM496.5 1167.6H512.3V1182.8H496.5ZM449.1 1182.8H464.9V1198.0H449.1ZM496.5 1198.0H512.3V1213.2H496.5ZM670.4 1213.2H702.0V1228.4H670.4ZM1223.5 1289.1H1239.3V1304.3H1223.5ZM1112.8 1380.2H1128.6V1395.4H1112.8ZM1302.5 1380.2H1318.3V1395.4H1302.5ZM1160.2 1395.4H1191.9V1410.5H1160.2ZM1223.5 1395.4H1239.3V1410.5H1223.5ZM1065.4 1410.5H1081.2V1425.7H1065.4ZM1397.3 1440.9H1413.1V1456.1H1397.3ZM1413.1 1501.6H1428.9V1516.8H1413.1ZM1413.1 1516.8H1428.9V1532.0H1413.1Z"/>
<path fill="#126348" d="M828.4 864.0H844.2V879.2H828.4ZM860.0 894.4H875.8V909.6H860.0ZM844.2 909.6H860.0V924.8H844.2ZM954.8 909.6H1002.2V924.8H954.8ZM875.8 924.8H891.6V939.9H875.8ZM939.0 939.9H954.8V955.1H939.0ZM970.6 955.1H986.4V970.3H970.6ZM622.9 970.3H638.7V985.5H622.9ZM939.0 970.3H954.8V985.5H939.0ZM733.6 985.5H749.4V1000.7H733.6ZM954.8 985.5H970.6V1000.7H954.8ZM923.2 1015.8H939.0V1031.0H923.2ZM986.4 1015.8H1018.0V1031.0H986.4ZM1033.8 1015.8H1049.6V1031.0H1033.8ZM543.9 1031.0H559.7V1046.2H543.9ZM575.5 1031.0H591.3V1046.2H575.5ZM686.2 1031.0H702.0V1046.2H686.2ZM717.8 1031.0H733.6V1046.2H717.8ZM607.1 1046.2H622.9V1061.4H607.1ZM796.8 1046.2H828.4V1061.4H796.8ZM559.7 1076.6H575.5V1091.7H559.7ZM622.9 1076.6H638.7V1091.7H622.9ZM449.1 1091.7H464.9V1106.9H449.1ZM433.3 1167.6H449.1V1182.8H433.3ZM480.7 1167.6H496.5V1182.8H480.7ZM496.5 1182.8H512.3V1198.0H496.5ZM464.9 1213.2H480.7V1228.4H464.9ZM1160.2 1258.7H1176.1V1273.9H1160.2ZM1334.1 1273.9H1349.9V1289.1H1334.1ZM1381.5 1273.9H1413.1V1289.1H1381.5ZM1428.9 1273.9H1460.5V1289.1H1428.9ZM1476.3 1273.9H1492.1V1289.1H1476.3ZM1207.7 1289.1H1223.5V1304.3H1207.7ZM1223.5 1319.5H1239.3V1334.6H1223.5ZM1302.5 1334.6H1318.3V1349.8H1302.5ZM1128.6 1365.0H1144.4V1380.2H1128.6ZM1160.2 1380.2H1176.1V1395.4H1160.2ZM1207.7 1395.4H1223.5V1410.5H1207.7Z"/>
<path fill="#146646" d="M686.2 879.2H702.0V894.4H686.2ZM860.0 879.2H875.8V894.4H860.0ZM686.2 909.6H702.0V924.8H686.2ZM622.9 924.8H638.7V939.9H622.9ZM828.4 924.8H860.0V939.9H828.4ZM970.6 924.8H1002.2V939.9H970.6ZM970.6 939.9H986.4V955.1H970.6ZM591.3 955.1H607.1V970.3H591.3ZM638.7 955.1H654.6V970.3H638.7ZM749.4 955.1H765.2V970.3H749.4ZM812.6 955.1H860.0V970.3H812.6ZM923.2 955.1H939.0V970.3H923.2ZM954.8 955.1H970.6V970.3H954.8ZM733.6 970.3H749.4V985.5H733.6ZM686.2 985.5H702.0V1000.7H686.2ZM828.4 985.5H844.2V1000.7H828.4ZM939.0 985.5H954.8V1000.7H939.0ZM1033.8 985.5H1049.6V1000.7H1033.8ZM607.1 1015.8H622.9V1031.0H607.1ZM686.2 1015.8H702.0V1031.0H686.2ZM749.4 1015.8H765.2V1031.0H749.4ZM828.4 1015.8H844.2V1031.0H828.4ZM591.3 1031.0H607.1V1046.2H591.3ZM638.7 1031.0H654.6V1046.2H638.7ZM765.2 1031.0H796.8V1046.2H765.2ZM828.4 1031.0H844.2V1046.2H828.4ZM496.5 1046.2H512.3V1061.4H496.5ZM828.4 1046.2H844.2V1061.4H828.4ZM954.8 1046.2H970.6V1061.4H954.8ZM449.1 1076.6H464.9V1091.7H449.1ZM480.7 1076.6H496.5V1091.7H480.7ZM717.8 1076.6H733.6V1091.7H717.8ZM433.3 1091.7H449.1V1106.9H433.3ZM464.9 1106.9H480.7V1122.1H464.9ZM512.3 1106.9H528.1V1122.1H512.3ZM654.6 1106.9H670.4V1122.1H654.6ZM464.9 1122.1H496.5V1137.3H464.9ZM496.5 1137.3H512.3V1152.5H496.5ZM433.3 1152.5H449.1V1167.6H433.3ZM464.9 1152.5H480.7V1167.6H464.9ZM449.1 1167.6H464.9V1182.8H449.1ZM464.9 1182.8H480.7V1198.0H464.9ZM480.7 1198.0H496.5V1213.2H480.7ZM686.2 1258.7H702.0V1273.9H686.2ZM1349.9 1273.9H1381.5V1289.1H1349.9ZM1413.1 1273.9H1428.9V1289.1H1413.1ZM1176.1 1365.0H1191.9V1380.2H1176.1ZM1223.5 1365.0H1239.3V1380.2H1223.5ZM1128.6 1380.2H1144.4V1395.4H1128.6ZM1191.9 1380.2H1207.7V1395.4H1191.9ZM1318.3 1425.7H1334.1V1440.9H1318.3Z"/>
<path fill="#156843" d="M575.5 894.4H591.3V909.6H575.5ZM702.0 894.4H733.6V909.6H702.0ZM812.6 894.4H828.4V909.6H812.6ZM575.5 909.6H607.1V924.8H575.5ZM638.7 909.6H654.6V924.8H638.7ZM765.2 909.6H844.2V924.8H765.2ZM543.9 924.8H622.9V939.9H543.9ZM638.7 924.8H686.2V939.9H638.7ZM733.6 924.8H749.4V939.9H733.6ZM812.6 924.8H828.4V939.9H812.6ZM512.3 939.9H528.1V955.1H512.3ZM543.9 939.9H559.7V955.1H543.9ZM575.5 939.9H591.3V955.1H575.5ZM607.1 939.9H638.7V955.1H607.1ZM702.0 939.9H733.6V955.1H702.0ZM828.4 939.9H844.2V955.1H828.4ZM891.6 939.9H907.4V955.1H891.6ZM923.2 939.9H939.0V955.1H923.2ZM954.8 939.9H970.6V955.1H954.8ZM528.1 955.1H543.9V970.3H528.1ZM559.7 955.1H591.3V970.3H559.7ZM654.6 955.1H670.4V970.3H654.6ZM702.0 955.1H717.8V970.3H702.0ZM765.2 955.1H781.0V970.3H765.2ZM796.8 955.1H812.6V970.3H796.8ZM860.0 955.1H875.8V970.3H860.0ZM939.0 955.1H954.8V970.3H939.0ZM670.4 970.3H686.2V985.5H670.4ZM702.0 970.3H733.6V985.5H702.0ZM749.4 970.3H765.2V985.5H749.4ZM812.6 970.3H828.4V985.5H812.6ZM575.5 985.5H638.7V1000.7H575.5ZM654.6 985.5H670.4V1000.7H654.6ZM717.8 985.5H733.6V1000.7H717.8ZM749.4 985.5H796.8V1000.7H749.4ZM812.6 985.5H828.4V1000.7H812.6ZM622.9 1000.7H654.6V1015.8H622.9ZM670.4 1000.7H686.2V1015.8H670.4ZM702.0 1000.7H749.4V1015.8H702.0ZM765.2 1000.7H844.2V1015.8H765.2ZM622.9 1015.8H638.7V1031.0H622.9ZM654.6 1015.8H686.2V1031.0H654.6ZM717.8 1015.8H733.6V1031.0H717.8ZM781.0 1015.8H796.8V1031.0H781.0ZM812.6 1015.8H828.4V1031.0H812.6ZM939.0 1015.8H954.8V1031.0H939.0ZM622.9 1031.0H638.7V1046.2H622.9ZM670.4 1031.0H686.2V1046.2H670.4ZM702.0 1031.0H717.8V1046.2H702.0ZM796.8 1031.0H828.4V1046.2H796.8ZM449.1 1046.2H464.9V1061.4H449.1ZM480.7 1046.2H496.5V1061.4H480.7ZM543.9 1046.2H559.7V1061.4H543.9ZM733.6 1046.2H749.4V1061.4H733.6ZM417.5 1061.4H433.3V1076.6H417.5ZM385.9 1076.6H449.1V1091.7H385.9ZM401.7 1091.7H433.3V1106.9H401.7ZM464.9 1091.7H496.5V1106.9H464.9ZM401.7 1106.9H417.5V1122.1H401.7ZM496.5 1106.9H512.3V1122.1H496.5ZM528.1 1122.1H543.9V1137.3H528.1ZM480.7 1137.3H496.5V1152.5H480.7ZM464.9 1228.4H480.7V1243.6H464.9ZM765.2 1243.6H781.0V1258.7H765.2ZM1112.8 1289.1H1128.6V1304.3H1112.8ZM1223.5 1304.3H1239.3V1319.5H1223.5ZM1239.3 1349.8H1255.1V1365.0H1239.3ZM1191.9 1365.0H1207.7V1380.2H1191.9ZM1191.9 1395.4H1207.7V1410.5H1191.9Z"/>
<path fill="#166b41" d="M654.6 879.2H670.4V894.4H654.6ZM559.7 894.4H575.5V909.6H559.7ZM607.1 894.4H622.9V909.6H607.1ZM638.7 894.4H654.6V909.6H638.7ZM686.2 894.4H702.0V909.6H686.2ZM559.7 909.6H575.5V924.8H559.7ZM607.1 909.6H638.7V924.8H607.1ZM702.0 909.6H717.8V924.8H702.0ZM733.6 909.6H765.2V924.8H733.6ZM528.1 924.8H543.9V939.9H528.1ZM686.2 924.8H733.6V939.9H686.2ZM749.4 924.8H812.6V939.9H749.4ZM496.5 939.9H512.3V955.1H496.5ZM528.1 939.9H543.9V955.1H528.1ZM591.3 939.9H607.1V955.1H591.3ZM638.7 939.9H702.0V955.1H638.7ZM733.6 939.9H828.4V955.1H733.6ZM496.5 955.1H512.3V970.3H496.5ZM607.1 955.1H638.7V970.3H607.1ZM670.4 955.1H702.0V970.3H670.4ZM717.8 955.1H749.4V970.3H717.8ZM781.0 955.1H796.8V970.3H781.0ZM591.3 970.3H607.1V985.5H591.3ZM686.2 970.3H702.0V985.5H686.2ZM765.2 970.3H812.6V985.5H765.2ZM559.7 985.5H575.5V1000.7H559.7ZM670.4 985.5H686.2V1000.7H670.4ZM702.0 985.5H717.8V1000.7H702.0ZM607.1 1000.7H622.9V1015.8H607.1ZM654.6 1000.7H670.4V1015.8H654.6ZM686.2 1000.7H702.0V1015.8H686.2ZM528.1 1015.8H543.9V1031.0H528.1ZM559.7 1015.8H607.1V1031.0H559.7ZM638.7 1015.8H654.6V1031.0H638.7ZM702.0 1015.8H717.8V1031.0H702.0ZM733.6 1015.8H749.4V1031.0H733.6ZM765.2 1015.8H781.0V1031.0H765.2ZM796.8 1015.8H812.6V1031.0H796.8ZM559.7 1031.0H575.5V1046.2H559.7ZM733.6 1031.0H765.2V1046.2H733.6ZM417.5 1046.2H449.1V1061.4H417.5ZM464.9 1046.2H480.7V1061.4H464.9ZM401.7 1061.4H417.5V1076.6H401.7ZM449.1 1061.4H480.7V1076.6H449.1ZM496.5 1061.4H512.3V1076.6H496.5ZM496.5 1091.7H512.3V1106.9H496.5ZM417.5 1106.9H449.1V1122.1H417.5ZM528.1 1106.9H543.9V1122.1H528.1ZM417.5 1122.1H449.1V1137.3H417.5ZM496.5 1122.1H528.1V1137.3H496.5ZM433.3 1137.3H449.1V1152.5H433.3ZM464.9 1137.3H480.7V1152.5H464.9ZM417.5 1152.5H433.3V1167.6H417.5ZM1176.1 1273.9H1191.9V1289.1H1176.1ZM1207.7 1349.8H1223.5V1365.0H1207.7Z"/>
<path fill="#176e3e" d="M591.3 894.4H607.1V909.6H591.3ZM622.9 894.4H638.7V909.6H622.9ZM654.6 909.6H686.2V924.8H654.6ZM717.8 909.6H733.6V924.8H717.8ZM559.7 939.9H575.5V955.1H559.7ZM543.9 955.1H559.7V970.3H543.9ZM891.6 955.1H907.4V970.3H891.6ZM638.7 970.3H670.4V985.5H638.7ZM828.4 970.3H844.2V985.5H828.4ZM638.7 985.5H654.6V1000.7H638.7ZM796.8 985.5H812.6V1000.7H796.8ZM749.4 1000.7H765.2V1015.8H749.4ZM433.3 1031.0H449.1V1046.2H433.3ZM607.1 1031.0H622.9V1046.2H607.1ZM654.6 1031.0H670.4V1046.2H654.6ZM717.8 1046.2H733.6V1061.4H717.8ZM781.0 1046.2H796.8V1061.4H781.0ZM385.9 1061.4H401.7V1076.6H385.9ZM480.7 1061.4H496.5V1076.6H480.7ZM464.9 1076.6H480.7V1091.7H464.9ZM496.5 1076.6H512.3V1091.7H496.5ZM385.9 1091.7H401.7V1106.9H385.9ZM528.1 1091.7H543.9V1106.9H528.1ZM385.9 1106.9H401.7V1122.1H385.9ZM449.1 1106.9H464.9V1122.1H449.1ZM480.7 1106.9H496.5V1122.1H480.7ZM607.1 1106.9H622.9V1122.1H607.1ZM449.1 1137.3H464.9V1152.5H449.1ZM1112.8 1319.5H1128.6V1334.6H1112.8ZM1112.8 1349.8H1128.6V1365.0H1112.8ZM1191.9 1349.8H1207.7V1365.0H1191.9ZM1144.4 1365.0H1160.2V1380.2H1144.4ZM1097.0 1380.2H1112.8V1395.4H1097.0ZM1318.3 1410.5H1334.1V1425.7H1318.3ZM1413.1 1440.9H1428.9V1456.1H1413.1Z"/>
<path fill="#18703c" d="M575.5 1076.6H591.3V1091.7H575.5ZM1112.8 1304.3H1128.6V1319.5H1112.8ZM1223.5 1334.6H1239.3V1349.8H1223.5ZM1097.0 1365.0H1112.8V1380.2H1097.0ZM1160.2 1365.0H1176.1V1380.2H1160.2ZM1223.5 1380.2H1239.3V1395.4H1223.5ZM1318.3 1380.2H1334.1V1395.4H1318.3ZM1318.3 1395.4H1334.1V1410.5H1318.3Z"/>
<path fill="#197339" d="M654.6 1076.6H670.4V1091.7H654.6ZM622.9 1106.9H638.7V1122.1H622.9ZM1144.4 1273.9H1160.2V1289.1H1144.4ZM1318.3 1349.8H1334.1V1365.0H1318.3ZM1144.4 1380.2H1160.2V1395.4H1144.4ZM1176.1 1380.2H1191.9V1395.4H1176.1Z"/>
<path fill="#1a7637" d="M1160.2 1273.9H1176.1V1289.1H1160.2ZM1128.6 1289.1H1144.4V1304.3H1128.6ZM1176.1 1289.1H1191.9V1304.3H1176.1ZM1112.8 1334.6H1128.6V1349.8H1112.8ZM1176.1 1334.6H1191.9V1349.8H1176.1ZM1144.4 1349.8H1160.2V1365.0H1144.4ZM1112.8 1365.0H1128.6V1380.2H1112.8ZM1334.1 1425.7H1349.9V1440.9H1334.1ZM1428.9 1440.9H1444.7V1456.1H1428.9ZM1428.9 1456.1H1444.7V1471.3H1428.9ZM1650.1 1547.2H1665.9V1562.4H1650.1Z"/>
<path fill="#1b7834" d="M1128.6 1319.5H1160.2V1334.6H1128.6ZM1318.3 1334.6H1334.1V1349.8H1318.3ZM1128.6 1349.8H1144.4V1365.0H1128.6ZM1176.1 1349.8H1191.9V1365.0H1176.1ZM1207.7 1380.2H1223.5V1395.4H1207.7ZM1349.9 1425.7H1397.3V1440.9H1349.9Z"/>
<path fill="#1c7b31" d="M591.3 1061.4H607.1V1076.6H591.3ZM638.7 1122.1H654.6V1137.3H638.7ZM1144.4 1289.1H1160.2V1304.3H1144.4ZM1191.9 1289.1H1207.7V1304.3H1191.9ZM1571.1 1289.1H1586.9V1304.3H1571.1ZM1318.3 1319.5H1334.1V1334.6H1318.3ZM1318.3 1365.0H1334.1V1380.2H1318.3ZM1334.1 1395.4H1365.7V1410.5H1334.1ZM1413.1 1410.5H1428.9V1425.7H1413.1ZM1444.7 1410.5H1460.5V1425.7H1444.7ZM1476.3 1410.5H1492.1V1425.7H1476.3ZM1555.3 1410.5H1571.1V1425.7H1555.3ZM1697.5 1410.5H1713.4V1425.7H1697.5ZM1397.3 1425.7H1413.1V1440.9H1397.3ZM1428.9 1425.7H1460.5V1440.9H1428.9ZM1507.9 1425.7H1571.1V1440.9H1507.9ZM1650.1 1425.7H1665.9V1440.9H1650.1ZM1697.5 1425.7H1713.4V1440.9H1697.5ZM1571.1 1440.9H1586.9V1456.1H1571.1ZM1665.9 1440.9H1681.7V1456.1H1665.9ZM1492.1 1456.1H1507.9V1471.3H1492.1ZM1523.7 1456.1H1539.5V1471.3H1523.7ZM1555.3 1456.1H1571.1V1471.3H1555.3ZM1602.7 1456.1H1618.5V1471.3H1602.7ZM1444.7 1471.3H1507.9V1486.4H1444.7ZM1602.7 1471.3H1618.5V1486.4H1602.7ZM1634.3 1471.3H1650.1V1486.4H1634.3ZM1507.9 1486.4H1555.3V1501.6H1507.9ZM1586.9 1486.4H1602.7V1501.6H1586.9ZM1618.5 1486.4H1650.1V1501.6H1618.5ZM1665.9 1486.4H1681.7V1501.6H1665.9ZM1492.1 1501.6H1507.9V1516.8H1492.1ZM1539.5 1501.6H1555.3V1516.8H1539.5ZM1571.1 1501.6H1586.9V1516.8H1571.1ZM1618.5 1501.6H1665.9V1516.8H1618.5ZM1428.9 1516.8H1444.7V1532.0H1428.9ZM1476.3 1516.8H1492.1V1532.0H1476.3ZM1634.3 1516.8H1650.1V1532.0H1634.3ZM1444.7 1532.0H1460.5V1547.2H1444.7Z"/>
<path fill="#1d7e2f" d="M1365.7 1289.1H1381.5V1304.3H1365.7ZM1428.9 1289.1H1444.7V1304.3H1428.9ZM1460.5 1289.1H1476.3V1304.3H1460.5ZM1523.7 1289.1H1539.5V1304.3H1523.7ZM1555.3 1289.1H1571.1V1304.3H1555.3ZM1665.9 1289.1H1681.7V1304.3H1665.9ZM1191.9 1304.3H1223.5V1319.5H1191.9ZM1160.2 1319.5H1176.1V1334.6H1160.2ZM1128.6 1334.6H1144.4V1349.8H1128.6ZM1160.2 1334.6H1176.1V1349.8H1160.2ZM1191.9 1334.6H1223.5V1349.8H1191.9ZM1365.7 1395.4H1539.5V1410.5H1365.7ZM1555.3 1395.4H1571.1V1410.5H1555.3ZM1586.9 1395.4H1618.5V1410.5H1586.9ZM1634.3 1395.4H1650.1V1410.5H1634.3ZM1334.1 1410.5H1413.1V1425.7H1334.1ZM1428.9 1410.5H1444.7V1425.7H1428.9ZM1460.5 1410.5H1476.3V1425.7H1460.5ZM1492.1 1410.5H1555.3V1425.7H1492.1ZM1571.1 1410.5H1586.9V1425.7H1571.1ZM1602.7 1410.5H1634.3V1425.7H1602.7ZM1650.1 1410.5H1697.5V1425.7H1650.1ZM1413.1 1425.7H1428.9V1440.9H1413.1ZM1460.5 1425.7H1507.9V1440.9H1460.5ZM1571.1 1425.7H1650.1V1440.9H1571.1ZM1665.9 1425.7H1697.5V1440.9H1665.9ZM1444.7 1440.9H1571.1V1456.1H1444.7ZM1618.5 1440.9H1665.9V1456.1H1618.5ZM1444.7 1456.1H1492.1V1471.3H1444.7ZM1507.9 1456.1H1523.7V1471.3H1507.9ZM1539.5 1456.1H1555.3V1471.3H1539.5ZM1571.1 1456.1H1602.7V1471.3H1571.1ZM1428.9 1471.3H1444.7V1486.4H1428.9ZM1507.9 1471.3H1602.7V1486.4H1507.9ZM1618.5 1471.3H1634.3V1486.4H1618.5ZM1428.9 1486.4H1444.7V1501.6H1428.9ZM1476.3 1486.4H1507.9V1501.6H1476.3ZM1555.3 1486.4H1586.9V1501.6H1555.3ZM1602.7 1486.4H1618.5V1501.6H1602.7ZM1650.1 1486.4H1665.9V1501.6H1650.1ZM1460.5 1501.6H1492.1V1516.8H1460.5ZM1555.3 1501.6H1571.1V1516.8H1555.3ZM1586.9 1501.6H1618.5V1516.8H1586.9ZM1681.7 1501.6H1697.5V1516.8H1681.7ZM1460.5 1516.8H1476.3V1532.0H1460.5ZM1618.5 1516.8H1634.3V1532.0H1618.5ZM1650.1 1516.8H1665.9V1532.0H1650.1ZM1681.7 1516.8H1697.5V1532.0H1681.7ZM1618.5 1532.0H1665.9V1547.2H1618.5ZM1681.7 1532.0H1697.5V1547.2H1681.7Z"/>
<path fill="#1e802c" d="M1160.2 1289.1H1176.1V1304.3H1160.2ZM1381.5 1289.1H1397.3V1304.3H1381.5ZM1507.9 1289.1H1523.7V1304.3H1507.9ZM1176.1 1304.3H1191.9V1319.5H1176.1ZM1191.9 1319.5H1207.7V1334.6H1191.9ZM1144.4 1334.6H1160.2V1349.8H1144.4ZM1207.7 1365.0H1223.5V1380.2H1207.7ZM1349.9 1380.2H1397.3V1395.4H1349.9ZM1444.7 1380.2H1460.5V1395.4H1444.7ZM1476.3 1380.2H1492.1V1395.4H1476.3ZM1571.1 1380.2H1586.9V1395.4H1571.1Z"/>
<path fill="#1f832a" d="M1128.6 1304.3H1144.4V1319.5H1128.6ZM1160.2 1349.8H1176.1V1365.0H1160.2ZM1428.9 1349.8H1444.7V1365.0H1428.9ZM1334.1 1380.2H1349.9V1395.4H1334.1ZM1413.1 1380.2H1444.7V1395.4H1413.1ZM1460.5 1380.2H1476.3V1395.4H1460.5ZM1492.1 1380.2H1507.9V1395.4H1492.1ZM1523.7 1380.2H1571.1V1395.4H1523.7ZM1602.7 1380.2H1681.7V1395.4H1602.7ZM1713.4 1380.2H1729.2V1395.4H1713.4Z"/>
<path fill="#208627" d="M1334.1 1304.3H1349.9V1319.5H1334.1ZM1460.5 1304.3H1492.1V1319.5H1460.5ZM1555.3 1304.3H1571.1V1319.5H1555.3ZM1207.7 1319.5H1223.5V1334.6H1207.7ZM1460.5 1319.5H1476.3V1334.6H1460.5ZM1492.1 1319.5H1507.9V1334.6H1492.1ZM1523.7 1319.5H1539.5V1334.6H1523.7ZM1586.9 1319.5H1602.7V1334.6H1586.9ZM1334.1 1334.6H1349.9V1349.8H1334.1ZM1381.5 1334.6H1397.3V1349.8H1381.5ZM1460.5 1334.6H1476.3V1349.8H1460.5ZM1602.7 1334.6H1618.5V1349.8H1602.7ZM1634.3 1334.6H1650.1V1349.8H1634.3ZM1776.6 1334.6H1792.4V1349.8H1776.6ZM1413.1 1349.8H1428.9V1365.0H1413.1ZM1460.5 1349.8H1476.3V1365.0H1460.5ZM1507.9 1349.8H1523.7V1365.0H1507.9ZM1571.1 1349.8H1586.9V1365.0H1571.1ZM1634.3 1349.8H1650.1V1365.0H1634.3ZM1397.3 1365.0H1428.9V1380.2H1397.3ZM1444.7 1365.0H1460.5V1380.2H1444.7ZM1476.3 1365.0H1555.3V1380.2H1476.3ZM1571.1 1365.0H1586.9V1380.2H1571.1ZM1634.3 1365.0H1650.1V1380.2H1634.3ZM1681.7 1365.0H1697.5V1380.2H1681.7ZM1397.3 1380.2H1413.1V1395.4H1397.3ZM1507.9 1380.2H1523.7V1395.4H1507.9Z"/>
<path fill="#218825" d="M1160.2 1304.3H1176.1V1319.5H1160.2ZM1492.1 1304.3H1555.3V1319.5H1492.1ZM1571.1 1304.3H1586.9V1319.5H1571.1ZM1618.5 1304.3H1634.3V1319.5H1618.5ZM1650.1 1304.3H1665.9V1319.5H1650.1ZM1697.5 1304.3H1713.4V1319.5H1697.5ZM1729.2 1304.3H1745.0V1319.5H1729.2ZM1176.1 1319.5H1191.9V1334.6H1176.1ZM1334.1 1319.5H1460.5V1334.6H1334.1ZM1476.3 1319.5H1492.1V1334.6H1476.3ZM1507.9 1319.5H1523.7V1334.6H1507.9ZM1539.5 1319.5H1555.3V1334.6H1539.5ZM1571.1 1319.5H1586.9V1334.6H1571.1ZM1602.7 1319.5H1697.5V1334.6H1602.7ZM1713.4 1319.5H1776.6V1334.6H1713.4ZM1349.9 1334.6H1365.7V1349.8H1349.9ZM1413.1 1334.6H1428.9V1349.8H1413.1ZM1444.7 1334.6H1460.5V1349.8H1444.7ZM1476.3 1334.6H1507.9V1349.8H1476.3ZM1539.5 1334.6H1602.7V1349.8H1539.5ZM1618.5 1334.6H1634.3V1349.8H1618.5ZM1650.1 1334.6H1681.7V1349.8H1650.1ZM1697.5 1334.6H1745.0V1349.8H1697.5ZM1334.1 1349.8H1413.1V1365.0H1334.1ZM1444.7 1349.8H1460.5V1365.0H1444.7ZM1476.3 1349.8H1507.9V1365.0H1476.3ZM1539.5 1349.8H1571.1V1365.0H1539.5ZM1586.9 1349.8H1634.3V1365.0H1586.9ZM1650.1 1349.8H1713.4V1365.0H1650.1ZM1334.1 1365.0H1397.3V1380.2H1334.1ZM1428.9 1365.0H1444.7V1380.2H1428.9ZM1460.5 1365.0H1476.3V1380.2H1460.5ZM1555.3 1365.0H1571.1V1380.2H1555.3ZM1586.9 1365.0H1634.3V1380.2H1586.9ZM1650.1 1365.0H1681.7V1380.2H1650.1ZM1697.5 1365.0H1713.4V1380.2H1697.5Z"/>
<path fill="#228b22" d="M1144.4 1304.3H1160.2V1319.5H1144.4ZM1713.4 1304.3H1729.2V1319.5H1713.4ZM1555.3 1319.5H1571.1V1334.6H1555.3ZM1697.5 1319.5H1713.4V1334.6H1697.5ZM1365.7 1334.6H1381.5V1349.8H1365.7ZM1397.3 1334.6H1413.1V1349.8H1397.3ZM1428.9 1334.6H1444.7V1349.8H1428.9ZM1507.9 1334.6H1539.5V1349.8H1507.9ZM1681.7 1334.6H1697.5V1349.8H1681.7ZM1523.7 1349.8H1539.5V1365.0H1523.7Z"/>
</g>
<g fill="none" stroke-linejoin="round" clip-path="url(#mc)">
<path stroke="#202020" stroke-width="5.0" d="M964.8 735.0L972.9 750.2L977.0 765.4L969.9 780.5L978.5 789.4L984.6 795.7L978.5 801.7L968.7 810.9L962.7 815.4L958.6 810.9L962.7 797.4L964.4 795.7L962.7 794.3L959.4 795.7L946.9 797.8L941.4 795.7L931.1 791.9L915.3 783.0L912.0 780.5L899.5 769.5L885.5 780.5L883.7 781.4L882.4 780.5L878.2 765.4L876.9 750.2L883.7 744.7L899.5 735.9L904.3 735.0M1006.7 826.1L1010.1 822.3L1022.4 826.1L1010.1 834.4ZM1097.1 826.1L1104.9 821.8L1109.5 826.1L1104.9 830.7ZM986.4 841.3L994.3 837.8L1003.2 841.3L1010.1 847.4L1017.2 856.4L1025.9 860.6L1041.4 871.6L1025.9 884.4L1010.1 886.4L1010.0 886.8L994.3 899.9L980.6 886.8L978.5 884.2L962.7 884.8L952.2 886.8L946.9 888.6L944.5 886.8L946.9 883.8L950.6 871.6L962.7 857.5L978.5 863.5L989.6 856.4ZM1059.4 841.3L1073.3 835.0L1082.0 841.3L1073.3 855.3L1072.8 856.4L1073.3 857.4L1089.1 864.3L1096.4 856.4L1104.9 848.4L1120.7 847.4L1133.8 841.3L1136.5 839.3L1152.3 833.4L1159.6 841.3L1168.1 849.1L1175.7 841.3L1184.0 832.5L1198.0 841.3L1184.0 850.7L1177.3 856.4L1184.0 866.6L1187.2 871.6L1199.8 878.3L1212.8 871.6L1211.1 856.4L1215.6 847.9L1219.8 841.3L1231.4 833.7L1240.8 841.3L1245.4 856.4L1236.7 871.6L1231.4 882.4L1228.1 886.8L1231.4 894.6L1247.2 899.1L1257.9 886.8L1263.0 882.0L1266.6 886.8L1275.2 902.0L1278.8 913.4L1285.7 902.0L1294.6 893.5L1304.0 886.8L1300.4 871.6L1310.4 863.1L1322.0 871.6L1326.2 876.9L1334.1 871.6L1326.2 860.0L1324.2 856.4L1326.2 854.2L1342.0 851.3L1357.8 849.3L1373.6 847.1L1385.9 856.4L1389.4 860.1L1405.2 859.4L1409.9 856.4L1421.0 846.3L1431.9 856.4L1436.8 860.1L1450.3 871.6L1436.8 884.8L1434.2 886.8L1422.7 902.0L1436.8 911.9L1438.5 917.2L1436.8 921.5L1421.0 928.4L1405.2 920.8L1403.2 917.2L1394.3 902.0L1389.4 901.3L1388.5 902.0L1383.6 917.2L1373.6 927.3L1361.9 917.2L1357.8 907.9L1347.4 917.2L1342.0 923.1L1333.1 917.2L1342.0 903.3L1343.1 902.0L1342.0 900.9L1326.2 901.4L1323.7 902.0L1316.0 917.2L1310.4 919.2L1294.6 926.7L1278.8 922.8L1275.0 917.2L1263.0 913.6L1247.2 912.5L1242.5 917.2L1231.4 922.8L1215.6 925.1L1209.1 932.3L1215.6 941.4L1225.6 947.5L1231.4 952.6L1247.2 950.1L1257.5 962.7L1263.0 965.3L1271.4 962.7L1272.5 947.5L1278.8 937.2L1285.0 947.5L1294.6 953.6L1310.4 952.4L1326.2 956.6L1342.0 955.1L1357.8 954.4L1368.3 962.7L1357.8 973.3L1342.0 965.6L1338.7 977.9L1326.2 990.0L1320.3 993.1L1326.2 1002.5L1342.0 996.8L1347.1 993.1L1357.8 985.2L1364.3 993.1L1357.8 999.5L1350.1 1008.2L1342.0 1022.4L1326.2 1013.7L1318.0 1023.4L1326.2 1033.1L1342.0 1024.9L1350.2 1038.6L1342.0 1049.0L1332.6 1053.8L1338.8 1069.0L1326.2 1079.4L1317.0 1084.2L1310.4 1090.2L1307.0 1084.2L1310.4 1075.7L1313.7 1069.0L1314.6 1053.8L1311.0 1038.6L1310.4 1038.2L1310.2 1038.6L1294.6 1046.1L1286.1 1038.6L1278.8 1026.1L1269.9 1038.6L1278.8 1052.1L1280.3 1053.8L1278.8 1056.2L1270.2 1069.0L1263.0 1075.9L1247.2 1082.1L1237.8 1084.2L1231.4 1096.3L1230.8 1099.3L1231.4 1103.7L1233.9 1114.5L1231.4 1115.8L1219.0 1129.7L1215.6 1133.6L1209.1 1129.7L1208.6 1114.5L1203.8 1099.3L1199.8 1093.3L1193.0 1099.3L1184.0 1104.6L1174.8 1099.3L1168.1 1095.0L1161.6 1099.3L1168.1 1107.6L1172.0 1114.5L1168.1 1120.9L1152.3 1118.3L1141.5 1114.5L1144.9 1099.3L1136.5 1084.2L1120.7 1099.2L1120.7 1099.3L1109.0 1114.5L1104.9 1116.1L1089.1 1116.3L1073.3 1122.1L1063.9 1129.7L1069.7 1144.9L1073.3 1160.0L1089.1 1153.9L1104.9 1146.8L1106.3 1144.9L1120.2 1129.7L1120.7 1128.3L1136.5 1117.3L1143.0 1129.7L1136.5 1136.1L1131.5 1144.9L1120.7 1157.3L1116.6 1160.1L1120.7 1162.7L1136.5 1160.3L1136.8 1160.1L1148.5 1144.9L1152.3 1141.3L1155.1 1144.9L1163.6 1160.1L1168.1 1168.7L1184.0 1170.3L1199.8 1163.8L1215.6 1171.0L1231.4 1172.4L1232.9 1175.2L1243.4 1190.4L1231.4 1198.4L1226.1 1205.6L1223.4 1220.8L1231.4 1221.6L1247.2 1228.6L1263.0 1230.5L1267.3 1236.0L1278.8 1239.6L1294.4 1251.1L1294.6 1251.5L1296.0 1251.1L1310.4 1247.7L1326.2 1245.2L1339.5 1251.1L1342.0 1253.4L1346.8 1251.1L1357.8 1248.6L1368.4 1251.1L1368.5 1266.3L1373.6 1275.4L1378.3 1281.5L1373.6 1287.0L1365.2 1281.5L1357.8 1278.2L1342.0 1278.3L1327.9 1266.3L1326.2 1264.5L1310.4 1264.8L1310.0 1266.3L1310.4 1266.6L1319.7 1281.5L1311.8 1296.7L1310.4 1302.0L1296.3 1311.9L1310.4 1317.3L1326.2 1312.6L1334.6 1327.0L1342.0 1334.9L1357.8 1333.7L1373.6 1328.5L1389.4 1328.1L1399.3 1327.0L1405.2 1325.8L1410.0 1327.0L1421.0 1336.7L1436.8 1337.7L1452.6 1329.3L1457.3 1327.0L1468.4 1317.0L1479.7 1311.9L1484.2 1310.7L1489.2 1311.9L1497.1 1327.0L1500.0 1329.2L1502.4 1327.0L1503.4 1311.9L1515.8 1298.5L1526.8 1311.9L1531.6 1316.7L1535.9 1311.9L1547.4 1305.1L1557.4 1311.9L1563.2 1321.3L1573.2 1327.0L1579.0 1331.2L1586.1 1327.0L1594.8 1324.4L1599.5 1327.0L1598.2 1342.2L1610.6 1347.6L1621.2 1342.2L1626.4 1337.5L1635.1 1342.2L1642.2 1345.6L1650.4 1357.4L1642.2 1367.5L1629.4 1357.4L1626.4 1351.3L1624.0 1357.4L1622.7 1372.6L1626.4 1383.3L1628.0 1387.8L1626.4 1390.5L1610.6 1389.5L1594.8 1392.1L1588.2 1403.0L1591.2 1418.1L1579.0 1433.0L1578.8 1433.3L1572.0 1448.5L1571.7 1463.7L1563.2 1472.2L1553.7 1463.7L1547.4 1456.0L1544.4 1463.7L1531.6 1474.0L1515.8 1478.6L1514.2 1478.9L1508.0 1494.0L1500.0 1499.5L1484.2 1496.7L1480.4 1494.0L1473.2 1478.9L1468.4 1477.2L1452.6 1472.0L1439.0 1478.9L1436.8 1481.3L1435.5 1478.9L1421.0 1463.9L1420.1 1463.7L1405.2 1458.5L1389.4 1462.7L1385.9 1463.7L1373.6 1468.7L1369.0 1463.7L1357.8 1458.1L1351.6 1463.7L1342.0 1470.1L1328.4 1478.9L1326.2 1487.4L1323.3 1478.9L1310.4 1467.8L1298.1 1478.9L1294.6 1483.2L1282.5 1494.0L1278.8 1497.5L1275.8 1494.0L1263.0 1490.2L1247.2 1492.9L1231.4 1489.3L1223.3 1494.0L1225.9 1509.2L1215.6 1516.1L1203.1 1509.2L1206.3 1494.0L1200.5 1478.9L1199.8 1477.9L1199.2 1478.9L1184.0 1492.8L1168.1 1482.8L1152.4 1494.0L1147.5 1509.2L1152.3 1518.9L1161.7 1524.4L1159.7 1539.6L1168.1 1545.2L1177.8 1554.8L1168.1 1564.0L1152.3 1555.1L1149.7 1569.9L1136.5 1580.8L1120.7 1580.8L1107.1 1585.1L1104.9 1586.6L1103.6 1585.1L1104.9 1579.3L1106.4 1569.9L1104.9 1568.5L1101.5 1569.9L1089.1 1575.3L1073.3 1579.7L1066.3 1569.9L1064.7 1554.8L1061.6 1539.6L1057.5 1537.7L1055.7 1539.6L1041.7 1548.6L1029.9 1554.8L1032.4 1569.9L1036.1 1585.1L1037.5 1600.3L1027.8 1615.5L1036.1 1630.7L1025.9 1642.5L1018.6 1630.7L1016.5 1615.5L1018.8 1600.3L1023.2 1585.1L1017.0 1569.9L1012.1 1554.8L1012.2 1539.6L1025.9 1535.0L1041.7 1524.5L1041.9 1524.4L1044.5 1509.2L1041.9 1494.0L1041.7 1493.9L1041.6 1494.0L1025.9 1501.3L1021.6 1509.2L1010.1 1520.3L1003.2 1524.4L994.3 1538.0L987.0 1524.4L978.5 1510.0L965.7 1524.4L962.7 1527.2L946.9 1527.6L939.9 1524.4L931.1 1523.0L915.3 1515.0L906.7 1509.2L899.5 1505.4L883.7 1503.2L879.6 1509.2L873.2 1524.4L867.9 1528.7L862.7 1524.4L856.2 1509.2L853.3 1494.0L852.1 1488.8L847.8 1494.0L846.7 1509.2L836.3 1520.9L834.0 1524.4L820.5 1535.0L804.7 1534.0L792.0 1539.6L788.9 1543.4L773.1 1542.5L757.3 1544.3L754.6 1539.6L745.0 1524.4L741.5 1523.0L725.7 1521.9L709.9 1522.5L694.1 1520.3L681.8 1509.2L678.3 1507.6L662.8 1494.0L664.1 1478.9L662.5 1474.3L646.6 1475.7L636.3 1478.9L632.6 1494.0L630.8 1496.8L615.0 1495.0L613.4 1494.0L615.0 1493.1L627.4 1478.9L630.8 1469.5L632.1 1463.7L630.8 1459.8L615.0 1462.2L599.2 1462.0L593.3 1448.5L599.2 1435.3L605.4 1433.3L615.0 1432.1L620.5 1433.3L630.8 1437.8L634.4 1433.3L644.0 1418.1L646.6 1414.7L653.4 1418.1L662.5 1418.9L677.9 1418.1L662.5 1403.1L662.4 1403.0L662.5 1402.8L678.3 1394.3L682.3 1387.8L678.3 1383.8L665.2 1372.6L668.6 1357.4L665.2 1342.2L678.3 1338.6L694.1 1331.9L698.4 1327.0L709.9 1313.8L713.8 1311.9L723.8 1296.7L709.9 1287.5L704.5 1281.5L709.9 1271.5L714.9 1266.3L709.9 1264.2L694.1 1264.3L680.3 1251.1L678.3 1247.6L665.8 1236.0L662.5 1233.4L659.6 1236.0L646.6 1249.7L635.9 1236.0L630.8 1229.3L615.0 1225.6L606.9 1220.8L615.0 1206.4L617.3 1205.6L615.0 1204.3L599.2 1200.4L583.4 1192.9L567.6 1194.1L564.3 1190.4L567.6 1185.8L581.1 1175.2L583.4 1173.1L585.3 1175.2L599.2 1188.5L615.0 1186.8L625.7 1175.2L630.8 1167.6L641.5 1175.2L637.3 1190.4L646.6 1196.1L652.7 1190.4L656.6 1175.2L662.5 1170.2L678.3 1171.5L687.8 1175.2L687.5 1190.4L694.1 1198.2L700.6 1190.4L697.7 1175.2L694.1 1169.0L690.3 1160.1L694.1 1155.2L709.9 1153.2L719.9 1160.1L725.4 1175.2L722.4 1190.4L725.7 1191.1L728.8 1190.4L726.7 1175.2L728.2 1160.1L741.5 1149.3L757.3 1152.8L770.6 1144.9L773.1 1140.3L775.5 1144.9L788.9 1153.0L804.7 1149.1L820.5 1159.5L835.0 1144.9L820.5 1140.5L814.3 1129.7L810.3 1114.5L804.7 1102.5L788.9 1106.3L773.1 1113.9L772.7 1114.5L757.3 1125.7L747.6 1114.5L750.3 1099.3L745.9 1084.2L741.5 1079.8L732.8 1084.2L725.7 1096.2L709.9 1096.4L701.6 1099.3L698.0 1114.5L694.1 1117.5L691.0 1114.5L683.6 1099.3L686.3 1084.2L678.3 1079.6L665.0 1069.0L662.5 1067.3L656.8 1069.0L646.6 1073.3L639.8 1069.0L630.8 1064.3L615.0 1059.7L608.0 1053.8L609.9 1038.6L600.2 1023.4L602.4 1008.2L615.0 999.9L620.9 993.1L630.8 981.8L637.3 977.9L646.6 972.3L662.5 964.0L678.3 973.5L694.1 966.9L705.8 962.7L709.9 959.8L722.4 947.5L723.1 932.3L725.7 929.9L741.5 929.2L743.2 932.3L752.1 947.5L757.3 954.4L773.1 954.0L787.0 947.5L788.9 944.1L792.8 947.5L804.7 950.9L811.4 947.5L820.5 940.7L835.3 947.5L836.3 948.7L852.1 951.6L860.8 947.5L852.1 941.3L845.7 932.3L852.1 926.5L865.2 932.3L867.9 936.4L883.7 943.9L894.3 932.3L899.5 924.4L905.9 932.3L915.3 939.0L931.1 934.2L937.4 947.5L946.9 952.2L958.9 947.5L962.7 945.2L978.4 932.3L962.7 918.9L952.5 917.2L962.7 912.2L978.5 902.2L994.0 917.2L985.0 932.3L994.3 932.6L1010.1 938.3L1023.0 932.3L1025.9 929.6L1034.0 917.2L1041.7 911.4L1049.5 902.0L1043.2 886.8L1042.2 871.6L1049.0 856.4L1057.5 842.1ZM1264.2 856.4L1278.8 843.1L1286.8 856.4L1278.8 870.3ZM907.6 871.6L915.3 869.6L916.8 871.6L923.6 886.8L931.1 893.1L939.2 902.0L945.0 917.2L946.9 923.4L948.3 932.3L946.9 934.5L936.6 932.3L931.1 930.9L916.0 917.2L922.0 902.0L915.3 894.6L905.8 886.8ZM1104.9 868.6L1101.2 871.6L1104.9 874.3L1108.6 871.6ZM1459.6 871.6L1468.4 867.1L1474.2 871.6L1468.4 879.5ZM1357.8 885.4L1353.1 886.8L1357.8 891.2L1360.7 886.8ZM1011.0 902.0L1025.9 890.4L1032.6 902.0L1025.9 910.0ZM1460.0 902.0L1468.4 893.9L1476.4 902.0L1472.3 917.2L1468.4 919.6L1467.0 917.2ZM703.6 917.2L709.9 911.2L716.3 917.2L709.9 923.4ZM781.2 917.2L788.9 912.2L802.5 917.2L788.9 926.1ZM877.1 917.2L883.7 907.8L893.7 917.2L883.7 923.7ZM638.0 932.3L646.6 927.6L659.4 932.3L646.6 937.3L640.0 947.5L630.8 957.4L618.9 947.5L630.8 935.8ZM684.0 947.5L694.1 942.0L700.9 947.5L694.1 955.6ZM1025.9 947.1L1025.9 947.5L1010.1 959.3L1008.1 962.7L1010.1 963.7L1025.9 963.5L1027.0 962.7L1026.0 947.5ZM741.5 959.4L735.3 962.7L741.5 968.2L746.5 962.7ZM709.9 967.3L706.1 977.9L709.9 983.1L712.7 977.9ZM1294.6 974.6L1292.3 977.9L1294.6 981.8L1299.9 977.9ZM1278.8 988.2L1274.3 993.1L1278.8 1001.9L1286.6 993.1ZM1294.6 1008.2L1310.4 1008.5L1310.8 1008.2L1310.4 1008.1ZM1168.1 1021.6L1158.6 1023.4L1168.1 1029.2L1169.1 1023.4ZM1215.6 1035.1L1212.8 1038.6L1215.6 1048.8L1231.4 1044.1L1238.7 1053.8L1247.2 1056.9L1251.8 1053.8L1252.5 1038.6L1247.2 1033.8L1231.4 1037.6ZM709.9 1052.6L705.7 1053.8L709.9 1064.4L717.4 1069.0L725.7 1077.2L730.2 1069.0L738.6 1053.8L725.7 1052.7ZM788.9 1052.3L785.5 1053.8L788.9 1063.7L794.5 1053.8ZM820.5 1051.8L814.9 1053.8L820.5 1056.6L826.9 1053.8ZM1184.0 1049.5L1183.2 1053.8L1169.1 1069.0L1184.0 1072.7L1188.5 1069.0L1184.7 1053.8ZM500.9 1069.0L504.4 1066.2L507.4 1069.0L504.4 1076.0ZM773.1 1067.1L759.0 1069.0L773.1 1070.7L781.0 1069.0ZM1104.9 1067.1L1101.0 1069.0L1104.9 1082.0L1108.3 1069.0ZM1231.4 1060.8L1220.7 1069.0L1231.4 1079.7L1234.6 1069.0ZM1345.2 1069.0L1357.8 1060.1L1372.3 1069.0L1357.8 1076.8ZM644.6 1099.3L646.6 1098.1L649.9 1099.3L646.6 1100.3ZM1287.9 1099.3L1294.6 1093.9L1303.8 1099.3L1294.6 1104.2ZM1319.9 1099.3L1326.2 1093.0L1334.3 1099.3L1326.2 1106.6ZM1371.4 1099.3L1373.6 1096.1L1375.1 1099.3L1373.6 1100.8ZM720.0 1114.5L725.7 1100.8L731.4 1114.5L725.7 1121.2ZM1025.9 1108.5L1021.7 1114.5L1025.9 1119.9L1030.7 1114.5ZM1041.7 1127.9L1039.5 1129.7L1041.7 1132.2L1044.6 1129.7ZM1172.7 1129.7L1184.0 1121.9L1195.2 1129.7L1184.0 1141.9ZM978.5 1133.8L971.1 1144.9L978.5 1152.9L982.2 1144.9ZM562.1 1160.1L567.6 1153.9L574.2 1160.1L567.6 1166.5ZM1041.7 1158.2L1040.5 1160.1L1041.7 1162.3L1043.0 1160.1ZM788.9 1184.3L777.6 1190.4L788.9 1196.6L798.6 1190.4ZM1168.1 1185.4L1165.8 1190.4L1168.1 1194.4L1169.4 1190.4ZM1256.5 1190.4L1263.0 1189.7L1264.8 1190.4L1263.0 1192.2ZM513.9 1205.6L520.2 1198.2L527.8 1205.6L520.2 1212.0ZM773.1 1204.1L764.8 1205.6L773.1 1206.9L773.6 1205.6ZM1184.0 1204.9L1181.2 1205.6L1184.0 1206.3L1185.7 1205.6ZM1367.4 1220.8L1373.6 1216.4L1379.0 1220.8L1373.6 1227.0ZM773.1 1229.4L767.3 1236.0L773.1 1238.1L775.3 1236.0ZM1387.2 1236.0L1389.4 1234.4L1393.3 1236.0L1391.0 1251.1L1389.4 1253.1L1379.9 1251.1ZM1184.0 1247.8L1183.0 1251.1L1184.0 1255.9L1187.1 1251.1ZM1215.6 1248.8L1212.2 1251.1L1215.6 1256.9L1217.1 1251.1ZM741.5 1257.4L736.5 1266.3L741.5 1281.3L744.3 1266.3ZM741.5 1281.6L728.7 1296.7L741.5 1308.7L747.3 1296.7ZM725.7 1318.2L719.7 1327.0L725.0 1342.2L720.9 1357.4L723.0 1372.6L725.7 1375.7L735.4 1387.8L741.5 1389.0L742.8 1387.8L757.3 1375.0L762.5 1372.6L757.3 1366.5L741.5 1364.2L732.8 1357.4L730.7 1342.2L741.5 1337.5L747.4 1327.0L741.5 1317.6ZM612.8 1342.2L615.0 1340.9L616.9 1342.2L615.0 1350.0ZM644.6 1342.2L646.6 1340.7L655.8 1342.2L646.6 1346.4ZM1653.7 1342.2L1658.0 1340.8L1662.0 1342.2L1658.0 1343.8ZM618.3 1357.4L630.8 1352.5L639.5 1357.4L633.3 1372.6L630.8 1375.5L629.0 1372.6ZM1421.0 1347.1L1415.4 1357.4L1421.0 1359.8L1424.4 1357.4ZM788.9 1370.8L785.8 1372.6L784.7 1387.8L788.9 1392.7L791.0 1387.8L800.7 1372.6ZM836.3 1371.8L835.4 1372.6L836.3 1374.6L849.7 1372.6ZM1310.4 1361.4L1308.3 1372.6L1310.4 1375.7L1312.0 1372.6ZM1373.6 1366.4L1365.8 1372.6L1373.6 1383.5L1380.0 1372.6ZM637.4 1387.8L646.6 1379.9L658.0 1387.8L646.6 1396.7ZM1579.0 1385.6L1577.6 1387.8L1579.0 1391.1L1586.9 1387.8ZM1656.9 1387.8L1658.0 1381.3L1658.9 1387.8L1658.0 1389.1ZM709.9 1395.0L706.1 1403.0L709.9 1404.6L712.7 1403.0ZM1294.6 1399.5L1279.9 1403.0L1294.6 1404.8L1299.1 1403.0ZM1342.0 1398.1L1329.3 1403.0L1342.0 1406.7L1357.7 1403.0ZM1405.2 1398.2L1402.0 1403.0L1405.2 1406.7L1409.7 1403.0ZM694.1 1415.1L678.7 1418.1L694.1 1419.7L695.5 1418.1ZM1373.6 1430.6L1371.2 1433.3L1373.6 1435.7L1375.4 1433.3ZM646.6 1446.7L644.1 1448.5L646.6 1449.2L647.3 1448.5ZM1531.6 1446.0L1529.0 1448.5L1531.6 1452.4L1541.1 1448.5ZM1104.9 1492.7L1102.2 1494.0L1089.1 1506.1L1085.7 1509.2L1073.3 1524.2L1073.2 1524.4L1073.3 1524.6L1082.6 1539.6L1089.1 1542.1L1104.9 1542.6L1120.4 1539.6L1104.9 1533.2L1096.3 1524.4L1104.9 1509.8L1105.2 1509.2L1120.7 1495.7L1123.7 1494.0L1120.7 1493.1ZM1366.8 1494.0L1373.6 1483.9L1379.5 1494.0L1373.6 1504.6ZM1560.0 1494.0L1563.2 1486.2L1570.5 1494.0L1563.2 1498.2ZM1165.4 1509.2L1168.1 1506.6L1184.0 1503.2L1189.7 1509.2L1192.1 1524.4L1187.7 1539.6L1184.0 1542.7L1180.6 1539.6L1173.1 1524.4L1168.1 1514.5ZM1261.9 1509.2L1263.0 1507.5L1265.2 1509.2L1263.0 1510.4ZM1291.8 1509.2L1294.6 1506.5L1298.5 1509.2L1294.6 1511.1ZM573.9 1524.4L583.4 1518.1L593.0 1524.4L583.4 1529.0ZM638.9 1524.4L646.6 1516.6L652.6 1524.4L646.6 1527.6ZM894.1 1524.4L899.5 1515.2L906.4 1524.4L914.2 1539.6L915.3 1540.0L930.6 1554.8L915.3 1569.4L906.3 1554.8L899.5 1544.9L886.1 1554.8L897.3 1569.9L899.5 1572.5L909.5 1585.1L899.5 1596.0L887.3 1600.3L883.7 1604.0L878.0 1615.5L883.7 1625.7L894.8 1615.5L899.5 1611.2L913.6 1615.5L912.1 1630.7L913.5 1645.9L915.3 1650.7L919.7 1661.0L915.3 1662.8L911.8 1661.0L899.5 1653.7L885.9 1645.9L883.7 1642.4L867.9 1638.6L861.7 1630.7L860.8 1615.5L867.9 1604.0L878.0 1600.3L883.7 1598.1L890.2 1585.1L883.7 1579.6L875.8 1585.1L867.9 1596.8L852.1 1592.4L836.3 1599.4L834.3 1600.3L820.5 1606.7L811.3 1600.3L806.0 1585.1L804.7 1583.8L788.9 1575.6L782.1 1569.9L788.9 1561.7L804.7 1557.4L809.4 1554.8L820.5 1545.5L836.3 1544.7L852.1 1542.7L867.9 1548.1L881.4 1539.6L883.7 1536.9ZM932.8 1554.8L946.9 1549.6L962.7 1546.8L977.4 1554.8L978.5 1559.6L994.3 1561.5L1003.0 1569.9L994.3 1573.8L978.5 1571.4L973.4 1569.9L962.7 1566.1L956.0 1569.9L946.9 1582.2L940.1 1569.9ZM927.0 1600.3L931.1 1596.4L937.6 1600.3L946.9 1602.8L962.7 1609.1L971.2 1615.5L962.7 1629.0L962.1 1630.7L952.7 1645.9L962.7 1658.3L968.2 1661.0L978.5 1663.9L994.0 1676.2L989.7 1691.4L994.3 1692.8L996.1 1691.4L994.9 1676.2L1010.1 1667.3L1018.5 1661.0L1025.9 1651.9L1041.7 1656.3L1057.1 1661.0L1057.5 1661.2L1073.3 1662.1L1081.2 1661.0L1089.1 1658.3L1104.9 1654.1L1110.7 1661.0L1120.7 1668.6L1129.9 1661.0L1136.5 1654.3L1148.2 1661.0L1152.3 1666.1L1158.1 1676.2L1152.3 1681.1L1136.5 1682.3L1123.7 1691.4L1131.1 1706.6L1136.5 1710.2L1143.3 1706.6L1152.3 1701.5L1159.5 1706.6L1168.1 1712.0L1179.6 1721.8L1184.0 1734.0L1186.8 1736.9L1184.0 1738.3L1180.8 1736.9L1168.1 1732.9L1164.1 1736.9L1152.3 1746.8L1140.3 1752.1L1136.5 1755.6L1127.6 1767.3L1122.0 1782.5L1120.7 1784.9L1104.9 1784.4L1102.2 1782.5L1104.9 1777.4L1109.5 1767.3L1104.9 1764.9L1089.1 1762.9L1084.5 1752.1L1073.3 1746.0L1057.5 1749.4L1045.0 1752.1L1041.7 1753.3L1039.4 1752.1L1025.9 1745.2L1013.5 1736.9L1010.1 1733.8L994.3 1734.9L979.4 1721.8L978.5 1720.9L962.7 1720.8L953.8 1706.6L946.9 1698.2L931.1 1699.5L923.4 1691.4L931.1 1687.4L942.4 1676.2L934.4 1661.0L932.3 1645.9L931.1 1644.7L924.7 1630.7L915.5 1615.5ZM1052.8 1615.5L1057.5 1606.4L1064.8 1615.5L1057.5 1622.5ZM751.1 1661.0L757.3 1657.6L766.4 1661.0L773.1 1668.5L779.3 1661.0L788.9 1657.3L804.7 1653.6L813.5 1661.0L820.5 1666.4L826.3 1661.0L836.3 1653.3L852.1 1647.9L867.9 1654.3L873.1 1661.0L875.9 1676.2L867.9 1680.4L852.1 1688.8L836.3 1685.5L831.6 1691.4L825.0 1706.6L820.5 1718.2L804.7 1715.9L789.2 1706.6L788.9 1706.3L773.1 1706.3L757.3 1691.4L757.3 1691.3L745.5 1676.2ZM962.7 1662.9L951.0 1676.2L962.7 1684.8L970.1 1676.2ZM705.2 1691.4L709.9 1685.4L715.3 1691.4L709.9 1698.6ZM804.7 1689.6L802.5 1691.4L804.7 1694.1L808.2 1691.4ZM889.8 1706.6L899.5 1700.4L915.3 1702.9L919.7 1706.6L915.3 1708.2L899.5 1714.0ZM1104.9 1700.9L1101.5 1706.6L1104.1 1721.8L1104.9 1727.1L1106.6 1721.8L1111.4 1706.6ZM772.0 1721.8L773.1 1710.4L775.4 1721.8L773.1 1723.3ZM846.0 1721.8L852.1 1712.8L867.9 1719.2L871.5 1721.8L867.9 1724.2L852.1 1729.2ZM1193.6 1721.8L1199.8 1716.5L1204.3 1721.8L1199.8 1727.3ZM936.9 1736.9L946.9 1726.8L962.7 1725.2L972.9 1736.9L962.7 1740.2L946.9 1742.4ZM621.3 1767.3L630.8 1765.4L646.6 1762.8L649.8 1767.3L646.6 1772.2L639.5 1782.5L646.6 1789.3L656.5 1797.7L662.5 1809.4L667.5 1812.8L662.5 1822.2L646.6 1826.0L646.1 1828.0L630.8 1835.1L615.0 1836.9L599.2 1837.7L583.4 1834.2L567.6 1829.4L558.0 1828.0L551.8 1827.4L536.0 1817.9L527.9 1812.8L532.1 1797.7L536.0 1785.7L551.8 1782.8L567.6 1783.2L575.5 1782.5L583.4 1778.3L591.3 1782.5L599.2 1783.8L615.0 1782.5ZM961.9 1767.3L962.7 1765.4L969.8 1767.3L962.7 1768.4ZM981.0 1767.3L994.3 1761.0L1000.7 1767.3L994.3 1771.2ZM1447.4 1782.5L1452.6 1776.6L1458.8 1782.5L1452.6 1787.5ZM567.6 1811.7L565.3 1812.8L567.6 1823.8L573.6 1812.8ZM690.8 1812.8L694.1 1810.1L695.5 1812.8L694.1 1813.8ZM987.4 1828.0L994.3 1821.9L999.9 1828.0L994.3 1833.3ZM1125.6 1828.0L1136.5 1825.3L1150.7 1828.0L1152.3 1828.2L1154.3 1828.0L1168.1 1825.7L1171.2 1828.0L1173.4 1843.2L1168.1 1851.3L1152.3 1858.2L1151.7 1858.4L1142.7 1873.6L1137.6 1888.7L1136.5 1890.3L1135.5 1888.7L1132.4 1873.6L1127.7 1858.4L1120.7 1852.8L1104.9 1853.1L1095.8 1843.2L1104.9 1833.3L1120.7 1829.3ZM1064.6 1843.2L1073.3 1834.7L1081.2 1843.2L1073.3 1848.8ZM844.2 1888.7L852.1 1887.3L853.6 1888.7L853.7 1903.9L852.1 1905.0L851.0 1903.9ZM1333.0 1903.9L1342.0 1897.2L1353.1 1903.9L1357.8 1907.9L1367.3 1903.9L1373.6 1900.3L1389.4 1901.7L1405.2 1893.1L1421.0 1895.1L1436.5 1903.9L1436.8 1904.5L1452.6 1906.7L1465.4 1919.1L1462.0 1934.3L1468.4 1942.2L1477.4 1934.3L1484.2 1931.4L1490.7 1934.3L1500.0 1938.1L1515.8 1945.9L1531.6 1941.7L1546.2 1949.5L1547.4 1951.4L1551.7 1964.7L1563.2 1972.1L1576.0 1964.7L1579.0 1961.7L1582.6 1964.7L1579.0 1972.7L1576.4 1979.8L1579.0 1982.6L1586.9 1995.0L1579.0 2003.3L1566.0 1995.0L1563.2 1992.6L1547.4 1992.5L1538.2 1995.0L1531.6 2000.1L1516.9 1995.0L1515.8 1993.8L1514.1 1995.0L1500.0 1998.5L1484.2 2001.2L1479.1 1995.0L1484.2 1984.1L1486.9 1979.8L1484.2 1972.2L1480.7 1979.8L1468.4 1985.9L1460.0 1979.8L1452.6 1973.1L1436.8 1976.7L1421.0 1976.9L1405.2 1977.1L1401.9 1979.8L1401.1 1995.0L1389.4 2001.8L1381.1 1995.0L1374.4 1979.8L1373.6 1978.8L1364.6 1964.7L1357.8 1960.0L1344.4 1949.5L1342.0 1948.0L1334.6 1949.5L1335.8 1964.7L1326.2 1975.7L1310.4 1975.4L1294.6 1967.0L1291.3 1964.7L1294.6 1959.3L1299.2 1949.5L1310.4 1938.3L1312.6 1934.3L1310.5 1919.1L1326.2 1907.1ZM785.2 1919.1L788.9 1915.5L804.7 1914.5L816.5 1919.1L804.7 1922.2L788.9 1923.3ZM1269.3 1919.1L1278.8 1917.3L1294.6 1911.3L1309.9 1919.1L1294.6 1932.8L1278.8 1921.5ZM1244.8 1934.3L1247.2 1930.7L1251.1 1934.3L1247.2 1936.4ZM1274.5 1949.5L1278.8 1947.3L1283.8 1949.5L1278.8 1952.3ZM1436.8 1947.4L1435.3 1949.5L1436.8 1951.7L1439.7 1949.5ZM1554.6 1949.5L1563.2 1948.0L1564.3 1949.5L1563.2 1950.4ZM1468.4 1956.8L1463.0 1964.7L1468.4 1970.1L1479.0 1964.7ZM1410.5 1995.0L1421.0 1986.6L1434.4 1995.0L1421.0 2002.5Z"/>
<path stroke="#404040" stroke-width="5.0" d="M889.8 750.2L899.5 742.5L915.3 744.9L931.1 744.2L946.9 746.8L956.1 750.2L952.8 765.4L946.9 770.3L933.6 765.4L931.1 764.0L928.6 765.4L915.3 769.5L910.8 765.4L899.5 759.1ZM961.7 871.6L962.7 870.4L966.3 871.6L962.7 872.7ZM1158.6 871.6L1168.1 863.9L1174.7 871.6L1184.0 885.6L1187.7 886.8L1199.8 892.5L1215.6 891.5L1223.7 902.0L1215.6 911.5L1209.2 917.2L1199.8 927.4L1194.7 932.3L1184.0 944.6L1168.1 941.6L1152.3 944.1L1151.4 947.5L1152.3 949.4L1167.9 962.7L1168.1 963.5L1168.3 962.7L1184.0 949.7L1199.8 954.0L1215.6 956.3L1222.4 962.7L1231.4 969.6L1245.4 977.9L1231.4 992.4L1231.0 993.1L1231.4 997.3L1232.9 1008.2L1242.3 1023.4L1231.4 1030.1L1218.1 1023.4L1215.6 1020.2L1213.9 1023.4L1201.7 1038.6L1199.8 1041.7L1197.3 1038.6L1184.0 1028.9L1178.7 1023.4L1170.0 1008.2L1168.1 1006.0L1152.3 1004.2L1145.3 1008.2L1140.0 1023.4L1152.3 1034.4L1157.1 1038.6L1156.1 1053.8L1154.7 1069.0L1152.3 1074.8L1149.1 1069.0L1136.5 1060.6L1125.0 1053.8L1122.7 1038.6L1120.7 1034.6L1111.7 1038.6L1117.5 1053.8L1104.9 1059.5L1095.7 1053.8L1099.0 1038.6L1089.1 1033.1L1073.3 1028.8L1057.5 1036.4L1053.5 1038.6L1049.1 1053.8L1051.4 1069.0L1052.1 1084.2L1057.5 1091.7L1066.7 1099.3L1073.3 1114.5L1073.4 1114.5L1057.5 1124.4L1041.7 1116.3L1040.2 1114.5L1041.7 1110.8L1049.6 1099.3L1041.7 1094.1L1028.3 1084.2L1025.9 1081.4L1010.1 1083.3L1009.0 1084.2L1010.1 1089.7L1019.7 1099.3L1013.3 1114.5L1025.2 1129.7L1025.9 1132.1L1036.3 1144.9L1028.6 1160.1L1038.4 1175.2L1037.7 1190.4L1041.7 1192.9L1057.5 1191.6L1059.3 1190.4L1073.3 1185.8L1089.1 1181.7L1098.5 1190.4L1104.9 1194.4L1115.9 1205.6L1120.7 1212.9L1127.4 1205.6L1136.5 1198.3L1152.3 1198.8L1156.5 1205.6L1168.1 1211.7L1184.0 1215.2L1199.8 1216.4L1202.3 1220.8L1199.8 1224.4L1184.0 1228.3L1178.2 1236.0L1173.3 1251.1L1176.4 1266.3L1184.0 1276.7L1199.8 1271.7L1215.6 1277.7L1220.3 1281.5L1230.5 1296.7L1231.4 1299.4L1247.1 1311.9L1247.2 1311.9L1247.3 1311.9L1250.6 1296.7L1263.0 1287.4L1277.0 1296.7L1267.5 1311.9L1278.8 1317.0L1294.6 1322.1L1301.1 1327.0L1294.6 1332.9L1281.5 1342.2L1294.6 1354.4L1297.2 1357.4L1294.6 1363.9L1282.8 1372.6L1278.8 1375.2L1263.0 1380.3L1252.6 1372.6L1247.2 1357.5L1231.4 1366.8L1215.6 1363.7L1212.2 1372.6L1209.9 1387.8L1199.8 1398.4L1196.0 1403.0L1199.8 1406.4L1215.6 1414.5L1231.4 1406.7L1247.2 1403.8L1259.4 1418.1L1263.0 1421.1L1278.8 1423.3L1294.6 1425.4L1296.3 1418.1L1310.4 1410.1L1326.2 1417.2L1327.8 1418.1L1336.4 1433.3L1342.0 1438.1L1349.9 1433.3L1357.8 1426.7L1363.5 1433.3L1357.8 1442.4L1354.1 1448.5L1342.0 1459.8L1329.8 1448.5L1326.2 1444.5L1312.3 1433.3L1310.4 1430.4L1300.2 1433.3L1303.3 1448.5L1301.2 1463.7L1294.6 1469.9L1287.5 1463.7L1278.8 1453.3L1269.4 1463.7L1267.9 1478.9L1263.0 1481.6L1256.5 1478.9L1247.2 1476.7L1231.4 1478.7L1230.1 1478.9L1215.6 1484.7L1211.6 1478.9L1199.8 1464.7L1190.6 1478.9L1184.0 1485.0L1176.4 1478.9L1168.1 1476.5L1157.2 1478.9L1152.3 1483.0L1136.5 1486.2L1120.7 1483.6L1104.9 1481.3L1089.1 1488.2L1080.8 1478.9L1073.3 1475.1L1057.5 1478.6L1041.7 1471.0L1033.6 1478.9L1025.9 1485.8L1012.3 1478.9L1025.9 1469.1L1031.7 1463.7L1025.9 1453.6L1010.1 1456.5L998.2 1463.7L1001.2 1478.9L994.3 1485.4L985.4 1494.0L978.5 1495.1L962.7 1505.8L946.9 1508.5L945.3 1509.2L931.1 1513.8L925.0 1509.2L915.3 1502.2L905.3 1494.0L915.3 1483.9L931.1 1479.6L933.2 1478.9L931.1 1476.5L915.3 1472.6L899.5 1475.1L883.7 1475.8L870.2 1463.7L867.9 1463.5L866.8 1463.7L852.1 1471.5L845.8 1478.9L836.3 1488.5L820.5 1489.4L807.8 1478.9L804.7 1477.1L800.4 1478.9L803.0 1494.0L804.7 1494.3L820.5 1504.9L827.6 1509.2L820.6 1524.4L820.5 1524.5L819.7 1524.4L804.7 1522.6L788.9 1517.2L773.1 1520.5L757.3 1520.1L741.5 1512.8L725.7 1516.1L709.9 1518.0L697.3 1509.2L694.1 1498.0L678.3 1496.1L675.9 1494.0L675.8 1478.9L678.3 1475.1L686.7 1463.7L683.9 1448.5L694.1 1433.9L694.4 1433.3L709.0 1418.1L709.9 1417.3L725.7 1414.8L732.8 1403.0L741.5 1398.3L752.7 1387.8L757.3 1383.7L763.8 1387.8L773.1 1393.9L782.0 1403.0L788.9 1412.2L794.7 1403.0L804.7 1389.9L806.9 1387.8L816.2 1372.6L809.7 1357.4L820.5 1343.2L836.3 1344.7L842.2 1357.4L836.3 1362.1L824.4 1372.6L831.9 1387.8L836.3 1391.8L852.1 1392.9L867.9 1395.5L883.7 1389.6L886.0 1387.8L889.1 1372.6L883.7 1370.1L867.9 1367.4L856.9 1357.4L865.4 1342.2L867.9 1338.0L872.1 1327.0L867.9 1321.5L860.1 1311.9L852.1 1306.6L836.3 1311.1L833.7 1311.9L820.5 1321.9L804.9 1311.9L804.7 1311.7L788.9 1311.4L773.1 1308.8L765.6 1296.7L773.1 1283.6L773.8 1281.5L773.1 1280.2L765.3 1281.5L757.3 1283.4L756.7 1281.5L755.2 1266.3L752.8 1251.1L757.3 1246.9L765.0 1251.1L773.1 1258.1L775.1 1251.1L788.9 1237.9L795.1 1236.0L794.7 1220.8L804.7 1217.3L810.9 1220.8L812.1 1236.0L820.5 1241.4L826.2 1236.0L822.4 1220.8L820.5 1215.9L812.7 1205.6L815.9 1190.4L820.5 1185.4L836.3 1189.2L837.3 1190.4L852.1 1194.9L858.9 1190.4L855.7 1175.2L867.9 1161.9L876.8 1175.2L882.3 1190.4L883.7 1191.0L899.5 1193.2L901.1 1190.4L899.5 1186.7L888.4 1175.2L890.7 1160.1L883.7 1148.0L881.0 1144.9L883.7 1139.1L899.5 1136.1L910.8 1129.7L899.5 1125.7L883.7 1127.0L876.2 1129.7L867.9 1133.9L852.1 1131.5L850.9 1129.7L842.8 1114.5L836.3 1112.7L826.8 1099.3L823.8 1084.2L820.5 1071.6L818.9 1069.0L820.5 1068.4L836.3 1060.0L852.1 1057.6L854.3 1053.8L856.7 1038.6L852.1 1035.4L836.3 1031.1L830.2 1038.6L820.5 1043.5L814.4 1038.6L820.5 1029.4L828.4 1023.4L833.4 1008.2L832.6 993.1L834.6 977.9L836.3 977.0L841.3 977.9L848.5 993.1L852.1 994.6L859.5 993.1L867.9 990.6L872.7 977.9L876.6 962.7L883.7 959.8L899.5 959.1L903.6 962.7L915.3 968.0L925.2 962.7L931.1 957.6L946.1 962.7L946.9 962.8L962.7 965.1L978.5 965.2L980.3 962.7L978.5 961.3L973.2 947.5L978.5 942.8L988.6 947.5L994.3 953.7L998.0 962.7L1010.1 968.4L1025.9 971.9L1035.7 977.9L1041.7 983.2L1047.3 977.9L1041.7 969.0L1038.2 962.7L1041.7 954.4L1047.1 962.7L1057.5 969.3L1073.3 963.6L1082.2 977.9L1089.1 989.3L1096.0 977.9L1097.6 962.7L1104.9 955.3L1109.0 947.5L1104.9 941.2L1097.6 947.5L1089.1 955.3L1073.3 961.4L1057.5 949.0L1054.3 947.5L1054.7 932.3L1046.5 917.2L1057.5 904.5L1066.8 917.2L1070.5 932.3L1073.3 933.4L1074.6 932.3L1086.3 917.2L1089.1 914.1L1101.6 902.0L1104.9 896.7L1120.7 890.3L1134.4 886.8L1136.5 886.2L1137.7 886.8L1152.3 892.1L1165.7 886.8ZM1354.8 871.6L1357.8 867.4L1373.6 863.7L1381.3 871.6L1389.4 877.4L1400.4 871.6L1405.2 869.4L1409.9 871.6L1419.8 886.8L1405.2 898.6L1389.4 893.2L1379.7 886.8L1373.6 878.9L1357.8 873.6ZM1136.5 888.3L1131.9 902.0L1136.5 916.8L1140.7 902.0ZM1366.5 902.0L1373.6 893.8L1379.1 902.0L1375.6 917.2L1373.6 919.2L1371.3 917.2ZM975.1 917.2L978.5 914.2L981.6 917.2L978.5 920.2ZM1152.3 912.3L1136.8 917.2L1152.3 924.6L1157.8 917.2ZM1184.0 914.4L1179.9 917.2L1184.0 921.1L1188.1 917.2ZM772.6 962.7L773.1 962.6L773.5 962.7L788.9 968.8L803.7 962.7L804.7 962.3L806.5 962.7L813.7 977.9L804.7 990.5L788.9 984.8L773.1 985.1L765.6 977.9ZM723.8 977.9L725.7 974.4L729.5 977.9L741.5 985.7L750.8 993.1L757.3 995.7L768.0 1008.2L773.1 1021.6L785.7 1008.2L788.9 1005.6L794.1 1008.2L797.8 1023.4L797.7 1038.6L788.9 1046.1L773.1 1050.5L770.1 1053.8L757.3 1058.6L752.1 1053.8L741.5 1045.0L725.7 1047.8L709.9 1049.0L694.1 1053.0L691.9 1053.8L678.3 1062.6L662.5 1054.7L659.7 1053.8L646.6 1051.5L630.8 1048.7L624.9 1038.6L630.8 1025.4L646.6 1025.6L657.6 1023.4L659.2 1008.2L649.3 993.1L662.5 981.7L678.3 986.7L684.5 993.1L694.1 998.5L709.9 1002.4L716.0 993.1ZM1136.5 962.9L1129.3 977.9L1136.5 982.7L1142.4 977.9ZM1318.5 977.9L1326.2 970.7L1331.2 977.9L1326.2 982.8ZM883.7 988.9L870.8 993.1L876.2 1008.2L867.9 1009.2L860.6 1023.4L867.9 1032.0L883.7 1029.1L895.2 1038.6L899.5 1039.8L900.5 1038.6L915.3 1025.5L917.7 1023.4L915.3 1022.5L899.5 1020.7L884.8 1008.2L886.2 993.1ZM1262.2 993.1L1263.0 991.7L1263.3 993.1L1269.1 1008.2L1263.0 1020.2L1257.2 1008.2ZM630.3 1008.2L630.8 1007.6L631.2 1008.2L630.8 1011.4ZM741.5 1000.1L732.6 1008.2L741.5 1023.1L745.6 1008.2ZM1089.1 999.9L1085.0 1008.2L1089.1 1013.1L1096.0 1008.2ZM757.3 1021.9L742.6 1023.4L757.3 1033.4L767.3 1023.4ZM1104.9 1018.7L1101.5 1023.4L1104.9 1030.2L1107.8 1023.4ZM1245.9 1069.0L1247.2 1067.8L1249.6 1069.0L1247.2 1070.3ZM701.3 1084.2L709.9 1076.6L717.6 1084.2L709.9 1089.8ZM867.9 1097.1L866.7 1099.3L867.9 1103.3L868.9 1099.3ZM1090.7 1099.3L1104.9 1092.2L1112.2 1099.3L1104.9 1106.8ZM931.1 1123.5L919.0 1129.7L920.0 1144.9L915.3 1149.2L907.8 1160.1L915.3 1164.2L930.5 1175.2L931.1 1175.7L933.4 1175.2L946.9 1167.6L962.7 1165.9L978.5 1168.7L994.3 1163.4L998.5 1160.1L994.3 1157.0L989.1 1144.9L994.3 1137.3L999.0 1129.7L994.3 1123.0L978.5 1118.1L970.5 1129.7L962.7 1139.7L946.9 1140.8L939.5 1129.7ZM736.9 1160.1L741.5 1156.3L749.1 1160.1L741.5 1166.0ZM832.8 1160.1L836.3 1156.7L841.8 1160.1L836.3 1164.6ZM1054.5 1160.1L1057.5 1153.4L1060.8 1160.1L1057.5 1163.3ZM797.9 1175.2L804.7 1170.2L810.8 1175.2L804.7 1180.5ZM1199.7 1175.2L1199.8 1175.2L1205.2 1190.4L1199.8 1198.4L1184.0 1194.9L1179.5 1190.4L1184.0 1184.6ZM962.7 1189.4L957.4 1190.4L962.7 1191.3L964.7 1190.4ZM1010.1 1183.0L1005.8 1190.4L1010.1 1193.0L1016.7 1190.4ZM716.5 1205.6L725.7 1197.3L741.5 1204.3L742.3 1205.6L741.5 1212.6L739.7 1220.8L741.5 1222.2L748.2 1236.0L741.5 1242.4L731.4 1236.0L725.7 1229.8L718.8 1220.8ZM836.3 1195.7L834.0 1205.6L836.3 1206.3L837.1 1205.6ZM1041.7 1218.4L1040.6 1220.8L1041.7 1222.1L1043.7 1220.8ZM704.6 1236.0L709.9 1230.9L717.6 1236.0L718.3 1251.1L709.9 1256.0L694.1 1252.9L692.3 1251.1L694.1 1248.4ZM852.1 1235.6L851.1 1236.0L852.1 1237.5L854.2 1236.0ZM1218.9 1236.0L1231.4 1227.5L1242.1 1236.0L1233.3 1251.1L1232.1 1266.3L1231.4 1266.9L1230.9 1266.3L1230.6 1251.1ZM1104.9 1248.1L1094.8 1251.1L1104.9 1253.2L1108.7 1251.1ZM1253.0 1266.3L1263.0 1257.7L1274.1 1266.3L1263.0 1276.1ZM1089.1 1278.0L1087.4 1281.5L1089.1 1288.9L1092.4 1281.5ZM1120.7 1305.1L1115.5 1311.9L1120.7 1316.3L1136.5 1312.9L1137.9 1311.9L1136.5 1307.0ZM763.5 1327.0L773.1 1312.7L788.0 1327.0L788.9 1328.4L802.8 1342.2L789.9 1357.4L788.9 1357.9L787.6 1357.4L777.0 1342.2L773.1 1339.7ZM978.5 1324.4L973.4 1327.0L978.5 1330.7L993.6 1327.0ZM1025.9 1342.0L1025.5 1342.2L1020.9 1357.4L1025.9 1365.4L1026.9 1357.4L1026.1 1342.2ZM1184.0 1336.7L1182.4 1342.2L1184.0 1344.4L1189.6 1342.2ZM1304.4 1342.2L1310.4 1336.1L1326.2 1333.1L1334.3 1342.2L1326.2 1348.3L1310.4 1347.2ZM1365.4 1342.2L1373.6 1337.1L1389.4 1334.6L1400.2 1342.2L1389.4 1354.9L1373.6 1351.4ZM1452.0 1342.2L1452.6 1341.8L1453.9 1342.2L1468.4 1346.0L1482.2 1342.2L1484.2 1340.6L1487.1 1342.2L1500.0 1347.7L1515.8 1346.7L1520.6 1342.2L1531.6 1330.9L1547.4 1329.2L1562.7 1342.2L1563.2 1342.5L1579.0 1351.3L1583.3 1357.4L1579.0 1369.5L1572.4 1372.6L1567.9 1387.8L1563.2 1399.4L1552.8 1403.0L1547.4 1405.4L1531.6 1414.4L1522.7 1418.1L1531.6 1427.7L1547.4 1425.1L1563.2 1432.4L1563.6 1433.3L1563.2 1433.9L1547.4 1438.7L1531.6 1435.4L1518.0 1448.5L1515.8 1458.4L1512.8 1463.7L1500.0 1469.0L1494.4 1463.7L1500.0 1450.4L1503.9 1448.5L1501.2 1433.3L1500.0 1432.8L1493.0 1433.3L1484.2 1438.4L1483.0 1433.3L1484.2 1432.1L1489.8 1418.1L1484.2 1405.3L1477.3 1418.1L1468.4 1426.3L1457.3 1418.1L1452.6 1413.9L1440.3 1418.1L1436.8 1423.1L1435.3 1418.1L1421.0 1405.9L1419.0 1403.0L1405.2 1388.3L1395.3 1403.0L1389.4 1414.1L1382.9 1418.1L1389.4 1420.8L1395.8 1418.1L1405.2 1414.5L1410.6 1418.1L1421.0 1425.6L1434.1 1433.3L1436.8 1437.4L1450.1 1448.5L1436.8 1457.0L1421.0 1458.0L1409.7 1448.5L1409.2 1433.3L1405.2 1427.2L1402.4 1433.3L1389.4 1444.5L1382.8 1448.5L1373.6 1455.4L1364.2 1448.5L1373.6 1443.1L1381.1 1433.3L1373.6 1422.1L1368.5 1418.1L1373.6 1409.8L1378.3 1403.0L1386.5 1387.8L1389.4 1382.9L1405.2 1382.1L1408.5 1372.6L1421.0 1369.4L1436.8 1362.1L1438.9 1357.4ZM899.5 1347.4L893.5 1357.4L899.5 1366.8L910.2 1372.6L915.3 1375.2L931.1 1372.6L931.3 1372.6L934.7 1357.4L931.1 1354.7L915.3 1349.6ZM1547.4 1350.6L1537.0 1357.4L1547.4 1366.1L1552.9 1357.4ZM978.5 1371.2L977.3 1372.6L978.5 1374.3L994.3 1374.3L1010.1 1387.8L1010.1 1387.8L1017.4 1372.6L1010.1 1368.6L994.3 1371.8ZM1041.7 1370.2L1029.8 1372.6L1032.5 1387.8L1041.7 1399.5L1057.5 1395.9L1063.2 1387.8L1057.5 1385.2L1046.5 1372.6ZM1184.0 1369.0L1182.2 1372.6L1184.0 1386.7L1186.7 1372.6ZM1325.9 1372.6L1326.2 1372.2L1326.8 1372.6L1332.3 1387.8L1326.2 1392.5L1319.2 1387.8ZM1452.6 1367.7L1443.4 1372.6L1452.6 1380.8L1458.5 1372.6ZM1484.2 1359.7L1475.9 1372.6L1484.2 1383.1L1488.0 1372.6ZM1242.0 1387.8L1247.2 1380.5L1252.5 1387.8L1247.2 1399.1ZM1531.6 1384.5L1524.8 1387.8L1531.6 1392.2L1537.2 1387.8ZM650.1 1433.3L662.5 1424.8L677.5 1433.3L671.2 1448.5L662.5 1456.6L655.9 1448.5ZM640.7 1463.7L646.6 1457.7L654.7 1463.7L646.6 1468.6ZM709.9 1459.7L703.9 1463.7L709.9 1465.7L712.8 1463.7ZM1104.9 1462.6L1100.8 1463.7L1104.9 1472.8L1108.0 1463.7ZM1136.5 1460.7L1132.3 1463.7L1136.5 1471.2L1141.1 1463.7ZM863.5 1494.0L867.9 1488.7L874.8 1494.0L867.9 1505.1ZM1039.8 1539.6L1041.7 1538.2L1043.0 1539.6L1041.7 1540.4ZM830.6 1554.8L836.3 1553.3L852.1 1547.9L863.3 1554.8L867.9 1566.0L882.7 1569.9L867.9 1574.5L852.1 1573.5L847.5 1569.9L836.3 1558.5ZM1081.2 1554.8L1089.1 1550.9L1104.9 1553.1L1120.7 1554.1L1136.5 1550.2L1140.3 1554.8L1136.5 1565.2L1129.0 1569.9L1120.7 1571.4L1118.9 1569.9L1104.9 1556.7L1089.1 1561.3ZM798.4 1569.9L804.7 1566.3L809.4 1569.9L804.7 1573.9ZM815.2 1585.1L820.5 1579.4L829.7 1585.1L820.5 1591.7ZM929.2 1615.5L931.1 1613.5L938.9 1615.5L931.1 1617.9ZM892.5 1630.7L899.5 1624.0L904.6 1630.7L899.5 1638.0ZM784.6 1676.2L788.9 1671.8L800.0 1676.2L788.9 1684.4ZM1024.1 1676.2L1025.9 1674.8L1041.7 1670.0L1057.5 1674.8L1073.3 1669.9L1089.1 1674.5L1104.9 1667.7L1116.5 1676.2L1104.9 1686.5L1101.9 1691.4L1092.5 1706.6L1095.6 1721.8L1089.1 1733.1L1074.0 1721.8L1073.3 1719.1L1073.0 1721.8L1064.9 1736.9L1057.5 1740.8L1051.2 1736.9L1048.6 1721.8L1041.7 1711.7L1031.7 1721.8L1025.9 1730.6L1016.3 1721.8L1010.1 1708.9L994.3 1709.3L991.5 1706.6L994.3 1704.7L1010.1 1699.3L1010.8 1691.4ZM769.6 1691.4L773.1 1687.5L781.3 1691.4L773.1 1694.7ZM1041.7 1688.2L1040.6 1691.4L1041.7 1694.4L1043.1 1691.4ZM1112.4 1736.9L1120.7 1723.3L1136.5 1722.6L1151.1 1736.9L1136.5 1746.2L1120.7 1744.3ZM550.8 1797.7L551.8 1797.0L567.6 1788.5L583.4 1794.6L599.2 1793.0L612.9 1797.7L615.0 1812.8L615.0 1813.3L615.1 1812.8L630.8 1802.1L641.3 1812.8L630.8 1825.9L621.2 1828.0L615.0 1829.3L605.2 1828.0L599.2 1827.3L587.1 1812.8L583.4 1801.6L567.6 1806.6L554.9 1812.8L551.8 1816.1L546.7 1812.8ZM1146.1 1843.2L1152.3 1840.0L1157.3 1843.2L1152.3 1846.4ZM1324.2 1919.1L1326.2 1917.6L1335.6 1919.1L1342.0 1924.3L1357.8 1925.4L1368.3 1934.3L1357.8 1945.4L1342.0 1936.5L1332.3 1934.3L1326.2 1927.5ZM1387.9 1919.1L1389.4 1918.4L1392.1 1919.1L1405.2 1921.3L1421.0 1920.6L1436.8 1930.0L1441.1 1934.3L1436.8 1936.6L1427.6 1949.5L1436.8 1963.0L1440.8 1964.7L1436.8 1966.2L1421.0 1966.6L1415.3 1964.7L1405.2 1962.5L1389.4 1953.4L1388.1 1949.5L1389.4 1939.8L1390.1 1934.3L1389.4 1925.9ZM1500.0 1949.5L1515.8 1962.1L1518.6 1964.7L1515.8 1967.7L1500.0 1966.2L1499.5 1964.7ZM1525.1 1979.8L1531.6 1974.2L1547.4 1968.7L1562.1 1979.8L1547.4 1988.1L1531.6 1986.6Z"/>
<path stroke="#606060" stroke-width="5.0" d="M898.2 750.2L899.5 749.1L902.6 750.2L899.5 751.4ZM1391.0 886.8L1405.2 876.3L1414.6 886.8L1405.2 894.3ZM1179.4 902.0L1184.0 898.8L1188.5 902.0L1184.0 904.4ZM1054.9 917.2L1057.5 914.1L1059.8 917.2L1057.5 921.5ZM1106.3 932.3L1120.7 929.3L1136.5 921.4L1149.6 932.3L1144.2 947.5L1136.5 955.4L1120.7 957.3L1114.8 947.5ZM1181.8 962.7L1184.0 960.9L1192.4 962.7L1199.8 965.2L1211.4 977.9L1215.6 984.3L1219.5 993.1L1215.6 1000.3L1213.4 1008.2L1204.1 1023.4L1199.8 1028.8L1191.9 1023.4L1184.0 1019.3L1176.3 1008.2L1168.1 998.6L1158.2 993.1L1168.1 985.7L1172.1 977.9ZM898.6 977.9L899.5 977.7L915.3 976.4L923.7 977.9L931.1 978.6L932.0 977.9L946.9 967.0L962.7 969.2L974.3 977.9L978.5 982.8L994.3 979.9L997.4 977.9L1010.1 973.2L1022.4 977.9L1025.9 980.5L1039.8 993.1L1041.7 994.2L1057.5 1002.9L1065.5 1008.2L1070.2 1023.4L1057.5 1032.4L1046.0 1038.6L1041.7 1048.6L1025.9 1050.7L1012.0 1053.8L1024.6 1069.0L1010.1 1079.4L1003.7 1084.2L994.3 1094.0L981.1 1099.3L978.5 1102.4L962.7 1104.7L951.1 1114.5L946.9 1122.3L931.1 1115.2L923.6 1114.5L915.3 1107.5L913.4 1114.5L899.5 1118.9L883.7 1118.6L875.3 1114.5L873.9 1099.3L867.9 1086.1L860.7 1099.3L852.1 1109.4L836.3 1103.2L833.5 1099.3L836.3 1088.1L852.1 1086.3L861.2 1084.2L867.9 1073.9L868.5 1069.0L867.9 1062.9L866.3 1053.8L867.9 1047.9L869.6 1053.8L883.7 1058.7L893.8 1053.8L899.5 1048.5L907.9 1038.6L915.3 1032.0L925.2 1023.4L915.3 1019.5L900.4 1008.2L899.5 1004.1L894.5 993.1ZM660.2 993.1L662.5 991.1L667.1 993.1L662.5 996.3ZM1132.5 993.1L1136.5 991.0L1142.3 993.1L1136.5 996.8ZM689.4 1008.2L694.1 1005.4L700.0 1008.2L709.9 1012.4L725.7 1011.3L736.6 1023.4L737.3 1038.6L725.7 1043.0L709.9 1045.4L694.1 1039.5L678.3 1047.6L669.4 1038.6L668.0 1023.4L678.3 1014.0ZM752.8 1008.2L757.3 1003.5L761.4 1008.2L757.3 1013.5ZM694.1 1018.9L692.5 1023.4L694.1 1034.3L695.4 1023.4ZM785.8 1023.4L788.9 1020.2L790.5 1023.4L790.4 1038.6L788.9 1039.9L785.0 1038.6ZM848.1 1023.4L852.1 1018.7L853.6 1023.4L852.1 1025.5ZM946.9 1021.6L946.0 1023.4L937.7 1038.6L946.9 1043.8L954.8 1038.6L947.5 1023.4ZM636.3 1038.6L646.6 1032.3L655.7 1038.6L646.6 1044.8ZM1129.3 1038.6L1136.5 1029.5L1146.5 1038.6L1136.5 1049.2ZM915.3 1049.1L908.6 1053.8L913.3 1069.0L915.3 1070.6L919.1 1069.0L917.6 1053.8ZM883.7 1081.9L872.9 1084.2L883.7 1086.7L885.8 1084.2ZM1005.2 1129.7L1010.1 1121.2L1016.8 1129.7L1010.1 1136.4ZM896.2 1175.2L899.5 1161.4L915.3 1168.9L924.0 1175.2L931.1 1180.5L942.6 1190.4L946.9 1196.7L962.7 1200.0L978.5 1197.8L992.3 1190.4L994.3 1188.8L994.7 1190.4L1010.1 1199.5L1019.4 1205.6L1025.9 1210.5L1034.5 1220.8L1041.7 1229.2L1054.9 1220.8L1057.5 1215.1L1059.6 1205.6L1073.3 1193.3L1089.1 1196.2L1104.9 1205.0L1105.5 1205.6L1118.5 1220.8L1120.7 1225.6L1135.9 1220.8L1136.5 1220.0L1152.3 1216.7L1166.6 1220.8L1152.3 1224.7L1141.2 1236.0L1152.3 1250.5L1153.6 1251.1L1156.9 1266.3L1168.1 1268.3L1177.9 1281.5L1184.0 1284.4L1191.3 1281.5L1199.8 1277.4L1207.7 1281.5L1215.6 1286.7L1224.2 1296.7L1230.0 1311.9L1231.4 1314.6L1247.2 1322.2L1263.0 1326.4L1278.8 1325.1L1283.8 1327.0L1278.8 1330.5L1272.1 1342.2L1274.1 1357.4L1263.0 1365.6L1256.4 1357.4L1252.0 1342.2L1247.2 1334.2L1231.4 1340.3L1227.8 1342.2L1215.6 1350.9L1206.5 1342.2L1205.7 1327.0L1199.8 1322.1L1184.0 1314.2L1179.2 1311.9L1168.1 1300.7L1165.4 1296.7L1159.3 1281.5L1152.3 1267.4L1137.5 1281.5L1136.5 1282.6L1120.9 1296.7L1120.7 1296.7L1109.0 1311.9L1120.7 1321.7L1136.5 1320.9L1148.0 1311.9L1152.3 1304.1L1162.5 1311.9L1157.0 1327.0L1168.1 1333.1L1176.0 1342.2L1184.0 1353.2L1192.5 1357.4L1184.0 1361.2L1178.4 1372.6L1176.6 1387.8L1168.1 1400.8L1163.8 1403.0L1166.9 1418.1L1168.1 1420.5L1169.0 1418.1L1184.0 1403.2L1199.7 1418.1L1199.8 1418.3L1215.6 1423.1L1225.5 1418.1L1231.4 1414.5L1247.2 1416.5L1248.6 1418.1L1247.2 1420.5L1244.0 1433.3L1247.2 1437.7L1257.6 1433.3L1263.0 1430.1L1278.4 1433.3L1276.6 1448.5L1263.0 1462.1L1259.6 1463.7L1247.2 1472.1L1231.4 1473.4L1215.6 1470.6L1209.8 1463.7L1199.8 1457.1L1190.0 1463.7L1184.0 1474.6L1168.1 1473.8L1152.3 1467.8L1150.2 1463.7L1136.5 1454.6L1123.7 1463.7L1120.7 1469.9L1117.5 1463.7L1104.9 1459.5L1089.1 1462.2L1087.5 1463.7L1073.3 1468.7L1057.5 1472.9L1044.9 1463.7L1041.7 1457.7L1034.9 1448.5L1025.9 1442.3L1010.1 1445.7L994.3 1448.0L978.5 1448.3L962.7 1441.4L948.6 1448.5L962.7 1461.4L978.5 1463.7L965.6 1478.9L962.7 1486.4L956.2 1478.9L946.9 1476.8L934.2 1463.7L931.1 1461.1L915.3 1462.0L902.2 1463.7L899.5 1464.5L897.9 1463.7L883.7 1460.7L867.9 1460.9L852.1 1462.0L851.1 1463.7L837.6 1478.9L836.3 1480.2L820.5 1484.1L814.1 1478.9L804.7 1473.5L791.7 1478.9L788.9 1483.6L773.1 1484.5L769.9 1494.0L773.1 1498.5L782.4 1509.2L773.1 1514.4L757.3 1511.9L752.0 1509.2L741.5 1507.0L728.9 1509.2L725.7 1510.2L709.9 1513.6L703.6 1509.2L698.7 1494.0L694.1 1486.0L686.5 1478.9L694.1 1469.5L709.9 1471.9L721.5 1463.7L710.1 1448.5L709.9 1447.5L703.4 1433.3L709.9 1426.7L725.7 1427.5L741.5 1425.7L748.9 1418.1L751.4 1403.0L757.3 1397.6L771.6 1403.0L773.1 1404.2L779.5 1418.1L788.9 1423.2L799.0 1418.1L802.5 1403.0L804.7 1400.1L817.8 1387.8L820.5 1383.6L822.7 1387.8L836.3 1400.2L845.2 1403.0L852.1 1405.2L867.9 1406.0L872.9 1403.0L883.7 1396.0L893.9 1387.8L899.5 1379.6L913.3 1387.8L915.3 1393.0L916.5 1387.8L931.1 1379.2L943.9 1387.8L946.9 1388.9L954.3 1387.8L951.7 1372.6L946.9 1369.2L941.2 1357.4L931.1 1349.9L919.3 1342.2L915.3 1338.2L899.5 1336.2L892.5 1342.2L883.7 1357.2L883.4 1357.4L867.9 1361.8L863.1 1357.4L867.9 1350.2L875.9 1342.2L883.7 1328.7L885.1 1327.0L883.7 1324.8L874.5 1311.9L867.9 1307.5L852.1 1297.6L836.3 1308.0L823.3 1311.9L820.5 1314.0L817.1 1311.9L804.7 1303.2L788.9 1298.4L786.5 1296.7L788.9 1291.7L795.9 1281.5L804.7 1276.8L809.2 1266.3L819.5 1251.1L820.5 1250.7L836.1 1236.0L828.9 1220.8L836.3 1213.0L844.5 1205.6L852.1 1200.2L866.8 1190.4L867.9 1184.6L869.6 1190.4L883.7 1195.7L899.5 1199.1L904.4 1190.4L899.5 1178.6ZM954.5 1175.2L962.7 1172.1L970.0 1175.2L962.7 1180.0ZM1019.8 1175.2L1025.9 1170.3L1029.3 1175.2L1025.9 1182.1ZM723.4 1205.6L725.7 1203.6L729.7 1205.6L725.7 1211.6ZM915.3 1204.3L911.9 1205.6L910.3 1220.8L907.3 1236.0L915.3 1238.6L918.0 1236.0L931.1 1224.1L932.7 1220.8L931.1 1212.9L922.1 1205.6ZM867.9 1218.8L866.6 1220.8L852.1 1230.0L836.5 1236.0L843.6 1251.1L852.1 1254.9L853.6 1251.1L867.9 1237.9L873.7 1236.0L868.8 1220.8ZM1104.9 1235.8L1104.3 1236.0L1089.1 1242.1L1086.5 1251.1L1089.1 1260.6L1104.9 1261.4L1120.7 1256.7L1124.7 1251.1L1120.7 1248.5L1105.3 1236.0ZM1166.3 1236.0L1168.1 1224.0L1169.1 1236.0L1168.1 1238.9ZM1227.6 1236.0L1231.4 1233.4L1234.6 1236.0L1231.4 1240.8ZM781.3 1251.1L788.9 1243.9L799.0 1251.1L788.9 1261.5ZM867.9 1278.2L861.0 1281.5L867.9 1285.2L868.9 1281.5ZM946.9 1277.4L944.4 1281.5L946.9 1284.8L951.0 1281.5ZM1057.5 1277.7L1050.7 1281.5L1057.5 1291.8L1060.6 1281.5ZM1089.1 1270.3L1083.7 1281.5L1073.3 1293.3L1062.2 1296.7L1068.0 1311.9L1057.5 1326.4L1056.5 1327.0L1057.5 1327.5L1073.3 1331.5L1085.5 1327.0L1077.2 1311.9L1089.1 1300.4L1098.8 1296.7L1099.5 1281.5ZM962.7 1295.9L962.1 1296.7L946.9 1306.9L943.2 1311.9L931.1 1323.6L926.7 1327.0L931.1 1331.2L946.9 1332.8L962.7 1334.1L978.5 1339.7L982.4 1342.2L986.1 1357.4L978.5 1360.4L974.4 1357.4L962.7 1345.0L955.2 1357.4L962.7 1366.2L968.1 1372.6L978.5 1387.7L978.7 1387.8L994.3 1392.3L1010.1 1396.1L1018.9 1403.0L1025.9 1409.0L1041.7 1409.6L1057.5 1409.1L1067.6 1418.1L1073.3 1432.7L1076.7 1418.1L1083.8 1403.0L1089.1 1397.3L1104.9 1393.6L1111.9 1387.8L1104.9 1384.0L1089.1 1386.1L1074.2 1372.6L1073.3 1371.2L1069.8 1372.6L1057.5 1377.2L1053.5 1372.6L1041.7 1366.6L1031.0 1357.4L1031.4 1342.2L1025.9 1337.1L1014.6 1342.2L1010.1 1349.3L1005.0 1342.2L1010.1 1337.0L1014.4 1327.0L1010.1 1322.5L994.3 1320.4L978.5 1317.8L970.9 1311.9L963.8 1296.7ZM1041.7 1293.8L1038.0 1296.7L1025.9 1311.1L1025.6 1311.9L1025.9 1312.1L1041.7 1320.0L1048.6 1311.9L1048.0 1296.7ZM899.5 1304.4L889.6 1311.9L899.5 1319.3L907.6 1311.9ZM1384.6 1342.2L1389.4 1341.1L1391.0 1342.2L1389.4 1344.1ZM1530.7 1342.2L1531.6 1341.3L1547.4 1338.7L1551.5 1342.2L1547.4 1344.5L1531.6 1344.9ZM1089.1 1355.0L1086.4 1357.4L1089.1 1359.1L1091.9 1357.4ZM1465.1 1357.4L1468.4 1356.5L1469.8 1357.4L1468.4 1359.8ZM1513.2 1357.4L1515.8 1356.3L1519.2 1357.4L1515.8 1359.7ZM1557.9 1357.4L1563.2 1349.7L1573.1 1357.4L1563.2 1365.8ZM1192.5 1372.6L1199.8 1361.2L1206.7 1372.6L1199.8 1384.6ZM1494.6 1372.6L1500.0 1363.7L1508.7 1372.6L1500.0 1383.9ZM1524.6 1372.6L1531.6 1364.2L1543.7 1372.6L1531.6 1376.8ZM931.1 1396.3L917.9 1403.0L915.3 1413.6L914.9 1418.1L915.3 1418.4L931.1 1419.1L933.0 1418.1L934.4 1403.0ZM978.5 1388.1L969.1 1403.0L978.5 1406.2L981.8 1403.0ZM1428.1 1403.0L1436.8 1391.4L1450.4 1403.0L1436.8 1410.8ZM1498.1 1403.0L1500.0 1398.3L1502.8 1403.0L1501.9 1418.1L1500.0 1419.4L1499.1 1418.1ZM1104.9 1410.6L1102.0 1418.1L1104.7 1433.3L1104.9 1433.5L1105.1 1433.3L1107.0 1418.1ZM658.5 1433.3L662.5 1430.6L667.2 1433.3L662.5 1443.5ZM1041.7 1427.5L1036.7 1433.3L1041.7 1440.5L1045.5 1433.3ZM1322.6 1433.3L1326.2 1429.2L1328.8 1433.3L1326.2 1436.2ZM1386.7 1433.3L1389.4 1429.3L1393.5 1433.3L1389.4 1436.9ZM693.1 1448.5L694.1 1447.2L704.6 1448.5L694.1 1451.3ZM773.1 1441.6L766.0 1448.5L768.7 1463.7L773.1 1475.9L778.6 1463.7L775.3 1448.5ZM1337.4 1448.5L1342.0 1444.6L1346.6 1448.5L1342.0 1452.8ZM1416.6 1448.5L1421.0 1434.6L1429.9 1448.5L1421.0 1452.2ZM916.1 1494.0L931.1 1486.0L946.9 1487.9L954.6 1494.0L946.9 1496.0L931.1 1505.0ZM796.3 1509.2L804.7 1503.3L812.6 1509.2L804.7 1514.5ZM847.8 1554.8L852.1 1553.2L854.7 1554.8L852.1 1559.0ZM1019.9 1691.4L1025.9 1685.1L1031.7 1691.4L1025.9 1697.8ZM1053.3 1691.4L1057.5 1686.6L1073.3 1680.8L1089.1 1685.7L1093.6 1691.4L1089.1 1698.5L1073.3 1696.6L1057.5 1700.4ZM1055.1 1721.8L1057.5 1713.3L1061.6 1721.8L1057.5 1727.9ZM1124.1 1736.9L1136.5 1733.3L1140.3 1736.9L1136.5 1739.3ZM560.7 1797.7L567.6 1793.8L575.3 1797.7L567.6 1801.5ZM593.0 1812.8L599.2 1802.4L607.4 1812.8L599.2 1820.3ZM624.9 1812.8L630.8 1808.8L634.8 1812.8L630.8 1817.8ZM1403.2 1934.3L1405.2 1932.6L1421.0 1928.1L1429.1 1934.3L1421.0 1947.2L1419.2 1949.5L1405.2 1956.4L1396.5 1949.5ZM1537.5 1979.8L1547.4 1974.7L1554.3 1979.8L1547.4 1983.7Z"/>
<path stroke="#808080" stroke-width="5.0" d="M1399.0 886.8L1405.2 882.2L1409.3 886.8L1405.2 890.1ZM1125.9 932.3L1136.5 925.6L1144.6 932.3L1137.0 947.5L1136.5 948.0L1120.7 947.8L1120.6 947.5L1120.7 947.0ZM937.8 977.9L946.9 971.3L962.7 973.3L968.8 977.9L978.5 989.2L994.3 988.4L1001.3 993.1L1010.1 1000.6L1020.0 993.1L1025.9 989.4L1030.0 993.1L1041.7 1000.1L1051.4 1008.2L1057.5 1014.5L1064.5 1023.4L1057.5 1028.4L1041.7 1037.0L1037.9 1038.6L1025.9 1045.5L1010.1 1049.4L1005.7 1053.8L1010.1 1059.2L1019.1 1069.0L1010.1 1075.4L998.4 1084.2L994.3 1088.5L978.5 1084.4L977.0 1084.2L962.7 1082.2L961.1 1084.2L958.2 1099.3L946.9 1109.2L931.1 1110.1L919.9 1099.3L915.3 1092.5L910.4 1099.3L899.5 1112.2L883.7 1109.2L878.9 1099.3L883.7 1093.1L891.3 1084.2L883.7 1076.1L875.4 1069.0L883.7 1063.4L899.5 1059.2L905.3 1069.0L915.3 1077.1L931.1 1069.7L946.9 1075.1L954.2 1069.0L946.9 1059.8L931.1 1067.3L922.6 1053.8L931.1 1041.9L946.9 1050.8L962.7 1050.5L965.3 1038.6L962.7 1030.4L960.0 1023.4L952.1 1008.2L946.9 1002.5L931.1 1007.6L930.6 1008.2L915.3 1016.5L904.3 1008.2L915.3 994.9L917.8 993.1L931.1 983.4ZM1177.1 977.9L1184.0 968.5L1196.8 977.9L1199.8 981.1L1209.8 993.1L1207.7 1008.2L1199.8 1019.1L1184.0 1010.2L1182.6 1008.2L1184.0 1001.3L1186.9 993.1L1184.0 990.6ZM674.5 1023.4L678.3 1019.9L683.5 1023.4L678.3 1036.1ZM703.3 1023.4L709.9 1018.4L725.7 1016.8L731.6 1023.4L725.7 1037.5L724.1 1038.6L709.9 1041.8L702.1 1038.6ZM994.3 1067.9L992.5 1069.0L994.3 1071.7L995.8 1069.0ZM845.5 1099.3L852.1 1095.4L854.7 1099.3L852.1 1102.4ZM909.5 1175.2L915.3 1173.7L917.5 1175.2L931.1 1185.2L937.1 1190.4L931.1 1200.2L915.3 1200.0L907.8 1190.4ZM851.8 1205.6L852.1 1205.4L859.6 1205.6L857.7 1220.8L852.1 1224.3L836.3 1222.9L835.3 1220.8L836.3 1219.7ZM868.4 1205.6L883.7 1200.4L899.5 1205.0L900.7 1205.6L903.9 1220.8L899.5 1228.3L883.7 1235.9L875.3 1220.8ZM944.1 1205.6L946.9 1204.6L951.2 1205.6L961.0 1220.8L962.7 1223.4L972.0 1220.8L978.5 1217.0L985.1 1205.6L994.3 1197.8L1009.3 1205.6L1008.4 1220.8L1010.1 1223.5L1018.6 1220.8L1025.9 1217.9L1028.4 1220.8L1041.3 1236.0L1041.7 1236.7L1042.4 1236.0L1057.5 1226.3L1068.4 1236.0L1073.3 1238.3L1083.5 1251.1L1085.1 1266.3L1079.9 1281.5L1073.3 1289.1L1065.2 1281.5L1057.5 1272.1L1041.7 1280.7L1040.3 1281.5L1025.9 1293.1L1010.1 1292.8L1002.7 1296.7L1010.1 1304.2L1017.0 1311.9L1010.1 1316.6L994.3 1313.5L983.2 1311.9L982.3 1296.7L978.5 1292.7L962.7 1282.0L962.3 1281.5L947.0 1266.3L946.9 1266.1L946.8 1266.3L937.5 1281.5L946.9 1294.2L950.1 1296.7L946.9 1298.9L937.2 1311.9L931.1 1317.8L916.1 1311.9L915.3 1311.7L899.5 1296.9L898.9 1296.7L883.7 1294.2L869.2 1296.7L867.9 1297.4L866.8 1296.7L867.9 1295.9L871.9 1281.5L867.9 1268.4L852.1 1271.6L847.5 1281.5L848.1 1296.7L836.3 1304.9L820.5 1299.3L814.3 1296.7L820.5 1287.4L821.5 1281.5L820.5 1280.1L814.9 1266.3L820.5 1258.7L836.3 1255.4L852.1 1263.7L857.1 1251.1L867.9 1241.1L881.1 1251.1L883.7 1257.7L887.7 1251.1L899.5 1240.2L915.3 1246.9L926.5 1236.0L931.1 1231.8L936.4 1220.8ZM1065.1 1205.6L1073.3 1198.2L1086.8 1205.6L1089.1 1206.7L1104.9 1210.5L1114.0 1220.8L1104.9 1230.8L1089.1 1234.3L1075.9 1220.8L1073.3 1216.2ZM946.9 1234.4L941.1 1236.0L946.9 1239.1L949.4 1236.0ZM994.3 1232.5L988.3 1236.0L994.3 1244.0L999.7 1236.0ZM787.5 1251.1L788.9 1249.8L790.7 1251.1L788.9 1253.1ZM1127.1 1266.3L1136.5 1255.3L1144.4 1266.3L1136.5 1273.8ZM1173.8 1296.7L1184.0 1289.0L1199.8 1286.3L1215.6 1293.9L1218.0 1296.7L1226.0 1311.9L1231.4 1322.8L1239.1 1327.0L1231.4 1331.5L1215.6 1335.2L1213.4 1327.0L1199.8 1315.6L1193.5 1311.9L1184.0 1306.5ZM1084.6 1311.9L1089.1 1307.5L1099.0 1311.9L1089.1 1318.8ZM898.9 1327.0L899.5 1326.7L915.3 1313.3L919.1 1327.0L915.3 1330.8L899.5 1327.5ZM1020.1 1327.0L1025.9 1319.4L1038.0 1327.0L1025.9 1332.2ZM926.8 1342.2L931.1 1338.2L940.8 1342.2L931.1 1345.0ZM1036.6 1342.2L1041.7 1330.8L1057.5 1337.7L1073.3 1336.6L1089.1 1334.0L1104.9 1330.2L1120.7 1327.2L1133.1 1342.2L1136.5 1346.6L1152.3 1345.0L1164.9 1342.2L1168.1 1340.5L1169.6 1342.2L1178.9 1357.4L1174.7 1372.6L1169.0 1387.8L1168.1 1389.0L1152.3 1396.5L1146.5 1403.0L1152.3 1406.8L1161.3 1418.1L1168.1 1431.2L1172.6 1418.1L1184.0 1406.9L1195.8 1418.1L1199.8 1425.1L1215.6 1429.4L1231.4 1421.6L1239.5 1433.3L1247.2 1443.9L1263.0 1435.9L1273.2 1448.5L1263.0 1458.7L1252.7 1463.7L1247.2 1467.4L1231.4 1468.0L1221.3 1463.7L1215.6 1461.4L1199.8 1450.1L1184.0 1461.2L1181.8 1463.7L1168.1 1471.0L1155.9 1463.7L1152.3 1451.2L1136.5 1448.6L1120.7 1460.5L1104.9 1456.3L1089.8 1448.5L1089.1 1447.5L1082.3 1448.5L1073.3 1454.7L1069.3 1463.7L1057.5 1467.3L1052.6 1463.7L1046.0 1448.5L1052.1 1433.3L1050.7 1418.1L1057.5 1417.6L1058.1 1418.1L1064.8 1433.3L1073.3 1446.5L1079.4 1433.3L1082.3 1418.1L1089.1 1408.9L1096.2 1418.1L1098.6 1433.3L1104.9 1437.8L1111.0 1433.3L1110.9 1418.1L1110.4 1403.0L1120.7 1393.8L1136.5 1390.8L1140.4 1387.8L1136.5 1386.0L1124.7 1372.6L1120.7 1370.5L1105.3 1372.6L1104.9 1372.7L1089.1 1381.2L1079.6 1372.6L1089.1 1364.0L1099.7 1357.4L1089.1 1348.1L1078.8 1357.4L1073.3 1363.1L1057.5 1358.5L1041.7 1363.1L1035.1 1357.4ZM1261.4 1342.2L1263.0 1340.0L1264.3 1342.2L1263.0 1347.9ZM1198.4 1372.6L1199.8 1370.4L1201.1 1372.6L1199.8 1374.9ZM927.7 1387.8L931.1 1385.8L934.0 1387.8L931.1 1389.7ZM882.8 1403.0L883.7 1402.4L885.8 1403.0L899.5 1406.3L909.9 1418.1L915.3 1421.8L931.1 1426.0L946.2 1418.1L937.7 1403.0L946.9 1392.6L959.6 1403.0L962.7 1409.1L978.5 1413.5L989.3 1403.0L994.3 1398.7L1006.9 1403.0L1010.1 1404.0L1025.9 1418.1L1025.9 1418.8L1027.8 1433.3L1025.9 1434.9L1020.3 1433.3L1010.1 1431.1L1005.8 1433.3L994.3 1440.8L978.5 1444.3L962.7 1434.5L946.9 1439.4L938.4 1448.5L931.1 1453.9L915.3 1457.2L899.5 1459.4L883.7 1456.0L867.9 1458.3L852.1 1453.1L846.1 1463.7L836.3 1474.3L825.7 1463.7L831.5 1448.5L822.6 1433.3L820.5 1430.6L815.7 1433.3L816.9 1448.5L814.8 1463.7L804.7 1469.8L788.9 1470.8L785.1 1463.7L778.4 1448.5L785.9 1433.3L788.9 1432.9L804.7 1423.5L808.0 1418.1L820.5 1406.2L833.4 1418.1L836.3 1420.3L845.4 1418.1L852.1 1414.2L867.9 1411.9ZM756.8 1418.1L757.3 1416.9L758.7 1418.1L763.4 1433.3L757.3 1439.7L745.5 1433.3ZM714.3 1448.5L725.7 1435.5L741.5 1439.3L745.8 1448.5L757.3 1450.2L763.6 1463.7L757.7 1478.9L761.1 1494.0L757.3 1499.9L741.5 1503.7L725.7 1495.3L709.9 1508.9L704.4 1494.0L705.0 1478.9L709.9 1478.1L725.7 1467.2L732.9 1463.7L725.7 1461.2ZM1231.4 1444.7L1228.4 1448.5L1231.4 1455.0L1238.4 1448.5ZM942.9 1463.7L946.9 1458.4L952.6 1463.7L946.9 1467.8ZM927.9 1494.0L931.1 1492.3L934.9 1494.0L931.1 1496.4Z"/>
<path stroke="#9f9f9f" stroke-width="5.0" d="M1132.6 932.3L1136.5 929.8L1139.5 932.3L1136.5 938.3ZM943.7 977.9L946.9 975.5L962.7 977.4L963.3 977.9L972.6 993.1L978.5 1008.2L994.3 1014.1L1010.1 1010.0L1012.9 1008.2L1025.9 997.6L1041.7 1006.0L1044.4 1008.2L1057.5 1021.7L1058.9 1023.4L1057.5 1024.4L1041.7 1033.1L1029.0 1038.6L1025.9 1040.4L1010.1 1044.6L1001.6 1038.6L994.3 1032.5L981.9 1038.6L994.3 1045.3L1000.9 1053.8L994.3 1062.0L982.3 1069.0L978.5 1073.1L969.0 1069.0L968.7 1053.8L975.5 1038.6L966.3 1023.4L962.7 1013.0L959.9 1008.2L946.9 993.9L931.1 1000.4L925.1 1008.2L915.3 1013.6L908.3 1008.2L915.3 999.7L924.4 993.1L931.1 988.2ZM1182.1 977.9L1184.0 975.4L1187.4 977.9L1184.0 981.3ZM1198.1 993.1L1199.8 991.6L1201.0 993.1L1202.0 1008.2L1199.8 1011.3L1194.5 1008.2ZM717.1 1023.4L725.7 1022.3L726.7 1023.4L725.7 1025.8ZM927.7 1053.8L931.1 1049.0L939.6 1053.8L931.1 1059.2ZM882.2 1069.0L883.7 1068.0L890.5 1069.0L883.7 1070.2ZM1004.6 1069.0L1010.1 1065.2L1013.6 1069.0L1010.1 1071.5ZM896.8 1084.2L899.5 1074.6L915.3 1083.5L931.1 1073.4L946.7 1084.2L946.9 1086.8L948.7 1099.3L946.9 1100.9L931.1 1105.2L924.9 1099.3L915.3 1084.9L905.0 1099.3L899.5 1105.9L884.3 1099.3ZM911.2 1190.4L915.3 1180.6L931.1 1190.0L931.6 1190.4L931.1 1191.2L915.3 1195.7ZM882.2 1205.6L883.7 1205.1L885.4 1205.6L891.3 1220.8L883.7 1224.2L881.8 1220.8ZM994.2 1205.6L994.3 1205.5L994.6 1205.6L1004.6 1220.8L1010.1 1229.4L1025.9 1226.2L1034.0 1236.0L1041.7 1248.5L1053.5 1236.0L1057.5 1233.4L1060.5 1236.0L1073.3 1242.1L1080.5 1251.1L1076.6 1266.3L1076.2 1281.5L1073.3 1284.8L1069.8 1281.5L1057.5 1266.4L1041.7 1272.6L1026.3 1281.5L1025.9 1281.8L1010.1 1287.9L994.3 1292.2L985.5 1281.5L978.5 1278.5L962.7 1276.2L952.6 1266.3L946.9 1253.8L942.2 1266.3L931.1 1281.0L930.5 1281.5L931.1 1282.1L942.9 1296.7L931.3 1311.9L931.1 1312.0L930.7 1311.9L915.3 1307.9L903.4 1296.7L899.5 1293.0L883.7 1291.1L874.8 1281.5L883.7 1267.4L885.0 1266.3L894.3 1251.1L899.5 1246.4L909.2 1251.1L915.3 1263.5L931.1 1254.8L943.4 1251.1L946.9 1249.0L956.5 1251.1L962.7 1252.2L978.5 1255.1L989.3 1266.3L994.3 1275.4L996.9 1266.3L994.6 1251.1L1004.7 1236.0L994.3 1229.4L982.8 1236.0L978.5 1247.0L962.7 1248.4L957.5 1236.0L962.7 1231.0L978.5 1228.3L981.9 1220.8ZM1070.6 1205.6L1073.3 1203.1L1077.8 1205.6L1073.3 1209.1ZM940.1 1220.8L946.9 1210.5L956.0 1220.8L946.9 1229.6ZM1079.9 1220.8L1089.1 1211.0L1104.9 1215.7L1109.4 1220.8L1104.9 1225.7L1089.1 1230.2ZM860.6 1251.1L867.9 1244.4L876.8 1251.1L867.9 1262.2ZM821.2 1266.3L836.3 1262.2L843.6 1266.3L839.3 1281.5L843.7 1296.7L836.3 1301.8L825.8 1296.7L832.4 1281.5ZM1179.9 1296.7L1184.0 1293.6L1193.8 1296.7L1184.0 1300.6ZM1203.1 1311.9L1215.6 1300.9L1221.9 1311.9L1215.6 1322.3ZM1070.3 1342.2L1073.3 1341.6L1081.0 1342.2L1073.3 1347.0ZM1098.7 1342.2L1104.9 1341.2L1120.7 1332.8L1128.5 1342.2L1136.5 1352.6L1152.3 1348.1L1168.1 1355.4L1169.3 1357.4L1170.9 1372.6L1168.1 1379.4L1161.2 1372.6L1152.3 1369.0L1143.9 1372.6L1136.5 1378.6L1131.3 1372.6L1120.7 1367.1L1106.6 1357.4L1104.9 1345.5ZM1039.2 1357.4L1041.7 1342.6L1047.9 1357.4L1041.7 1359.6ZM1084.9 1372.6L1089.1 1368.8L1096.1 1372.6L1089.1 1376.4ZM941.0 1403.0L946.9 1396.3L955.0 1403.0L946.9 1412.9ZM812.6 1418.1L820.5 1410.7L828.6 1418.1L836.3 1423.7L852.0 1433.3L836.3 1444.8L826.2 1433.3L820.5 1426.0ZM866.8 1418.1L867.9 1417.9L883.7 1413.3L899.5 1412.0L904.8 1418.1L915.3 1425.2L931.1 1432.8L933.4 1433.3L931.1 1436.7L927.4 1448.5L915.3 1452.4L899.5 1454.9L883.7 1451.3L867.9 1455.7L854.4 1448.5L867.9 1436.7L871.2 1433.3L867.9 1418.9ZM962.1 1418.1L962.7 1417.8L964.2 1418.1L978.5 1420.7L994.3 1430.2L994.8 1433.3L994.3 1433.7L978.5 1440.3L967.8 1433.3L962.7 1418.8ZM996.3 1418.1L1010.1 1410.2L1019.0 1418.1L1010.1 1425.5ZM1087.9 1418.1L1089.1 1416.5L1090.4 1418.1L1092.5 1433.3L1089.1 1438.4L1085.6 1433.3ZM1114.9 1418.1L1120.7 1403.9L1136.5 1404.9L1152.3 1413.9L1155.6 1418.1L1152.3 1425.3L1136.5 1426.4L1130.2 1433.3L1130.2 1448.5L1120.7 1455.6L1104.9 1453.1L1096.0 1448.5L1104.9 1442.2L1116.8 1433.3ZM1176.3 1418.1L1184.0 1410.5L1192.0 1418.1L1184.0 1430.6ZM800.8 1433.3L804.7 1431.0L807.3 1433.3L804.7 1443.1L803.6 1448.5L804.7 1451.5L808.8 1463.7L804.7 1466.2L794.7 1463.7L788.9 1461.4L781.6 1448.5L788.9 1437.8ZM899.5 1431.2L898.6 1433.3L899.5 1435.0L900.6 1433.3ZM1195.0 1433.3L1199.8 1432.0L1205.2 1433.3L1215.6 1436.2L1220.4 1433.3L1231.4 1428.0L1235.1 1433.3L1231.4 1438.5L1223.4 1448.5L1215.6 1456.4L1204.9 1448.5L1199.8 1436.3L1193.5 1448.5L1184.0 1455.4L1176.7 1463.7L1168.1 1468.3L1160.5 1463.7L1166.4 1448.5L1168.1 1446.8L1184.0 1437.5ZM718.6 1448.5L725.7 1440.4L735.8 1448.5L725.7 1456.4ZM1248.9 1448.5L1263.0 1440.0L1269.9 1448.5L1263.0 1455.4ZM751.0 1463.7L757.3 1461.0L758.5 1463.7L757.3 1466.8ZM831.2 1463.7L836.3 1455.9L841.0 1463.7L836.3 1468.8ZM718.5 1478.9L725.7 1473.9L732.8 1478.9L741.5 1483.8L753.6 1494.0L741.5 1500.3L730.9 1494.0L725.7 1485.6Z"/>
<path stroke="#bfbfbf" stroke-width="5.0" d="M912.2 1008.2L915.3 1004.5L919.6 1008.2L915.3 1010.6ZM1022.3 1008.2L1025.9 1005.2L1032.0 1008.2L1041.7 1012.7L1052.2 1023.4L1041.7 1029.2L1032.4 1023.4L1025.9 1012.4ZM970.8 1023.4L978.5 1013.9L994.3 1019.9L1010.1 1015.8L1018.9 1023.4L1014.5 1038.6L1010.1 1039.8L1008.4 1038.6L994.3 1026.9L978.5 1034.2ZM975.1 1053.8L978.5 1047.2L994.3 1051.5L996.1 1053.8L994.3 1056.0L978.5 1060.8ZM920.3 1084.2L931.1 1077.0L941.4 1084.2L934.5 1099.3L931.1 1100.4L930.0 1099.3ZM914.5 1190.4L915.3 1188.6L918.5 1190.4L915.3 1191.4ZM943.8 1220.8L946.9 1216.1L951.1 1220.8L946.9 1224.8ZM986.5 1220.8L994.3 1211.1L1000.9 1220.8L994.3 1226.2ZM1083.9 1220.8L1089.1 1215.2L1104.8 1220.8L1089.1 1226.1ZM1009.6 1236.0L1010.1 1235.3L1025.9 1235.1L1026.6 1236.0L1025.9 1238.1L1018.4 1251.1L1025.9 1254.5L1040.1 1266.3L1025.9 1276.5L1013.7 1281.5L1010.1 1282.9L1005.7 1281.5L1003.6 1266.3L1004.1 1251.1ZM864.1 1251.1L867.9 1247.6L872.6 1251.1L867.9 1256.9ZM1046.1 1251.1L1057.5 1239.6L1073.3 1245.9L1077.5 1251.1L1073.3 1261.7L1057.5 1261.3ZM890.7 1266.3L899.5 1253.1L909.4 1266.3L915.3 1272.9L921.5 1266.3L931.1 1259.7L937.5 1266.3L931.1 1274.8L923.4 1281.5L931.1 1288.9L937.4 1296.7L931.1 1304.9L915.3 1304.2L907.3 1296.7L899.5 1289.2L883.7 1287.9L877.8 1281.5L883.7 1272.1ZM958.3 1266.3L962.7 1260.1L975.8 1266.3L962.7 1270.7ZM832.1 1296.7L836.3 1288.9L839.3 1296.7L836.3 1298.8ZM1211.1 1311.9L1215.6 1307.9L1217.8 1311.9L1215.6 1315.6ZM1114.0 1342.2L1120.7 1338.4L1123.9 1342.2L1135.0 1357.4L1120.7 1363.7L1111.6 1357.4ZM1138.0 1357.4L1152.3 1351.2L1163.3 1357.4L1152.3 1365.1ZM944.3 1403.0L946.9 1400.0L950.5 1403.0L946.9 1407.3ZM817.2 1418.1L820.5 1415.1L823.8 1418.1L820.5 1421.4ZM897.9 1418.1L899.5 1417.8L899.8 1418.1L899.5 1418.9L893.6 1433.3L899.5 1444.7L906.8 1433.3L915.3 1428.6L924.7 1433.3L915.3 1446.7L910.2 1448.5L899.5 1450.3L891.8 1448.5L883.7 1445.9L880.7 1448.5L867.9 1453.1L859.3 1448.5L867.9 1441.0L875.4 1433.3L883.7 1421.5ZM1006.9 1418.1L1010.1 1416.3L1012.2 1418.1L1010.1 1419.8ZM1118.8 1418.1L1120.7 1413.5L1129.0 1418.1L1120.7 1427.3ZM1180.0 1418.1L1184.0 1414.2L1188.2 1418.1L1184.0 1424.7ZM829.9 1433.3L836.3 1427.2L846.3 1433.3L836.3 1440.6ZM974.0 1433.3L978.5 1428.0L985.4 1433.3L978.5 1436.3ZM722.8 1448.5L725.7 1445.2L729.8 1448.5L725.7 1451.7ZM784.8 1448.5L788.9 1442.4L797.2 1448.5L788.9 1455.8ZM1102.3 1448.5L1104.9 1446.6L1120.7 1439.4L1123.8 1448.5L1120.7 1450.8L1104.9 1449.9ZM1181.1 1448.5L1184.0 1446.7L1185.5 1448.5L1184.0 1449.6ZM1211.6 1448.5L1215.6 1443.9L1218.5 1448.5L1215.6 1451.4ZM1255.7 1448.5L1263.0 1444.1L1266.5 1448.5L1263.0 1452.1ZM1165.1 1463.7L1168.1 1457.2L1171.5 1463.7L1168.1 1465.5ZM736.6 1494.0L741.5 1489.3L747.0 1494.0L741.5 1496.9Z"/>
<path stroke="#dfdfdf" stroke-width="5.0" d="M975.4 1023.4L978.5 1019.5L988.6 1023.4L978.5 1027.8ZM1003.2 1023.4L1010.1 1021.6L1012.2 1023.4L1010.1 1027.8ZM1038.6 1023.4L1041.7 1019.8L1045.3 1023.4L1041.7 1025.4ZM925.9 1084.2L931.1 1080.7L936.1 1084.2L931.1 1092.5ZM991.0 1220.8L994.3 1216.6L997.1 1220.8L994.3 1223.1ZM1087.9 1220.8L1089.1 1219.5L1092.8 1220.8L1089.1 1222.0ZM1051.8 1251.1L1057.5 1245.4L1073.3 1249.7L1074.5 1251.1L1073.3 1254.0L1057.5 1256.2ZM896.5 1266.3L899.5 1261.8L902.9 1266.3L915.3 1280.4L916.4 1281.5L931.1 1295.7L931.9 1296.7L931.1 1297.7L915.3 1300.4L911.3 1296.7L899.5 1285.3L883.7 1284.7L880.7 1281.5L883.7 1276.8ZM928.5 1266.3L931.1 1264.5L932.8 1266.3L931.1 1268.6ZM1010.4 1266.3L1025.9 1260.4L1033.0 1266.3L1025.9 1271.4ZM1116.6 1357.4L1120.7 1346.5L1127.2 1357.4L1120.7 1360.3ZM1145.2 1357.4L1152.3 1354.3L1157.8 1357.4L1152.3 1361.3ZM833.5 1433.3L836.3 1430.7L840.6 1433.3L836.3 1436.5ZM879.5 1433.3L883.7 1427.4L888.7 1433.3L883.7 1439.6ZM913.0 1433.3L915.3 1432.0L917.9 1433.3L915.3 1437.0ZM787.9 1448.5L788.9 1447.1L790.8 1448.5L788.9 1450.2ZM864.2 1448.5L867.9 1445.3L873.4 1448.5L867.9 1450.5Z"/>
<path stroke="#000" stroke-width="6.0" d="M994.3 735.0L1010.1 735.0L1025.9 750.2L1025.9 765.4L1041.7 765.4L1057.5 750.2L1073.3 765.4L1089.1 765.4L1104.9 765.4L1120.7 765.4L1136.5 765.4L1152.3 765.4L1168.1 765.4L1184.0 780.5L1184.0 795.7L1168.1 810.9L1184.0 810.9L1199.8 810.9L1215.6 810.9L1231.4 810.9L1247.2 810.9L1263.0 810.9L1278.8 826.1L1294.6 810.9L1310.4 810.9L1326.2 795.7L1342.0 795.7L1357.8 780.5L1373.6 780.5L1389.4 780.5L1405.2 795.7L1421.0 795.7L1436.8 780.5L1452.6 795.7L1436.8 810.9L1452.6 826.1L1468.4 810.9L1484.2 810.9L1500.0 810.9L1515.8 826.1L1500.0 841.3L1484.2 841.3L1500.0 841.3L1515.8 856.4L1531.6 856.4L1547.4 871.6L1547.4 886.8L1563.2 886.8L1579.0 871.6L1594.8 886.8L1594.8 902.0L1594.8 917.2L1579.0 932.3L1563.2 917.2L1547.4 932.3L1531.6 917.2L1515.8 917.2L1500.0 932.3L1500.0 947.5L1500.0 962.7L1515.8 977.9L1531.6 993.1L1547.4 1008.2L1531.6 1023.4L1515.8 1008.2L1500.0 993.1L1484.2 993.1L1468.4 993.1L1452.6 1008.2L1436.8 1008.2L1421.0 1008.2L1405.2 1008.2L1389.4 1008.2L1373.6 1008.2L1373.6 1023.4L1389.4 1008.2L1405.2 1023.4L1421.0 1038.6L1436.8 1053.8L1421.0 1069.0L1421.0 1084.2L1436.8 1084.2L1452.6 1099.3L1452.6 1114.5L1436.8 1129.7L1421.0 1129.7L1405.2 1144.9L1389.4 1129.7L1373.6 1144.9L1357.8 1144.9L1342.0 1144.9L1326.2 1129.7L1310.4 1129.7L1294.6 1114.5L1278.8 1129.7L1263.0 1129.7L1247.2 1114.5L1247.2 1129.7L1263.0 1129.7L1278.8 1144.9L1263.0 1160.1L1247.2 1160.1L1263.0 1175.2L1278.8 1175.2L1294.6 1175.2L1310.4 1190.4L1310.4 1205.6L1310.4 1220.8L1326.2 1220.8L1310.4 1205.6L1310.4 1190.4L1326.2 1175.2L1342.0 1175.2L1357.8 1190.4L1342.0 1205.6L1357.8 1205.6L1373.6 1190.4L1389.4 1190.4L1405.2 1190.4L1421.0 1175.2L1436.8 1190.4L1421.0 1205.6L1436.8 1205.6L1452.6 1220.8L1468.4 1220.8L1484.2 1220.8L1500.0 1236.0L1500.0 1251.1L1500.0 1266.3L1500.0 1281.5L1484.2 1296.7L1500.0 1296.7L1515.8 1281.5L1531.6 1281.5L1547.4 1296.7L1563.2 1281.5L1579.0 1281.5L1594.8 1296.7L1594.8 1311.9L1610.6 1311.9L1626.4 1296.7L1642.2 1311.9L1658.0 1296.7L1673.8 1281.5L1689.6 1296.7L1673.8 1311.9L1689.6 1311.9L1705.5 1296.7L1721.3 1296.7L1737.1 1296.7L1752.9 1311.9L1768.7 1311.9L1784.5 1327.0M867.9 841.3L867.9 856.4L883.7 856.4ZM899.5 917.2L915.3 917.2ZM1278.8 917.2L1278.8 932.3ZM1310.4 947.5L1310.4 962.7ZM1421.0 947.5L1405.2 962.7L1405.2 977.9L1421.0 962.7L1436.8 947.5ZM393.8 1053.8L409.6 1053.8L425.4 1038.6L441.2 1023.4L457.0 1038.6L472.8 1038.6L488.6 1038.6L504.4 1038.6L520.2 1053.8L536.0 1038.6L520.2 1023.4L536.0 1008.2L551.8 1023.4L567.6 1008.2L583.4 1008.2L599.2 1008.2L583.4 1008.2L567.6 1008.2L551.8 993.1L567.6 977.9L583.4 977.9L567.6 977.9L551.8 977.9L536.0 977.9L520.2 962.7L504.4 977.9L488.6 962.7L488.6 947.5L504.4 932.3L520.2 932.3L536.0 917.2L551.8 917.2L551.8 902.0L567.6 886.8L583.4 886.8L599.2 886.8L615.0 886.8L630.8 886.8L646.6 886.8L662.5 871.6L678.3 886.8L662.5 902.0L678.3 902.0L678.3 886.8L694.1 871.6L709.9 886.8L725.7 886.8L741.5 902.0L757.3 902.0L773.1 902.0L788.9 902.0L804.7 902.0L820.5 886.8L836.3 902.0L852.1 902.0L852.1 886.8L852.1 871.6L836.3 886.8L820.5 871.6L804.7 856.4L820.5 841.3L836.3 826.1L852.1 810.9L867.9 810.9L883.7 810.9L899.5 810.9L883.7 795.7L867.9 810.9L852.1 810.9L836.3 795.7L820.5 780.5L820.5 765.4L836.3 750.2L820.5 735.0M1057.5 1129.7L1073.3 1129.7L1089.1 1144.9L1104.9 1129.7L1120.7 1129.7L1104.9 1129.7L1089.1 1129.7L1073.3 1129.7ZM1436.8 1266.3L1452.6 1266.3L1468.4 1281.5L1468.4 1266.3L1452.6 1266.3ZM1326.2 1296.7L1326.2 1311.9L1342.0 1296.7L1357.8 1311.9L1373.6 1311.9L1389.4 1311.9L1405.2 1311.9L1421.0 1311.9L1436.8 1311.9L1452.6 1311.9L1452.6 1296.7L1436.8 1311.9L1421.0 1296.7L1405.2 1296.7L1389.4 1311.9L1373.6 1311.9L1357.8 1296.7L1342.0 1296.7ZM1784.5 1357.4L1768.7 1342.2L1752.9 1342.2L1737.1 1357.4L1721.3 1357.4L1721.3 1372.6L1737.1 1387.8L1721.3 1403.0L1705.5 1387.8L1689.6 1387.8L1673.8 1403.0L1658.0 1403.0L1673.8 1403.0L1689.6 1403.0L1705.5 1403.0L1721.3 1418.1L1721.3 1433.3L1705.5 1448.5L1689.6 1448.5L1673.8 1463.7L1658.0 1463.7L1642.2 1463.7L1626.4 1463.7L1642.2 1463.7L1658.0 1478.9L1673.8 1478.9L1689.6 1494.0L1705.5 1509.2L1705.5 1524.4L1705.5 1539.6L1689.6 1554.8L1673.8 1539.6L1673.8 1524.4L1673.8 1509.2L1673.8 1524.4L1673.8 1539.6L1673.8 1554.8L1658.0 1569.9L1642.2 1554.8L1626.4 1554.8L1610.6 1539.6L1610.6 1524.4L1594.8 1524.4L1579.0 1524.4L1563.2 1524.4L1547.4 1524.4L1531.6 1509.2L1515.8 1509.2L1500.0 1524.4L1484.2 1539.6L1468.4 1539.6L1452.6 1554.8L1436.8 1539.6L1421.0 1539.6L1405.2 1554.8L1389.4 1569.9L1373.6 1569.9L1357.8 1569.9L1342.0 1554.8L1326.2 1554.8L1310.4 1554.8L1294.6 1554.8L1278.8 1554.8L1263.0 1569.9L1247.2 1569.9L1263.0 1585.1L1263.0 1600.3L1247.2 1615.5L1231.4 1615.5L1215.6 1615.5L1199.8 1615.5L1184.0 1615.5L1168.1 1600.3L1152.3 1615.5L1136.5 1615.5L1120.7 1615.5L1104.9 1615.5L1120.7 1630.7L1136.5 1630.7L1152.3 1630.7L1168.1 1615.5L1184.0 1630.7L1199.8 1645.9L1199.8 1661.0L1215.6 1645.9L1231.4 1661.0L1231.4 1676.2L1247.2 1661.0L1263.0 1676.2L1278.8 1676.2L1294.6 1661.0L1310.4 1676.2L1310.4 1691.4L1310.4 1676.2L1326.2 1661.0L1342.0 1676.2L1342.0 1691.4L1357.8 1676.2L1373.6 1676.2L1389.4 1691.4L1389.4 1706.6L1405.2 1706.6L1421.0 1721.8L1436.8 1706.6L1452.6 1721.8L1468.4 1706.6L1484.2 1706.6L1500.0 1721.8L1515.8 1721.8L1531.6 1721.8L1547.4 1721.8L1563.2 1736.9L1579.0 1736.9L1594.8 1736.9L1610.6 1736.9L1626.4 1752.1L1642.2 1752.1L1658.0 1752.1L1673.8 1752.1L1689.6 1767.3L1705.5 1752.1L1721.3 1752.1L1737.1 1752.1L1752.9 1767.3L1752.9 1782.5L1768.7 1767.3L1784.5 1782.5L1768.7 1797.7L1752.9 1812.8L1737.1 1812.8L1721.3 1812.8L1705.5 1812.8L1689.6 1812.8L1673.8 1812.8L1658.0 1828.0L1642.2 1828.0L1642.2 1843.2L1642.2 1858.4L1626.4 1873.6L1610.6 1858.4L1594.8 1858.4L1579.0 1843.2L1563.2 1843.2L1547.4 1843.2L1531.6 1843.2L1515.8 1858.4L1500.0 1858.4L1500.0 1873.6L1500.0 1888.7L1484.2 1903.9L1484.2 1919.1L1500.0 1903.9L1515.8 1888.7L1531.6 1903.9L1531.6 1919.1L1547.4 1903.9L1563.2 1903.9L1579.0 1919.1L1579.0 1934.3L1594.8 1949.5L1610.6 1934.3L1626.4 1949.5L1642.2 1964.7L1642.2 1979.8L1658.0 1995.0L1658.0 2010.2L1673.8 2010.2L1689.6 1995.0L1705.5 2010.2L1721.3 2025.4L1705.5 2040.6L1689.6 2025.4L1689.6 2040.6L1673.8 2055.7L1658.0 2055.7L1642.2 2040.6L1626.4 2040.6L1642.2 2055.7L1626.4 2070.9M1594.8 1448.5L1610.6 1448.5ZM1452.6 1494.0L1436.8 1509.2L1452.6 1524.4L1452.6 1509.2L1468.4 1494.0ZM1199.8 1539.6L1215.6 1539.6ZM1073.3 1615.5L1057.5 1630.7L1073.3 1630.7ZM678.3 1736.9L678.3 1752.1L694.1 1752.1L709.9 1767.3L709.9 1782.5L709.9 1797.7L725.7 1782.5L741.5 1782.5L757.3 1782.5L773.1 1797.7L773.1 1812.8L788.9 1828.0L804.7 1828.0L788.9 1812.8L804.7 1797.7L820.5 1812.8L836.3 1797.7L852.1 1797.7L867.9 1797.7L883.7 1812.8L883.7 1828.0L899.5 1843.2L915.3 1843.2L931.1 1843.2L931.1 1828.0L931.1 1812.8L931.1 1797.7L946.9 1782.5L946.9 1767.3L931.1 1782.5L915.3 1782.5L899.5 1782.5L883.7 1767.3L867.9 1782.5L852.1 1767.3L852.1 1752.1L852.1 1767.3L836.3 1782.5L820.5 1767.3L804.7 1767.3L788.9 1767.3L773.1 1752.1L757.3 1752.1L741.5 1752.1L725.7 1752.1L709.9 1752.1L694.1 1752.1ZM1294.6 1752.1L1294.6 1767.3L1278.8 1782.5L1263.0 1782.5L1247.2 1782.5L1231.4 1797.7L1215.6 1782.5L1199.8 1767.3L1184.0 1767.3L1168.1 1767.3L1152.3 1767.3L1152.3 1782.5L1152.3 1797.7L1168.1 1797.7L1184.0 1812.8L1199.8 1812.8L1215.6 1812.8L1231.4 1812.8L1247.2 1797.7L1263.0 1812.8L1247.2 1828.0L1263.0 1828.0L1278.8 1812.8L1294.6 1828.0L1294.6 1843.2L1310.4 1843.2L1326.2 1858.4L1326.2 1843.2L1342.0 1828.0L1357.8 1812.8L1373.6 1828.0L1389.4 1812.8L1405.2 1812.8L1421.0 1812.8L1405.2 1797.7L1389.4 1782.5L1373.6 1797.7L1357.8 1797.7L1342.0 1782.5L1326.2 1782.5L1310.4 1767.3ZM1041.7 1767.3L1025.9 1782.5L1010.1 1782.5L994.3 1782.5L1010.1 1782.5L1025.9 1797.7L1025.9 1812.8L1025.9 1828.0L1025.9 1812.8L1041.7 1797.7L1057.5 1812.8L1073.3 1812.8L1057.5 1797.7L1073.3 1782.5L1057.5 1767.3ZM962.7 1797.7L978.5 1797.7ZM1120.7 1797.7L1104.9 1812.8L1120.7 1812.8ZM1642.2 1843.2L1658.0 1828.0L1673.8 1843.2L1658.0 1858.4ZM1168.1 1873.6L1168.1 1888.7L1184.0 1873.6ZM1231.4 1873.6L1215.6 1888.7L1199.8 1888.7L1215.6 1888.7L1231.4 1888.7L1247.2 1873.6ZM1594.8 1903.9L1610.6 1888.7L1626.4 1903.9L1610.6 1919.1ZM1452.6 2070.9L1468.4 2055.7L1452.6 2055.7L1436.8 2040.6L1421.0 2055.7L1405.2 2040.6L1389.4 2055.7L1373.6 2040.6L1357.8 2040.6L1342.0 2040.6L1326.2 2025.4L1310.4 2025.4L1294.6 2010.2L1310.4 1995.0L1294.6 1995.0L1278.8 1995.0L1263.0 1995.0L1247.2 1995.0L1231.4 1979.8L1215.6 1964.7L1199.8 1979.8L1184.0 1964.7L1199.8 1949.5L1184.0 1934.3L1184.0 1919.1L1184.0 1934.3L1168.1 1949.5L1152.3 1949.5L1136.5 1949.5L1120.7 1949.5L1104.9 1949.5L1089.1 1934.3L1089.1 1919.1L1104.9 1903.9L1089.1 1888.7L1073.3 1903.9L1057.5 1903.9L1041.7 1888.7L1025.9 1888.7L1010.1 1888.7L994.3 1888.7L978.5 1888.7L962.7 1873.6L962.7 1888.7L946.9 1903.9L931.1 1919.1L915.3 1919.1L899.5 1903.9L899.5 1919.1L883.7 1934.3L867.9 1934.3L852.1 1934.3L836.3 1934.3L820.5 1949.5L804.7 1949.5L788.9 1949.5L773.1 1949.5L757.3 1934.3L757.3 1919.1L741.5 1934.3L725.7 1919.1L741.5 1903.9L725.7 1903.9L709.9 1888.7L709.9 1873.6L694.1 1888.7L678.3 1873.6L662.5 1888.7L646.6 1873.6L646.6 1858.4L630.8 1858.4L615.0 1858.4L599.2 1858.4L583.4 1873.6L567.6 1858.4L551.8 1843.2L536.0 1843.2L520.2 1843.2L504.4 1843.2L488.6 1843.2L472.8 1828.0L472.8 1812.8L457.0 1812.8L441.2 1812.8L425.4 1797.7L425.4 1782.5L441.2 1767.3L457.0 1767.3L472.8 1752.1L488.6 1767.3L504.4 1782.5L504.4 1767.3L520.2 1752.1L536.0 1752.1L536.0 1736.9L551.8 1721.8L567.6 1736.9L583.4 1721.8L583.4 1706.6L583.4 1691.4L599.2 1676.2L615.0 1661.0L630.8 1661.0L646.6 1661.0L662.5 1661.0L678.3 1661.0L694.1 1661.0L709.9 1645.9L725.7 1645.9L741.5 1645.9L741.5 1630.7L741.5 1615.5L757.3 1600.3L773.1 1600.3L757.3 1600.3L741.5 1585.1L725.7 1569.9L725.7 1585.1L709.9 1600.3L694.1 1585.1L694.1 1569.9L678.3 1569.9L662.5 1585.1L646.6 1569.9L630.8 1569.9L615.0 1585.1L599.2 1585.1L583.4 1585.1L567.6 1569.9L551.8 1585.1L536.0 1569.9L536.0 1554.8L520.2 1554.8L504.4 1539.6L504.4 1524.4L488.6 1509.2L504.4 1494.0L520.2 1478.9L536.0 1478.9L551.8 1463.7L567.6 1463.7L551.8 1463.7L536.0 1463.7L520.2 1463.7L504.4 1478.9L488.6 1463.7L488.6 1448.5L488.6 1433.3L504.4 1418.1L520.2 1403.0L536.0 1403.0L551.8 1403.0L567.6 1403.0L583.4 1403.0L599.2 1403.0L615.0 1418.1L630.8 1403.0L615.0 1403.0L599.2 1403.0L583.4 1387.8L567.6 1372.6L551.8 1357.4L567.6 1342.2L583.4 1327.0L599.2 1311.9L615.0 1311.9L630.8 1311.9L646.6 1311.9L662.5 1311.9L678.3 1311.9L694.1 1311.9L709.9 1311.9L694.1 1296.7L694.1 1281.5L678.3 1281.5L662.5 1296.7L646.6 1281.5L646.6 1266.3L630.8 1266.3L615.0 1251.1L599.2 1236.0L583.4 1251.1L567.6 1236.0L551.8 1236.0L536.0 1236.0L520.2 1251.1L504.4 1251.1L488.6 1236.0L472.8 1251.1L457.0 1236.0L457.0 1220.8L457.0 1205.6L441.2 1190.4L425.4 1175.2L409.6 1160.1L425.4 1144.9L409.6 1129.7L393.8 1129.7M1563.2 2070.9L1547.4 2055.7L1531.6 2040.6L1531.6 2055.7L1531.6 2070.9"/>
</g>
<g shape-rendering="crispEdges">
<rect x="394" y="597" width="8" height="3.5" fill="#166b41"/><rect x="402" y="598" width="8" height="2.5" fill="#166b41"/><rect x="410" y="598" width="7" height="2.5" fill="#166b41"/><rect x="417" y="592" width="8" height="8.5" fill="#166b41"/><rect x="425" y="592" width="8" height="8.5" fill="#166b41"/><rect x="433" y="592" width="8" height="8.5" fill="#166b41"/><rect x="441" y="589" width="8" height="11.5" fill="#0a4e5d"/><rect x="449" y="581" width="8" height="19.5" fill="#0f5b50"/><rect x="457" y="581" width="8" height="19.5" fill="#0f5b50"/><rect x="465" y="583" width="8" height="17.5" fill="#146844"/><rect x="473" y="581" width="8" height="19.5" fill="#0f5b50"/><rect x="481" y="581" width="8" height="19.5" fill="#074566"/><rect x="489" y="570" width="7" height="30.5" fill="#0a4e5d"/><rect x="496" y="576" width="8" height="24.5" fill="#05406a"/><rect x="504" y="570" width="8" height="30.5" fill="#074664"/><rect x="512" y="565" width="8" height="35.5" fill="#074664"/><rect x="520" y="559" width="8" height="41.5" fill="#043d6d"/><rect x="528" y="561" width="8" height="39.5" fill="#043d6d"/><rect x="536" y="558" width="8" height="42.5" fill="#093b72"/><rect x="544" y="556" width="8" height="44.5" fill="#093b72"/><rect x="552" y="542" width="8" height="58.5" fill="#1f397b"/><rect x="560" y="542" width="8" height="58.5" fill="#1f397b"/><rect x="568" y="527" width="7" height="73.5" fill="#153a77"/><rect x="575" y="527" width="8" height="73.5" fill="#1d397a"/><rect x="583" y="519" width="8" height="81.5" fill="#1d397a"/><rect x="591" y="499" width="8" height="101.5" fill="#193978"/><rect x="599" y="504" width="8" height="96.5" fill="#133a76"/><rect x="607" y="488" width="8" height="112.5" fill="#133a76"/><rect x="615" y="499" width="8" height="101.5" fill="#133a76"/><rect x="623" y="488" width="8" height="112.5" fill="#133a76"/><rect x="631" y="453" width="8" height="147.5" fill="#0f3a74"/><rect x="639" y="460" width="8" height="140.5" fill="#0f3a74"/><rect x="647" y="454" width="7" height="146.5" fill="#0f3a74"/><rect x="654" y="448" width="8" height="152.5" fill="#0f3a74"/><rect x="662" y="444" width="8" height="156.5" fill="#053b70"/><rect x="670" y="445" width="8" height="155.5" fill="#053b70"/><rect x="678" y="456" width="8" height="144.5" fill="#053b70"/><rect x="686" y="448" width="8" height="152.5" fill="#043e6c"/><rect x="694" y="423" width="8" height="177.5" fill="#043e6c"/><rect x="702" y="417" width="8" height="183.5" fill="#043e6c"/><rect x="710" y="411" width="8" height="189.5" fill="#043e6c"/><rect x="718" y="415" width="8" height="185.5" fill="#043e6c"/><rect x="726" y="385" width="7" height="215.5" fill="#043e6c"/><rect x="733" y="415" width="8" height="185.5" fill="#043e6c"/><rect x="741" y="402" width="8" height="198.5" fill="#053b70"/><rect x="749" y="402" width="8" height="198.5" fill="#053b70"/><rect x="757" y="380" width="8" height="220.5" fill="#053b70"/><rect x="765" y="369" width="8" height="231.5" fill="#053b70"/><rect x="773" y="397" width="8" height="203.5" fill="#053b70"/><rect x="781" y="362" width="8" height="238.5" fill="#053b70"/><rect x="789" y="327" width="8" height="273.5" fill="#053b70"/><rect x="797" y="349" width="8" height="251.5" fill="#053b70"/><rect x="805" y="313" width="7" height="287.5" fill="#053b70"/><rect x="812" y="309" width="8" height="291.5" fill="#053b70"/><rect x="820" y="263" width="8" height="337.5" fill="#053b70"/><rect x="828" y="252" width="8" height="348.5" fill="#053b70"/><rect x="836" y="244" width="8" height="356.5" fill="#053b70"/><rect x="844" y="228" width="8" height="372.5" fill="#0d3a73"/><rect x="852" y="280" width="8" height="320.5" fill="#0d3a73"/><rect x="860" y="272" width="8" height="328.5" fill="#0d3a73"/><rect x="868" y="266" width="8" height="334.5" fill="#0d3a73"/><rect x="876" y="269" width="8" height="331.5" fill="#0d3a73"/><rect x="884" y="278" width="7" height="322.5" fill="#053b70"/><rect x="891" y="229" width="8" height="371.5" fill="#053b70"/><rect x="899" y="269" width="8" height="331.5" fill="#053b70"/><rect x="907" y="241" width="8" height="359.5" fill="#053b70"/><rect x="915" y="223" width="8" height="377.5" fill="#053b70"/><rect x="923" y="193" width="8" height="407.5" fill="#053b70"/><rect x="931" y="187" width="8" height="413.5" fill="#053b70"/><rect x="939" y="239" width="8" height="361.5" fill="#053b70"/><rect x="947" y="180" width="8" height="420.5" fill="#053b70"/><rect x="955" y="164" width="8" height="436.5" fill="#053b70"/><rect x="963" y="189" width="7" height="411.5" fill="#053b70"/><rect x="970" y="195" width="8" height="405.5" fill="#053b70"/><rect x="978" y="212" width="8" height="388.5" fill="#053b70"/><rect x="986" y="199" width="8" height="401.5" fill="#053b70"/><rect x="994" y="204" width="8" height="396.5" fill="#053b70"/><rect x="1002" y="205" width="8" height="395.5" fill="#053b70"/><rect x="1010" y="193" width="8" height="407.5" fill="#053b70"/><rect x="1018" y="198" width="8" height="402.5" fill="#053b70"/><rect x="1026" y="216" width="8" height="384.5" fill="#053b70"/><rect x="1034" y="244" width="8" height="356.5" fill="#053b70"/><rect x="1042" y="259" width="7" height="341.5" fill="#043e6c"/><rect x="1049" y="227" width="8" height="373.5" fill="#043e6c"/><rect x="1057" y="229" width="8" height="371.5" fill="#043e6c"/><rect x="1065" y="206" width="8" height="394.5" fill="#043e6c"/><rect x="1073" y="205" width="8" height="395.5" fill="#043e6c"/><rect x="1081" y="236" width="8" height="364.5" fill="#043e6c"/><rect x="1089" y="186" width="8" height="414.5" fill="#043e6c"/><rect x="1097" y="186" width="8" height="414.5" fill="#043e6c"/><rect x="1105" y="201" width="8" height="399.5" fill="#043e6c"/><rect x="1113" y="210" width="8" height="390.5" fill="#043e6c"/><rect x="1121" y="165" width="7" height="435.5" fill="#033b6f"/><rect x="1128" y="181" width="8" height="419.5" fill="#054169"/><rect x="1136" y="198" width="8" height="402.5" fill="#054169"/><rect x="1144" y="223" width="8" height="377.5" fill="#053b70"/><rect x="1152" y="252" width="8" height="348.5" fill="#054169"/><rect x="1160" y="243" width="8" height="357.5" fill="#054169"/><rect x="1168" y="236" width="8" height="364.5" fill="#054169"/><rect x="1176" y="275" width="8" height="325.5" fill="#054169"/><rect x="1184" y="276" width="8" height="324.5" fill="#054169"/><rect x="1192" y="322" width="8" height="278.5" fill="#054169"/><rect x="1200" y="309" width="7" height="291.5" fill="#054169"/><rect x="1207" y="302" width="8" height="298.5" fill="#054169"/><rect x="1215" y="368" width="8" height="232.5" fill="#043d6d"/><rect x="1223" y="355" width="8" height="245.5" fill="#074664"/><rect x="1231" y="368" width="8" height="232.5" fill="#074664"/><rect x="1239" y="338" width="8" height="262.5" fill="#074664"/><rect x="1247" y="384" width="8" height="216.5" fill="#043d6d"/><rect x="1255" y="379" width="8" height="221.5" fill="#043d6d"/><rect x="1263" y="376" width="8" height="224.5" fill="#043d6d"/><rect x="1271" y="412" width="8" height="188.5" fill="#043d6d"/><rect x="1279" y="403" width="7" height="197.5" fill="#043d6d"/><rect x="1286" y="421" width="8" height="179.5" fill="#043d6d"/><rect x="1294" y="430" width="8" height="170.5" fill="#043d6d"/><rect x="1302" y="410" width="8" height="190.5" fill="#074664"/><rect x="1310" y="451" width="8" height="149.5" fill="#053b70"/><rect x="1318" y="464" width="8" height="136.5" fill="#053b70"/><rect x="1326" y="471" width="8" height="129.5" fill="#053b70"/><rect x="1334" y="466" width="8" height="134.5" fill="#053b70"/><rect x="1342" y="448" width="8" height="152.5" fill="#053b70"/><rect x="1350" y="432" width="8" height="168.5" fill="#0f3a74"/><rect x="1358" y="431" width="7" height="169.5" fill="#0f3a74"/><rect x="1365" y="435" width="8" height="165.5" fill="#0f3a74"/><rect x="1373" y="476" width="8" height="124.5" fill="#053b70"/><rect x="1381" y="440" width="8" height="160.5" fill="#0f3a74"/><rect x="1389" y="441" width="8" height="159.5" fill="#053b70"/><rect x="1397" y="445" width="8" height="155.5" fill="#053b70"/><rect x="1405" y="439" width="8" height="161.5" fill="#0b3a72"/><rect x="1413" y="452" width="8" height="148.5" fill="#0b3a72"/><rect x="1421" y="480" width="8" height="120.5" fill="#0b3a72"/><rect x="1429" y="491" width="8" height="109.5" fill="#0b3a72"/><rect x="1437" y="499" width="7" height="101.5" fill="#064367"/><rect x="1444" y="512" width="8" height="88.5" fill="#0f3a74"/><rect x="1452" y="510" width="8" height="90.5" fill="#05406a"/><rect x="1460" y="480" width="8" height="120.5" fill="#053b70"/><rect x="1468" y="502" width="8" height="98.5" fill="#064367"/><rect x="1476" y="499" width="8" height="101.5" fill="#064367"/><rect x="1484" y="494" width="8" height="106.5" fill="#0a4d5e"/><rect x="1492" y="482" width="8" height="118.5" fill="#043d6d"/><rect x="1500" y="509" width="8" height="91.5" fill="#064367"/><rect x="1508" y="489" width="8" height="111.5" fill="#033b6f"/><rect x="1516" y="498" width="7" height="102.5" fill="#0a4e5d"/><rect x="1523" y="499" width="8" height="101.5" fill="#0a4e5d"/><rect x="1531" y="513" width="8" height="87.5" fill="#064367"/><rect x="1539" y="502" width="8" height="98.5" fill="#0a4d5e"/><rect x="1547" y="507" width="8" height="93.5" fill="#064367"/><rect x="1555" y="522" width="8" height="78.5" fill="#053b70"/><rect x="1563" y="530" width="8" height="70.5" fill="#053b70"/><rect x="1571" y="537" width="8" height="63.5" fill="#0a4d5e"/><rect x="1579" y="529" width="8" height="71.5" fill="#05406a"/><rect x="1587" y="533" width="8" height="67.5" fill="#084863"/><rect x="1595" y="546" width="7" height="54.5" fill="#113a75"/><rect x="1602" y="555" width="8" height="45.5" fill="#073b71"/><rect x="1610" y="548" width="8" height="52.5" fill="#073b71"/><rect x="1618" y="572" width="8" height="28.5" fill="#073b71"/><rect x="1626" y="568" width="8" height="32.5" fill="#054169"/><rect x="1634" y="558" width="8" height="42.5" fill="#0c5159"/><rect x="1642" y="560" width="8" height="40.5" fill="#084863"/><rect x="1650" y="578" width="8" height="22.5" fill="#166b41"/><rect x="1658" y="575" width="8" height="25.5" fill="#115e4d"/><rect x="1666" y="573" width="8" height="27.5" fill="#0d5556"/><rect x="1674" y="572" width="7" height="28.5" fill="#176e3e"/><rect x="1681" y="578" width="8" height="22.5" fill="#156942"/><rect x="1689" y="584" width="8" height="16.5" fill="#12614a"/><rect x="1697" y="584" width="8" height="16.5" fill="#176e3e"/><rect x="1705" y="589" width="8" height="11.5" fill="#12614a"/><rect x="1713" y="588" width="8" height="12.5" fill="#176e3e"/><rect x="1721" y="589" width="8" height="11.5" fill="#054169"/><rect x="1729" y="590" width="8" height="10.5" fill="#115e4d"/><rect x="1737" y="590" width="8" height="10.5" fill="#093b72"/><rect x="1745" y="592" width="8" height="8.5" fill="#25387d"/><rect x="1753" y="598" width="7" height="2.5" fill="#0d3a73"/><rect x="1768" y="596" width="8" height="4.5" fill="#663399"/>
<rect x="1920.5" y="721" width="7.5" height="7" fill="#0e5853"/><rect x="1920.5" y="728" width="11.5" height="8" fill="#0e5853"/><rect x="1920.5" y="736" width="14.5" height="7" fill="#0e5853"/><rect x="1920.5" y="743" width="37.5" height="8" fill="#0e5853"/><rect x="1920.5" y="751" width="55.5" height="7" fill="#0e5853"/><rect x="1920.5" y="758" width="41.5" height="8" fill="#0e5853"/><rect x="1920.5" y="766" width="34.5" height="7" fill="#0e5853"/><rect x="1920.5" y="773" width="26.5" height="8" fill="#0e5853"/><rect x="1920.5" y="781" width="18.5" height="8" fill="#0e5853"/><rect x="1920.5" y="789" width="36.5" height="7" fill="#0e5853"/><rect x="1920.5" y="796" width="26.5" height="8" fill="#0e5853"/><rect x="1920.5" y="804" width="37.5" height="7" fill="#0e5853"/><rect x="1920.5" y="811" width="59.5" height="8" fill="#0e5853"/><rect x="1920.5" y="819" width="67.5" height="8" fill="#0e5853"/><rect x="1920.5" y="827" width="83.5" height="7" fill="#0a4e5d"/><rect x="1920.5" y="834" width="121.5" height="8" fill="#0a4e5d"/><rect x="1920.5" y="842" width="113.5" height="7" fill="#0a4e5d"/><rect x="1920.5" y="849" width="119.5" height="8" fill="#0a4e5d"/><rect x="1920.5" y="857" width="151.5" height="7" fill="#0a4e5d"/><rect x="1920.5" y="864" width="156.5" height="8" fill="#0a4e5d"/><rect x="1920.5" y="872" width="175.5" height="8" fill="#0a4e5d"/><rect x="1920.5" y="880" width="152.5" height="7" fill="#0a4e5d"/><rect x="1920.5" y="887" width="147.5" height="8" fill="#0a4e5d"/><rect x="1920.5" y="895" width="172.5" height="7" fill="#0a4e5d"/><rect x="1920.5" y="902" width="149.5" height="8" fill="#0e5655"/><rect x="1920.5" y="910" width="153.5" height="7" fill="#0e5655"/><rect x="1920.5" y="917" width="147.5" height="8" fill="#0e5655"/><rect x="1920.5" y="925" width="177.5" height="8" fill="#0e5655"/><rect x="1920.5" y="933" width="150.5" height="7" fill="#0e5655"/><rect x="1920.5" y="940" width="143.5" height="8" fill="#0e5655"/><rect x="1920.5" y="948" width="146.5" height="7" fill="#0e5655"/><rect x="1920.5" y="955" width="172.5" height="8" fill="#0e5655"/><rect x="1920.5" y="963" width="223.5" height="8" fill="#0e5655"/><rect x="1920.5" y="971" width="262.5" height="7" fill="#0e5655"/><rect x="1920.5" y="978" width="267.5" height="8" fill="#0e5655"/><rect x="1920.5" y="986" width="298.5" height="7" fill="#0e5655"/><rect x="1920.5" y="993" width="291.5" height="8" fill="#0e5655"/><rect x="1920.5" y="1001" width="271.5" height="7" fill="#0e5655"/><rect x="1920.5" y="1008" width="298.5" height="8" fill="#0b505b"/><rect x="1920.5" y="1016" width="300.5" height="8" fill="#0b505b"/><rect x="1920.5" y="1024" width="271.5" height="7" fill="#0c5358"/><rect x="1920.5" y="1031" width="275.5" height="8" fill="#0a4d5e"/><rect x="1920.5" y="1039" width="227.5" height="7" fill="#0a4d5e"/><rect x="1920.5" y="1046" width="236.5" height="8" fill="#0a4d5e"/><rect x="1920.5" y="1054" width="244.5" height="7" fill="#0a4d5e"/><rect x="1920.5" y="1061" width="251.5" height="8" fill="#0a4d5e"/><rect x="1920.5" y="1069" width="306.5" height="8" fill="#074664"/><rect x="1920.5" y="1077" width="253.5" height="7" fill="#074664"/><rect x="1920.5" y="1084" width="244.5" height="8" fill="#033b6f"/><rect x="1920.5" y="1092" width="267.5" height="7" fill="#033b6f"/><rect x="1920.5" y="1099" width="206.5" height="8" fill="#033b6f"/><rect x="1920.5" y="1107" width="147.5" height="8" fill="#033b6f"/><rect x="1920.5" y="1115" width="107.5" height="7" fill="#033b6f"/><rect x="1920.5" y="1122" width="80.5" height="8" fill="#033b6f"/><rect x="1920.5" y="1130" width="111.5" height="7" fill="#113a75"/><rect x="1920.5" y="1137" width="100.5" height="8" fill="#113a75"/><rect x="1920.5" y="1145" width="113.5" height="7" fill="#153a77"/><rect x="1920.5" y="1152" width="157.5" height="8" fill="#193978"/><rect x="1920.5" y="1160" width="154.5" height="8" fill="#193978"/><rect x="1920.5" y="1168" width="195.5" height="7" fill="#1f397b"/><rect x="1920.5" y="1175" width="202.5" height="8" fill="#1f397b"/><rect x="1920.5" y="1183" width="253.5" height="7" fill="#1b3979"/><rect x="1920.5" y="1190" width="281.5" height="8" fill="#1b3979"/><rect x="1920.5" y="1198" width="312.5" height="7" fill="#1b3979"/><rect x="1920.5" y="1205" width="275.5" height="8" fill="#1b3979"/><rect x="1920.5" y="1213" width="299.5" height="8" fill="#1b3979"/><rect x="1920.5" y="1221" width="302.5" height="7" fill="#1b3979"/><rect x="1920.5" y="1228" width="300.5" height="8" fill="#1b3979"/><rect x="1920.5" y="1236" width="257.5" height="7" fill="#153a77"/><rect x="1920.5" y="1243" width="318.5" height="8" fill="#153a77"/><rect x="1920.5" y="1251" width="377.5" height="8" fill="#0d3a73"/><rect x="1920.5" y="1259" width="360.5" height="7" fill="#0d3a73"/><rect x="1920.5" y="1266" width="345.5" height="8" fill="#073b71"/><rect x="1920.5" y="1274" width="368.5" height="7" fill="#073b71"/><rect x="1920.5" y="1281" width="322.5" height="8" fill="#033b6f"/><rect x="1920.5" y="1289" width="281.5" height="7" fill="#074664"/><rect x="1920.5" y="1296" width="273.5" height="8" fill="#074664"/><rect x="1920.5" y="1304" width="285.5" height="8" fill="#0c5159"/><rect x="1920.5" y="1312" width="335.5" height="7" fill="#0c5159"/><rect x="1920.5" y="1319" width="357.5" height="8" fill="#0f5952"/><rect x="1920.5" y="1327" width="340.5" height="7" fill="#0f5952"/><rect x="1920.5" y="1334" width="366.5" height="8" fill="#12614a"/><rect x="1920.5" y="1342" width="419.5" height="7" fill="#12614a"/><rect x="1920.5" y="1349" width="373.5" height="8" fill="#105d4f"/><rect x="1920.5" y="1357" width="382.5" height="8" fill="#105d4f"/><rect x="1920.5" y="1365" width="315.5" height="7" fill="#105d4f"/><rect x="1920.5" y="1372" width="237.5" height="8" fill="#11604c"/><rect x="1920.5" y="1380" width="273.5" height="7" fill="#11604c"/><rect x="1920.5" y="1387" width="326.5" height="8" fill="#0a4d5e"/><rect x="1920.5" y="1395" width="350.5" height="8" fill="#0a4d5e"/><rect x="1920.5" y="1403" width="364.5" height="7" fill="#0a4d5e"/><rect x="1920.5" y="1410" width="413.5" height="8" fill="#05406a"/><rect x="1920.5" y="1418" width="422.5" height="7" fill="#05406a"/><rect x="1920.5" y="1425" width="466.5" height="8" fill="#05406a"/><rect x="1920.5" y="1433" width="473.5" height="7" fill="#05406a"/><rect x="1920.5" y="1440" width="517.5" height="8" fill="#074664"/><rect x="1920.5" y="1448" width="428.5" height="8" fill="#074664"/><rect x="1920.5" y="1456" width="350.5" height="7" fill="#074664"/><rect x="1920.5" y="1463" width="299.5" height="8" fill="#043d6d"/><rect x="1920.5" y="1471" width="265.5" height="7" fill="#043d6d"/><rect x="1920.5" y="1478" width="264.5" height="8" fill="#053b70"/><rect x="1920.5" y="1486" width="222.5" height="7" fill="#053b70"/><rect x="1920.5" y="1493" width="207.5" height="8" fill="#053b70"/><rect x="1920.5" y="1501" width="205.5" height="8" fill="#0b3a72"/><rect x="1920.5" y="1509" width="180.5" height="7" fill="#113a75"/><rect x="1920.5" y="1516" width="156.5" height="8" fill="#113a75"/><rect x="1920.5" y="1524" width="165.5" height="7" fill="#113a75"/><rect x="1920.5" y="1531" width="133.5" height="8" fill="#0d3a73"/><rect x="1920.5" y="1539" width="140.5" height="8" fill="#0d3a73"/><rect x="1920.5" y="1547" width="129.5" height="7" fill="#0d3a73"/><rect x="1920.5" y="1554" width="123.5" height="8" fill="#0d3a73"/><rect x="1920.5" y="1562" width="110.5" height="7" fill="#153a77"/><rect x="1920.5" y="1569" width="113.5" height="8" fill="#153a77"/><rect x="1920.5" y="1577" width="74.5" height="7" fill="#1f397b"/><rect x="1920.5" y="1584" width="53.5" height="8" fill="#1f397b"/><rect x="1920.5" y="1592" width="45.5" height="8" fill="#23387c"/><rect x="1920.5" y="1600" width="42.5" height="7" fill="#23387c"/><rect x="1920.5" y="1607" width="38.5" height="8" fill="#29387f"/><rect x="1920.5" y="1615" width="42.5" height="7" fill="#29387f"/><rect x="1920.5" y="1622" width="57.5" height="8" fill="#2f3781"/><rect x="1920.5" y="1630" width="59.5" height="7" fill="#383786"/><rect x="1920.5" y="1637" width="37.5" height="8" fill="#42368a"/><rect x="1920.5" y="1645" width="53.5" height="8" fill="#503590"/><rect x="1920.5" y="1653" width="68.5" height="7" fill="#503590"/><rect x="1920.5" y="1660" width="96.5" height="8" fill="#503590"/><rect x="1920.5" y="1668" width="130.5" height="7" fill="#503590"/><rect x="1920.5" y="1675" width="108.5" height="8" fill="#583493"/><rect x="1920.5" y="1683" width="112.5" height="8" fill="#583493"/><rect x="1920.5" y="1691" width="113.5" height="7" fill="#583493"/><rect x="1920.5" y="1698" width="107.5" height="8" fill="#583493"/><rect x="1920.5" y="1706" width="97.5" height="7" fill="#5e3496"/><rect x="1920.5" y="1713" width="140.5" height="8" fill="#5e3496"/><rect x="1920.5" y="1721" width="141.5" height="7" fill="#5e3496"/><rect x="1920.5" y="1728" width="112.5" height="8" fill="#5e3496"/><rect x="1920.5" y="1736" width="102.5" height="8" fill="#5e3496"/><rect x="1920.5" y="1744" width="85.5" height="7" fill="#5e3496"/><rect x="1920.5" y="1751" width="62.5" height="8" fill="#5e3496"/><rect x="1920.5" y="1759" width="48.5" height="7" fill="#5e3496"/><rect x="1920.5" y="1766" width="59.5" height="8" fill="#563492"/><rect x="1920.5" y="1774" width="76.5" height="7" fill="#563492"/><rect x="1920.5" y="1781" width="93.5" height="8" fill="#563492"/><rect x="1920.5" y="1789" width="77.5" height="8" fill="#563492"/><rect x="1920.5" y="1797" width="81.5" height="7" fill="#563492"/><rect x="1920.5" y="1804" width="88.5" height="8" fill="#563492"/><rect x="1920.5" y="1812" width="71.5" height="7" fill="#563492"/><rect x="1920.5" y="1819" width="68.5" height="8" fill="#563492"/><rect x="1920.5" y="1827" width="84.5" height="8" fill="#563492"/><rect x="1920.5" y="1835" width="81.5" height="7" fill="#563492"/><rect x="1920.5" y="1842" width="72.5" height="8" fill="#563492"/><rect x="1920.5" y="1850" width="71.5" height="7" fill="#563492"/><rect x="1920.5" y="1857" width="54.5" height="8" fill="#563492"/><rect x="1920.5" y="1865" width="50.5" height="7" fill="#563492"/><rect x="1920.5" y="1872" width="49.5" height="8" fill="#563492"/><rect x="1920.5" y="1880" width="64.5" height="8" fill="#563492"/><rect x="1920.5" y="1888" width="55.5" height="7" fill="#563492"/><rect x="1920.5" y="1895" width="56.5" height="8" fill="#563492"/><rect x="1920.5" y="1903" width="71.5" height="7" fill="#563492"/><rect x="1920.5" y="1910" width="79.5" height="8" fill="#563492"/><rect x="1920.5" y="1918" width="89.5" height="7" fill="#563492"/><rect x="1920.5" y="1925" width="101.5" height="8" fill="#563492"/><rect x="1920.5" y="1933" width="75.5" height="8" fill="#563492"/><rect x="1920.5" y="1941" width="59.5" height="7" fill="#563492"/><rect x="1920.5" y="1948" width="66.5" height="8" fill="#5c3495"/><rect x="1920.5" y="1956" width="71.5" height="7" fill="#5c3495"/><rect x="1920.5" y="1963" width="74.5" height="8" fill="#5c3495"/><rect x="1920.5" y="1971" width="65.5" height="8" fill="#5c3495"/><rect x="1920.5" y="1979" width="53.5" height="7" fill="#5c3495"/><rect x="1920.5" y="1986" width="30.5" height="8" fill="#5c3495"/><rect x="1920.5" y="1994" width="35.5" height="7" fill="#5c3495"/><rect x="1920.5" y="2001" width="40.5" height="8" fill="#5c3495"/><rect x="1920.5" y="2009" width="28.5" height="7" fill="#5c3495"/><rect x="1920.5" y="2016" width="17.5" height="8" fill="#5c3495"/><rect x="1920.5" y="2024" width="5.5" height="8" fill="#5c3495"/><rect x="1920.5" y="2032" width="9.5" height="7" fill="#5c3495"/><rect x="1920.5" y="2039" width="3.5" height="8" fill="#5c3495"/><rect x="1920.5" y="2047" width="3.5" height="7" fill="#5c3495"/><rect x="1920.5" y="2054" width="1.5" height="8" fill="#5c3495"/><rect x="1920.5" y="2062" width="3.5" height="7" fill="#5c3495"/>
</g>
<defs><linearGradient id="cb" x1="0" y1="1" x2="0" y2="0"><stop offset="0" stop-color="#663399"/><stop offset="0.5" stop-color="#033b6f"/><stop offset="1" stop-color="#228b22"/></linearGradient></defs>
<rect x="2610.5" y="720.5" width="150.0" height="1440.0" fill="url(#cb)"/>
<path d="M360.2 600.5v-33.0M360.2 120.5v33.0M360.2 2160.5v-33.0M360.2 720.5v33.0M921.2 600.5v-33.0M921.2 120.5v33.0M921.2 2160.5v-33.0M921.2 720.5v33.0M1482.2 600.5v-33.0M1482.2 120.5v33.0M1482.2 2160.5v-33.0M1482.2 720.5v33.0M360.5 600.4h33.0M1800.5 600.4h-33.0M360.5 351.6h33.0M1800.5 351.6h-33.0M360.5 2060.5h33.0M1800.5 2060.5h-33.0M1920.5 2060.5h33.0M2490.5 2060.5h-33.0M360.5 1853.6h33.0M1800.5 1853.6h-33.0M1920.5 1853.6h33.0M2490.5 1853.6h-33.0M360.5 1646.7h33.0M1800.5 1646.7h-33.0M1920.5 1646.7h33.0M2490.5 1646.7h-33.0M360.5 1439.8h33.0M1800.5 1439.8h-33.0M1920.5 1439.8h33.0M2490.5 1439.8h-33.0M360.5 1232.9h33.0M1800.5 1232.9h-33.0M1920.5 1232.9h33.0M2490.5 1232.9h-33.0M360.5 1026.0h33.0M1800.5 1026.0h-33.0M1920.5 1026.0h33.0M2490.5 1026.0h-33.0M360.5 819.1h33.0M1800.5 819.1h-33.0M1920.5 819.1h33.0M2490.5 819.1h-33.0M1920.6 2160.5v-33.0M1920.6 720.5v33.0M2377.6 2160.5v-33.0M2377.6 720.5v33.0M2760.5 2160.5h-32.0M2760.5 1872.5h-32.0M2760.5 1584.5h-32.0M2760.5 1296.5h-32.0M2760.5 1008.5h-32.0M2760.5 720.5h-32.0" stroke="#000" stroke-width="2.1" fill="none"/>
<path d="M500.4 600.5v-16.7M500.4 120.5v16.7M500.4 2160.5v-16.7M500.4 720.5v16.7M640.7 600.5v-16.7M640.7 120.5v16.7M640.7 2160.5v-16.7M640.7 720.5v16.7M781.0 600.5v-16.7M781.0 120.5v16.7M781.0 2160.5v-16.7M781.0 720.5v16.7M1061.5 600.5v-16.7M1061.5 120.5v16.7M1061.5 2160.5v-16.7M1061.5 720.5v16.7M1201.7 600.5v-16.7M1201.7 120.5v16.7M1201.7 2160.5v-16.7M1201.7 720.5v16.7M1342.0 600.5v-16.7M1342.0 120.5v16.7M1342.0 2160.5v-16.7M1342.0 720.5v16.7M1622.5 600.5v-16.7M1622.5 120.5v16.7M1622.5 2160.5v-16.7M1622.5 720.5v16.7M1762.7 600.5v-16.7M1762.7 120.5v16.7M1762.7 2160.5v-16.7M1762.7 720.5v16.7M360.5 550.6h16.7M1800.5 550.6h-16.7M360.5 500.9h16.7M1800.5 500.9h-16.7M360.5 451.1h16.7M1800.5 451.1h-16.7M360.5 401.4h16.7M1800.5 401.4h-16.7M360.5 301.9h16.7M1800.5 301.9h-16.7M360.5 252.1h16.7M1800.5 252.1h-16.7M360.5 202.4h16.7M1800.5 202.4h-16.7M360.5 152.6h16.7M1800.5 152.6h-16.7M360.5 2143.3h16.7M1800.5 2143.3h-16.7M1920.5 2143.3h16.7M2490.5 2143.3h-16.7M360.5 2101.9h16.7M1800.5 2101.9h-16.7M1920.5 2101.9h16.7M2490.5 2101.9h-16.7M360.5 2019.1h16.7M1800.5 2019.1h-16.7M1920.5 2019.1h16.7M2490.5 2019.1h-16.7M360.5 1977.7h16.7M1800.5 1977.7h-16.7M1920.5 1977.7h16.7M2490.5 1977.7h-16.7M360.5 1936.4h16.7M1800.5 1936.4h-16.7M1920.5 1936.4h16.7M2490.5 1936.4h-16.7M360.5 1895.0h16.7M1800.5 1895.0h-16.7M1920.5 1895.0h16.7M2490.5 1895.0h-16.7M360.5 1812.2h16.7M1800.5 1812.2h-16.7M1920.5 1812.2h16.7M2490.5 1812.2h-16.7M360.5 1770.8h16.7M1800.5 1770.8h-16.7M1920.5 1770.8h16.7M2490.5 1770.8h-16.7M360.5 1729.5h16.7M1800.5 1729.5h-16.7M1920.5 1729.5h16.7M2490.5 1729.5h-16.7M360.5 1688.1h16.7M1800.5 1688.1h-16.7M1920.5 1688.1h16.7M2490.5 1688.1h-16.7M360.5 1605.3h16.7M1800.5 1605.3h-16.7M1920.5 1605.3h16.7M2490.5 1605.3h-16.7M360.5 1563.9h16.7M1800.5 1563.9h-16.7M1920.5 1563.9h16.7M2490.5 1563.9h-16.7M360.5 1522.6h16.7M1800.5 1522.6h-16.7M1920.5 1522.6h16.7M2490.5 1522.6h-16.7M360.5 1481.2h16.7M1800.5 1481.2h-16.7M1920.5 1481.2h16.7M2490.5 1481.2h-16.7M360.5 1398.4h16.7M1800.5 1398.4h-16.7M1920.5 1398.4h16.7M2490.5 1398.4h-16.7M360.5 1357.0h16.7M1800.5 1357.0h-16.7M1920.5 1357.0h16.7M2490.5 1357.0h-16.7M360.5 1315.7h16.7M1800.5 1315.7h-16.7M1920.5 1315.7h16.7M2490.5 1315.7h-16.7M360.5 1274.3h16.7M1800.5 1274.3h-16.7M1920.5 1274.3h16.7M2490.5 1274.3h-16.7M360.5 1191.5h16.7M1800.5 1191.5h-16.7M1920.5 1191.5h16.7M2490.5 1191.5h-16.7M360.5 1150.1h16.7M1800.5 1150.1h-16.7M1920.5 1150.1h16.7M2490.5 1150.1h-16.7M360.5 1108.8h16.7M1800.5 1108.8h-16.7M1920.5 1108.8h16.7M2490.5 1108.8h-16.7M360.5 1067.4h16.7M1800.5 1067.4h-16.7M1920.5 1067.4h16.7M2490.5 1067.4h-16.7M360.5 984.6h16.7M1800.5 984.6h-16.7M1920.5 984.6h16.7M2490.5 984.6h-16.7M360.5 943.2h16.7M1800.5 943.2h-16.7M1920.5 943.2h16.7M2490.5 943.2h-16.7M360.5 901.9h16.7M1800.5 901.9h-16.7M1920.5 901.9h16.7M2490.5 901.9h-16.7M360.5 860.5h16.7M1800.5 860.5h-16.7M1920.5 860.5h16.7M2490.5 860.5h-16.7M360.5 777.7h16.7M1800.5 777.7h-16.7M1920.5 777.7h16.7M2490.5 777.7h-16.7M360.5 736.3h16.7M1800.5 736.3h-16.7M1920.5 736.3h16.7M2490.5 736.3h-16.7M2012.0 2160.5v-16.7M2012.0 720.5v16.7M2103.4 2160.5v-16.7M2103.4 720.5v16.7M2194.8 2160.5v-16.7M2194.8 720.5v16.7M2286.2 2160.5v-16.7M2286.2 720.5v16.7M2469.0 2160.5v-16.7M2469.0 720.5v16.7M2760.5 2088.5h-16.0M2760.5 2016.5h-16.0M2760.5 1944.5h-16.0M2760.5 1800.5h-16.0M2760.5 1728.5h-16.0M2760.5 1656.5h-16.0M2760.5 1512.5h-16.0M2760.5 1440.5h-16.0M2760.5 1368.5h-16.0M2760.5 1224.5h-16.0M2760.5 1152.5h-16.0M2760.5 1080.5h-16.0M2760.5 936.5h-16.0M2760.5 864.5h-16.0M2760.5 792.5h-16.0" stroke="#000" stroke-width="2.1" fill="none"/>
<g fill="none" stroke="#000" stroke-width="3.3"><rect x="360.5" y="120.5" width="1440.0" height="480.0"/><rect x="360.5" y="720.5" width="1440.0" height="1440.0"/><rect x="1920.5" y="720.5" width="570.0" height="1440.0"/><rect x="2610.5" y="720.5" width="150.0" height="1440.0"/></g>
<defs><filter id="fb" x="-5%" y="-20%" width="110%" height="140%"><feMorphology operator="dilate" radius="0.9 0"/></filter></defs>
<g filter="url(#fb)">
<text y="840.6" font-size="87.2"><tspan x="252.02" textLength="89.74" lengthAdjust="spacingAndGlyphs">150</tspan></text>
<text y="1047.5" font-size="87.2"><tspan x="252.02" textLength="89.74" lengthAdjust="spacingAndGlyphs">100</tspan></text>
<text y="1254.4" font-size="87.2"><tspan x="282.85" textLength="59.73" lengthAdjust="spacingAndGlyphs">50</tspan></text>
<text y="1461.3" font-size="87.2"><tspan x="315.61" textLength="26.99" lengthAdjust="spacingAndGlyphs">0</tspan></text>
<text y="1668.2" font-size="87.2"><tspan x="232.26" font-size="43.6" y="1663.3" textLength="47.82" lengthAdjust="spacingAndGlyphs">−</tspan><tspan x="282.85" y="1668.2" textLength="59.73" lengthAdjust="spacingAndGlyphs">50</tspan></text>
<text y="1875.1" font-size="87.2"><tspan x="202.12" font-size="43.6" y="1870.2" textLength="47.77" lengthAdjust="spacingAndGlyphs">−</tspan><tspan x="252.01" y="1875.1" textLength="90.47" lengthAdjust="spacingAndGlyphs">100</tspan></text>
<text y="2082.0" font-size="87.2"><tspan x="202.12" font-size="43.6" y="2077.1" textLength="47.77" lengthAdjust="spacingAndGlyphs">−</tspan><tspan x="252.01" y="2082.0" textLength="90.47" lengthAdjust="spacingAndGlyphs">150</tspan></text>
<text y="373.4" font-size="87.2"><tspan x="252.17" textLength="89.96" lengthAdjust="spacingAndGlyphs">250</tspan></text>
<text y="620.6" font-size="87.2"><tspan x="316.13" textLength="26.04" lengthAdjust="spacingAndGlyphs">0</tspan></text>
<text y="2237.0" font-size="87.2"><tspan x="346.73" textLength="28.17" lengthAdjust="spacingAndGlyphs">0</tspan></text>
<text y="2236.5" font-size="87.2"><tspan x="908.63" textLength="28.44" lengthAdjust="spacingAndGlyphs">2</tspan></text>
<text y="2236.6" font-size="87.2"><tspan x="1469.29" textLength="28.05" lengthAdjust="spacingAndGlyphs">4</tspan></text>
<text y="2237.0" font-size="87.2"><tspan x="1906.54" textLength="29.20" lengthAdjust="spacingAndGlyphs">0</tspan></text>
<text y="2237.0" font-size="87.2"><tspan x="2333.78" textLength="89.57" lengthAdjust="spacingAndGlyphs">500</tspan></text>
<text y="2181.5" font-size="87.2"><tspan x="2779.67" textLength="73.16" lengthAdjust="spacingAndGlyphs">0.0</tspan></text>
<text y="1893.5" font-size="87.2"><tspan x="2779.67" textLength="73.16" lengthAdjust="spacingAndGlyphs">0.2</tspan></text>
<text y="1605.5" font-size="87.2"><tspan x="2778.67" textLength="73.12" lengthAdjust="spacingAndGlyphs">0.4</tspan></text>
<text y="1317.5" font-size="87.2"><tspan x="2778.66" textLength="74.18" lengthAdjust="spacingAndGlyphs">0.6</tspan></text>
<text y="1029.5" font-size="87.2"><tspan x="2778.66" textLength="74.17" lengthAdjust="spacingAndGlyphs">0.8</tspan></text>
<text y="741.5" font-size="87.2"><tspan x="2777.52" textLength="76.36" lengthAdjust="spacingAndGlyphs">1.0</tspan></text>
<text y="2344.1" font-size="107.6"><tspan x="657.57" textLength="843.95" lengthAdjust="spacingAndGlyphs">Lateral displacement (nm)</tspan></text>
<text y="2344.6" font-size="107.6"><tspan x="2067.10" textLength="276.71" lengthAdjust="spacingAndGlyphs"># Counts</tspan></text>
<text y="280.8" font-size="130.1"><tspan x="1917.70" textLength="244.65" lengthAdjust="spacingAndGlyphs">PepDF</tspan></text>
<text y="432.2" font-size="109.0"><tspan x="1920.80" textLength="674.31" lengthAdjust="spacingAndGlyphs">Time window: 200 ns</tspan></text>
<text transform="translate(160.3 1783.26) rotate(-90)" font-size="106.8" textLength="682.00" lengthAdjust="spacingAndGlyphs">Precession (degrees)</text>
<text transform="translate(211.7 500.42) rotate(-90)" font-size="110.0" textLength="279.58" lengthAdjust="spacingAndGlyphs"># Counts</text>
<text transform="translate(2931.4 1733.83) rotate(-90)" font-size="88.4" textLength="585.54" lengthAdjust="spacingAndGlyphs">Normalized Mean Time</text>
</g>
</svg>
</body></html>
